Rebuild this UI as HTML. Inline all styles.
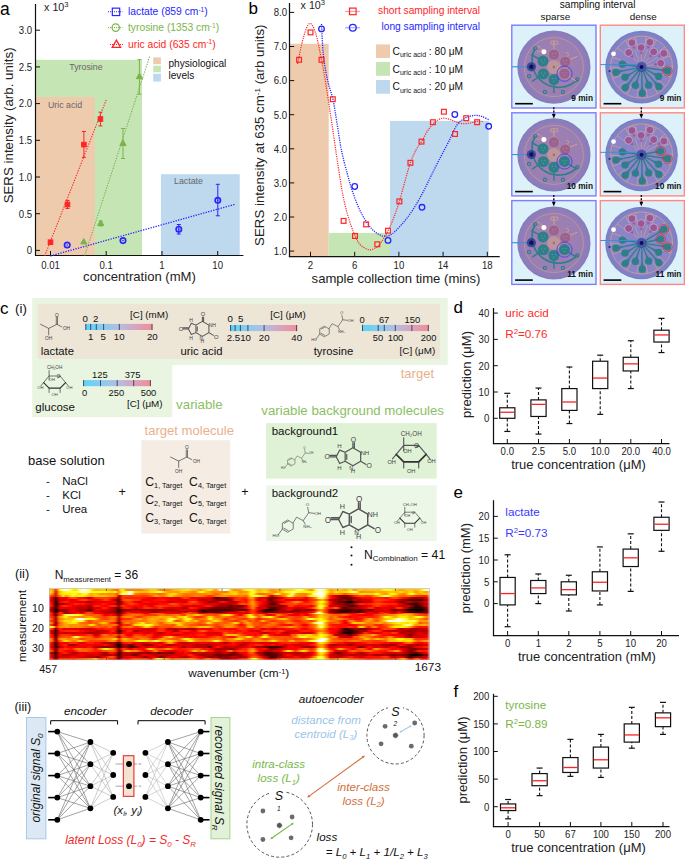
<!DOCTYPE html>
<html><head><meta charset="utf-8"><title>figure</title>
<style>html,body{margin:0;padding:0;background:#fff;} svg{display:block;} text{font-family:"Liberation Sans",sans-serif;}</style>
</head><body>
<svg width="685" height="859" viewBox="0 0 685 859" font-family="Liberation Sans, sans-serif">
<rect width="685" height="859" fill="#fff"/>
<defs>
<radialGradient id="gs" cx="50%" cy="50%" r="50%"><stop offset="0" stop-color="#a27eae"/><stop offset="0.75" stop-color="#9a7fb4"/><stop offset="1" stop-color="#867cbc"/></radialGradient>
<radialGradient id="gd" cx="50%" cy="50%" r="50%"><stop offset="0" stop-color="#8e84c6"/><stop offset="0.8" stop-color="#8a84c8"/><stop offset="1" stop-color="#7a7ec4"/></radialGradient>
<linearGradient id="cb1"><stop offset="0" stop-color="#5ed3f6"/><stop offset="0.25" stop-color="#86cdf0"/><stop offset="0.5" stop-color="#b2bfe0"/><stop offset="0.72" stop-color="#d4a6c4"/><stop offset="1" stop-color="#f28d99"/></linearGradient>
<linearGradient id="cb2"><stop offset="0" stop-color="#5ed3f6"/><stop offset="0.25" stop-color="#86cdf0"/><stop offset="0.5" stop-color="#b2bfe0"/><stop offset="0.72" stop-color="#d4a6c4"/><stop offset="1" stop-color="#f28d99"/></linearGradient>
<linearGradient id="cb3"><stop offset="0" stop-color="#5ed3f6"/><stop offset="0.25" stop-color="#86cdf0"/><stop offset="0.5" stop-color="#b2bfe0"/><stop offset="0.72" stop-color="#d4a6c4"/><stop offset="1" stop-color="#f28d99"/></linearGradient>
<linearGradient id="cb4"><stop offset="0" stop-color="#5ed3f6"/><stop offset="0.25" stop-color="#86cdf0"/><stop offset="0.5" stop-color="#b2bfe0"/><stop offset="0.72" stop-color="#d4a6c4"/><stop offset="1" stop-color="#f28d99"/></linearGradient>
<filter id="hblur" x="0" y="0" width="1" height="1"><feGaussianBlur stdDeviation="1.1 0.35"/></filter>
</defs>
<text x="0" y="14.6" font-size="17.5" text-anchor="start" fill="#000" >a</text>
<rect x="35.5" y="59.8" width="106.5" height="195.7" fill="#c6e5b5" />
<rect x="35.5" y="97" width="59.2" height="158.5" fill="#efcbae" />
<rect x="160.9" y="174.2" width="78.8" height="81.3" fill="#bed8ee" />
<text x="69.3" y="69.9" font-size="8.8" text-anchor="start" fill="#666" >Tyrosine</text>
<text x="48" y="107.9" font-size="8.8" text-anchor="start" fill="#666" >Uric acid</text>
<text x="174" y="184.3" font-size="8.8" text-anchor="start" fill="#666" >Lactate</text>
<line x1="35.5" y1="4" x2="35.5" y2="256" stroke="#111" stroke-width="1.2" />
<line x1="35" y1="255.5" x2="243.4" y2="255.5" stroke="#111" stroke-width="1.2" />
<line x1="35.5" y1="250.4" x2="40" y2="250.4" stroke="#111" stroke-width="1" />
<text transform="translate(32.2,254.2) scale(0.89,1)" font-size="10.8" text-anchor="end" fill="#222">0</text>
<line x1="35.5" y1="213.7" x2="40" y2="213.7" stroke="#111" stroke-width="1" />
<text transform="translate(32.2,217.5) scale(0.89,1)" font-size="10.8" text-anchor="end" fill="#222">0.5</text>
<line x1="35.5" y1="177" x2="40" y2="177" stroke="#111" stroke-width="1" />
<text transform="translate(32.2,180.8) scale(0.89,1)" font-size="10.8" text-anchor="end" fill="#222">1.0</text>
<line x1="35.5" y1="140.3" x2="40" y2="140.3" stroke="#111" stroke-width="1" />
<text transform="translate(32.2,144.1) scale(0.89,1)" font-size="10.8" text-anchor="end" fill="#222">1.5</text>
<line x1="35.5" y1="103.6" x2="40" y2="103.6" stroke="#111" stroke-width="1" />
<text transform="translate(32.2,107.4) scale(0.89,1)" font-size="10.8" text-anchor="end" fill="#222">2.0</text>
<line x1="35.5" y1="66.9" x2="40" y2="66.9" stroke="#111" stroke-width="1" />
<text transform="translate(32.2,70.7) scale(0.89,1)" font-size="10.8" text-anchor="end" fill="#222">2.5</text>
<line x1="35.5" y1="30.2" x2="40" y2="30.2" stroke="#111" stroke-width="1" />
<text transform="translate(32.2,34) scale(0.89,1)" font-size="10.8" text-anchor="end" fill="#222">3.0</text>
<line x1="50.5" y1="255.5" x2="50.5" y2="251" stroke="#111" stroke-width="1" />
<text transform="translate(50.5,268.5) scale(0.89,1)" font-size="10.8" text-anchor="middle" fill="#222">0.01</text>
<line x1="106.2" y1="255.5" x2="106.2" y2="251" stroke="#111" stroke-width="1" />
<text transform="translate(106.2,268.5) scale(0.89,1)" font-size="10.8" text-anchor="middle" fill="#222">0.1</text>
<line x1="162" y1="255.5" x2="162" y2="251" stroke="#111" stroke-width="1" />
<text transform="translate(162,268.5) scale(0.89,1)" font-size="10.8" text-anchor="middle" fill="#222">1</text>
<line x1="217.7" y1="255.5" x2="217.7" y2="251" stroke="#111" stroke-width="1" />
<text transform="translate(217.7,268.5) scale(0.89,1)" font-size="10.8" text-anchor="middle" fill="#222">10</text>
<text x="44.1" y="11.1" font-size="10.7" text-anchor="start" fill="#222" >x 10<tspan dy="-4" font-size="7.6">3</tspan></text>
<text x="139.5" y="280.9" font-size="13.1" text-anchor="middle" fill="#222" >concentration (mM)</text>
<text transform="translate(12.9,125.4) rotate(-90)" font-size="13.3" text-anchor="middle" fill="#222">SERS intensity (arb. units)</text>
<line x1="108" y1="11.75" x2="122.4" y2="11.75" stroke="#2626ff" stroke-width="1" stroke-dasharray="1 1"/>
<rect x="112.3" y="8.15" width="7.4" height="7.4" fill="none" stroke="#2626ff" stroke-width="1.2" />
<line x1="108" y1="27.6" x2="122.4" y2="27.6" stroke="#78b54a" stroke-width="1" stroke-dasharray="1 1"/>
<circle cx="115.7" cy="27.6" r="3.7" fill="none" stroke="#78b54a" stroke-width="1.2"/>
<line x1="110" y1="44.5" x2="124" y2="44.5" stroke="#ff2525" stroke-width="1" stroke-dasharray="1 1"/>
<polygon points="116.4,40.07 112.2,47.38 120.6,47.38" fill="none" stroke="#ff2525" stroke-width="1.3" stroke-linejoin="miter"/>
<text x="128" y="14.9" font-size="10.3" text-anchor="start" fill="#2626ff" >lactate (859 cm<tspan dy="-3.3" font-size="6.5">-1</tspan><tspan dy="3.3">)</tspan></text>
<text x="128" y="30.8" font-size="10.3" text-anchor="start" fill="#78b54a" >tyrosine (1353 cm<tspan dy="-3.3" font-size="6.5">-1</tspan><tspan dy="3.3">)</tspan></text>
<text x="128" y="47.7" font-size="10.3" text-anchor="start" fill="#ff2525" >uric acid (635 cm<tspan dy="-3.3" font-size="6.5">-1</tspan><tspan dy="3.3">)</tspan></text>
<rect x="153.2" y="57.4" width="7.7" height="6.8" fill="#efcbae" />
<rect x="153.2" y="65.7" width="7.7" height="6.6" fill="#c6e5b5" />
<rect x="153.2" y="73.8" width="7.7" height="7.7" fill="#bed8ee" />
<text x="168.5" y="67" font-size="10.1" text-anchor="start" fill="#111" >physiological</text>
<text x="168.5" y="79" font-size="10.1" text-anchor="start" fill="#111" >levels</text>
<line x1="44.7" y1="255.9" x2="106.4" y2="99.5" stroke="#ff2525" stroke-width="1.1" stroke-dasharray="1.3 1.3"/>
<line x1="84.7" y1="255.5" x2="149.6" y2="56.6" stroke="#78b54a" stroke-width="1.1" stroke-dasharray="1.3 1.3"/>
<line x1="50.4" y1="256" x2="234.7" y2="204.4" stroke="#2626ff" stroke-width="1.3" stroke-dasharray="1.3 1.3"/>
<line x1="67.5" y1="200.5" x2="67.5" y2="208.5" stroke="#ff2525" stroke-width="1" />
<line x1="65.5" y1="200.5" x2="69.5" y2="200.5" stroke="#ff2525" stroke-width="1" />
<line x1="65.5" y1="208.5" x2="69.5" y2="208.5" stroke="#ff2525" stroke-width="1" />
<line x1="83.9" y1="131.5" x2="83.9" y2="157.4" stroke="#ff2525" stroke-width="1" />
<line x1="81.9" y1="131.5" x2="85.9" y2="131.5" stroke="#ff2525" stroke-width="1" />
<line x1="81.9" y1="157.4" x2="85.9" y2="157.4" stroke="#ff2525" stroke-width="1" />
<line x1="100.4" y1="112.2" x2="100.4" y2="125.9" stroke="#ff2525" stroke-width="1" />
<line x1="98.4" y1="112.2" x2="102.4" y2="112.2" stroke="#ff2525" stroke-width="1" />
<line x1="98.4" y1="125.9" x2="102.4" y2="125.9" stroke="#ff2525" stroke-width="1" />
<rect x="48.2" y="239.9" width="4.6" height="4.6" fill="#ff2525" stroke="#ff2525" stroke-width="1" />
<rect x="65.2" y="202.2" width="4.6" height="4.6" fill="#ff2525" stroke="#ff2525" stroke-width="1" />
<rect x="81.6" y="142.3" width="4.6" height="4.6" fill="#ff2525" stroke="#ff2525" stroke-width="1" />
<rect x="98.1" y="116.7" width="4.6" height="4.6" fill="#ff2525" stroke="#ff2525" stroke-width="1" />
<line x1="123" y1="128.5" x2="123" y2="158.5" stroke="#78b54a" stroke-width="1" />
<line x1="121" y1="128.5" x2="125" y2="128.5" stroke="#78b54a" stroke-width="1" />
<line x1="121" y1="158.5" x2="125" y2="158.5" stroke="#78b54a" stroke-width="1" />
<line x1="139.4" y1="59.6" x2="139.4" y2="94.2" stroke="#78b54a" stroke-width="1" />
<line x1="137.4" y1="59.6" x2="141.4" y2="59.6" stroke="#78b54a" stroke-width="1" />
<line x1="137.4" y1="94.2" x2="141.4" y2="94.2" stroke="#78b54a" stroke-width="1" />
<line x1="100.7" y1="221" x2="100.7" y2="226" stroke="#78b54a" stroke-width="1" />
<line x1="98.7" y1="221" x2="102.7" y2="221" stroke="#78b54a" stroke-width="1" />
<line x1="98.7" y1="226" x2="102.7" y2="226" stroke="#78b54a" stroke-width="1" />
<polygon points="83.8,238.56 80.7,243.95 86.9,243.95" fill="#78b54a" stroke="#78b54a" stroke-width="1" stroke-linejoin="miter"/>
<polygon points="100.7,220.06 97.6,225.45 103.8,225.45" fill="#78b54a" stroke="#78b54a" stroke-width="1" stroke-linejoin="miter"/>
<polygon points="123,140.06 119.9,145.45 126.1,145.45" fill="#78b54a" stroke="#78b54a" stroke-width="1" stroke-linejoin="miter"/>
<polygon points="139.4,73.26 136.3,78.65 142.5,78.65" fill="#78b54a" stroke="#78b54a" stroke-width="1" stroke-linejoin="miter"/>
<line x1="178.8" y1="224.5" x2="178.8" y2="234" stroke="#2626ff" stroke-width="1" />
<line x1="176.8" y1="224.5" x2="180.8" y2="224.5" stroke="#2626ff" stroke-width="1" />
<line x1="176.8" y1="234" x2="180.8" y2="234" stroke="#2626ff" stroke-width="1" />
<line x1="217.8" y1="184.3" x2="217.8" y2="215.8" stroke="#2626ff" stroke-width="1" />
<line x1="215.8" y1="184.3" x2="219.8" y2="184.3" stroke="#2626ff" stroke-width="1" />
<line x1="215.8" y1="215.8" x2="219.8" y2="215.8" stroke="#2626ff" stroke-width="1" />
<circle cx="67.2" cy="245" r="2.7" fill="none" stroke="#2626ff" stroke-width="1.7"/>
<circle cx="67.2" cy="245" r="0.8" fill="#2626ff"/>
<circle cx="123" cy="240.6" r="2.7" fill="none" stroke="#2626ff" stroke-width="1.7"/>
<circle cx="123" cy="240.6" r="0.8" fill="#2626ff"/>
<circle cx="178.8" cy="229.2" r="2.7" fill="none" stroke="#2626ff" stroke-width="1.7"/>
<circle cx="178.8" cy="229.2" r="0.8" fill="#2626ff"/>
<circle cx="217.8" cy="200.3" r="2.7" fill="none" stroke="#2626ff" stroke-width="1.7"/>
<circle cx="217.8" cy="200.3" r="0.8" fill="#2626ff"/>
<text x="248.5" y="14.3" font-size="17" text-anchor="start" fill="#000" >b</text>
<rect x="289.9" y="43.8" width="38.8" height="212.5" fill="#efcbae" />
<rect x="328.7" y="232.9" width="61.3" height="23.4" fill="#c6e5b5" />
<rect x="390" y="120.9" width="98.7" height="135.4" fill="#bed8ee" />
<line x1="289.5" y1="3" x2="289.5" y2="257.1" stroke="#111" stroke-width="1.25" />
<line x1="288.9" y1="256.5" x2="499.7" y2="256.5" stroke="#111" stroke-width="1.25" />
<line x1="289.5" y1="251.1" x2="294.2" y2="251.1" stroke="#111" stroke-width="1" />
<text transform="translate(287,254.9) scale(0.89,1)" font-size="10.8" text-anchor="end" fill="#222">1.0</text>
<line x1="289.5" y1="217" x2="294.2" y2="217" stroke="#111" stroke-width="1" />
<text transform="translate(287,220.8) scale(0.89,1)" font-size="10.8" text-anchor="end" fill="#222">2.0</text>
<line x1="289.5" y1="182.9" x2="294.2" y2="182.9" stroke="#111" stroke-width="1" />
<text transform="translate(287,186.7) scale(0.89,1)" font-size="10.8" text-anchor="end" fill="#222">3.0</text>
<line x1="289.5" y1="148.8" x2="294.2" y2="148.8" stroke="#111" stroke-width="1" />
<text transform="translate(287,152.6) scale(0.89,1)" font-size="10.8" text-anchor="end" fill="#222">4.0</text>
<line x1="289.5" y1="114.7" x2="294.2" y2="114.7" stroke="#111" stroke-width="1" />
<text transform="translate(287,118.5) scale(0.89,1)" font-size="10.8" text-anchor="end" fill="#222">5.0</text>
<line x1="289.5" y1="80.6" x2="294.2" y2="80.6" stroke="#111" stroke-width="1" />
<text transform="translate(287,84.4) scale(0.89,1)" font-size="10.8" text-anchor="end" fill="#222">6.0</text>
<line x1="289.5" y1="46.5" x2="294.2" y2="46.5" stroke="#111" stroke-width="1" />
<text transform="translate(287,50.3) scale(0.89,1)" font-size="10.8" text-anchor="end" fill="#222">7.0</text>
<line x1="289.5" y1="12.4" x2="294.2" y2="12.4" stroke="#111" stroke-width="1" />
<text transform="translate(287,16.2) scale(0.89,1)" font-size="10.8" text-anchor="end" fill="#222">8.0</text>
<line x1="310.5" y1="256.5" x2="310.5" y2="251.8" stroke="#111" stroke-width="1" />
<text transform="translate(310.5,268.9) scale(0.89,1)" font-size="10.8" text-anchor="middle" fill="#222">2</text>
<line x1="354.7" y1="256.5" x2="354.7" y2="251.8" stroke="#111" stroke-width="1" />
<text transform="translate(354.7,268.9) scale(0.89,1)" font-size="10.8" text-anchor="middle" fill="#222">6</text>
<line x1="398.9" y1="256.5" x2="398.9" y2="251.8" stroke="#111" stroke-width="1" />
<text transform="translate(398.9,268.9) scale(0.89,1)" font-size="10.8" text-anchor="middle" fill="#222">10</text>
<line x1="443.1" y1="256.5" x2="443.1" y2="251.8" stroke="#111" stroke-width="1" />
<text transform="translate(443.1,268.9) scale(0.89,1)" font-size="10.8" text-anchor="middle" fill="#222">14</text>
<line x1="487.3" y1="256.5" x2="487.3" y2="251.8" stroke="#111" stroke-width="1" />
<text transform="translate(487.3,268.9) scale(0.89,1)" font-size="10.8" text-anchor="middle" fill="#222">18</text>
<text x="300.6" y="9.2" font-size="10.7" text-anchor="start" fill="#222" >x 10<tspan dy="-4" font-size="7.6">3</tspan></text>
<text x="480.4" y="283.3" font-size="13.1" text-anchor="end" fill="#222" >sample collection time (mins)</text>
<text transform="translate(264.3,135.2) rotate(-90)" font-size="13.3" text-anchor="middle" fill="#222">SERS intensity at 635 cm<tspan dy="-4.5" font-size="8">-1</tspan><tspan dy="4.5"> (arb units)</tspan></text>
<text x="480" y="13.6" font-size="10.2" text-anchor="end" fill="#ff2525" >short sampling interval</text>
<text x="480" y="29.8" font-size="10.2" text-anchor="end" fill="#2626ff" >long sampling interval</text>
<line x1="345.5" y1="11.4" x2="360" y2="11.4" stroke="#ff2525" stroke-width="1" stroke-dasharray="1 1"/>
<rect x="349.5" y="8.1" width="6.6" height="6.6" fill="none" stroke="#ff2525" stroke-width="1.2" />
<line x1="345.5" y1="27.8" x2="360" y2="27.8" stroke="#2626ff" stroke-width="1" stroke-dasharray="1 1"/>
<circle cx="352.8" cy="27.8" r="3.4" fill="none" stroke="#2626ff" stroke-width="1.3"/>
<rect x="376" y="44.4" width="14" height="13.6" fill="#efcbae" />
<text x="392.6" y="54.8" font-size="10.2" text-anchor="start" fill="#111" >C<tspan dy="2.6" font-size="7">uric acid</tspan><tspan dy="-2.6"> : 80 μM</tspan></text>
<rect x="376" y="62" width="14" height="13.8" fill="#c6e5b5" />
<text x="392.6" y="72.5" font-size="10.2" text-anchor="start" fill="#111" >C<tspan dy="2.6" font-size="7">uric acid</tspan><tspan dy="-2.6"> : 10 μM</tspan></text>
<rect x="376" y="80" width="14" height="13.7" fill="#bed8ee" />
<text x="392.6" y="90.45" font-size="10.2" text-anchor="start" fill="#111" >C<tspan dy="2.6" font-size="7">uric acid</tspan><tspan dy="-2.6"> : 20 μM</tspan></text>
<path d="M297.5,64 C298.5,59.53 301.5,43.95 303.5,37.2 C305.5,30.45 307.5,24.23 309.5,23.5 C311.5,22.77 313.5,26.75 315.5,32.8 C317.5,38.85 319.83,51.6 321.5,59.8 C323.17,68 324.17,73.97 325.5,82 C326.83,90.03 328.25,99.83 329.5,108 C330.75,116.17 331.67,122 333,131 C334.33,140 335.83,151.22 337.5,162 C339.17,172.78 341.25,186.7 343,195.7 C344.75,204.7 346.18,209.78 348,216 C349.82,222.22 351.9,228.25 353.9,233 C355.9,237.75 357.45,241.7 360,244.5 C362.55,247.3 366.53,249.3 369.2,249.8 C371.87,250.3 374.18,248.48 376,247.5 C377.82,246.52 378.1,246.7 380.1,243.9 C382.1,241.1 385.68,235.18 388,230.7 C390.32,226.22 392.1,221.88 394,217 C395.9,212.12 397.57,207.4 399.4,201.4 C401.23,195.4 403.17,187.43 405,181 C406.83,174.57 408.57,167.97 410.4,162.8 C412.23,157.63 414.15,153.53 416,150 C417.85,146.47 419.58,144.77 421.5,141.6 C423.42,138.43 425.58,133.93 427.5,131 C429.42,128.07 431.25,125.83 433,124 C434.75,122.17 436.33,120.97 438,120 C439.67,119.03 441,118.28 443,118.2 C445,118.12 447.83,118.87 450,119.5 C452.17,120.13 453.83,121.3 456,122 C458.17,122.7 460.67,123.53 463,123.7 C465.33,123.87 467.67,123.37 470,123 C472.33,122.63 474.83,121.75 477,121.5 C479.17,121.25 482,121.5 483,121.5" fill="none" stroke="#ff2525" stroke-width="1.2" stroke-dasharray="1.2 1.1"/>
<path d="M321.5,24 C321.68,27.5 322.15,38.67 322.6,45 C323.05,51.33 323.3,55.83 324.2,62 C325.1,68.17 326.53,75.73 328,82 C329.47,88.27 331.53,92.93 333,99.6 C334.47,106.27 335.4,113.6 336.8,122 C338.2,130.4 339.65,141.37 341.4,150 C343.15,158.63 345.53,167.13 347.3,173.8 C349.07,180.47 350.18,184.53 352,190 C353.82,195.47 356.2,201.93 358.2,206.6 C360.2,211.27 361.8,214.35 364,218 C366.2,221.65 369.07,225.83 371.4,228.5 C373.73,231.17 375.82,232.72 378,234 C380.18,235.28 382.17,236.2 384.5,236.2 C386.83,236.2 388.78,236.37 392,234 C395.22,231.63 400.13,226.33 403.8,222 C407.47,217.67 410.72,213.12 414,208 C417.28,202.88 420.5,196.97 423.5,191.3 C426.5,185.63 429.08,179.83 432,174 C434.92,168.17 438.25,161.63 441,156.3 C443.75,150.97 445.95,147.05 448.5,142 C451.05,136.95 454.05,129.67 456.3,126 C458.55,122.33 459.88,121.58 462,120 C464.12,118.42 466.67,117.27 469,116.5 C471.33,115.73 473.83,115.4 476,115.4 C478.17,115.4 479.8,115.73 482,116.5 C484.2,117.27 488,119.42 489.2,120" fill="none" stroke="#2626ff" stroke-width="1.3" stroke-dasharray="1.2 1.1"/>
<rect x="296.7" y="57.4" width="4.8" height="4.8" fill="none" stroke="#ff2525" stroke-width="1.2" />
<rect x="308.1" y="30" width="4.8" height="4.8" fill="none" stroke="#ff2525" stroke-width="1.2" />
<rect x="319.1" y="57.4" width="4.8" height="4.8" fill="none" stroke="#ff2525" stroke-width="1.2" />
<rect x="330.4" y="96.8" width="4.8" height="4.8" fill="none" stroke="#ff2525" stroke-width="1.2" />
<rect x="341.2" y="218.5" width="4.8" height="4.8" fill="none" stroke="#ff2525" stroke-width="1.2" />
<rect x="352.6" y="233.6" width="4.8" height="4.8" fill="none" stroke="#ff2525" stroke-width="1.2" />
<rect x="363.7" y="222" width="4.8" height="4.8" fill="none" stroke="#ff2525" stroke-width="1.2" />
<rect x="374.9" y="241.9" width="4.8" height="4.8" fill="none" stroke="#ff2525" stroke-width="1.2" />
<rect x="385.6" y="228.3" width="4.8" height="4.8" fill="none" stroke="#ff2525" stroke-width="1.2" />
<rect x="397" y="199" width="4.8" height="4.8" fill="none" stroke="#ff2525" stroke-width="1.2" />
<rect x="408" y="160.4" width="4.8" height="4.8" fill="none" stroke="#ff2525" stroke-width="1.2" />
<rect x="419.1" y="139.2" width="4.8" height="4.8" fill="none" stroke="#ff2525" stroke-width="1.2" />
<rect x="430.5" y="119.8" width="4.8" height="4.8" fill="none" stroke="#ff2525" stroke-width="1.2" />
<rect x="441.5" y="109.3" width="4.8" height="4.8" fill="none" stroke="#ff2525" stroke-width="1.2" />
<rect x="452.6" y="131.6" width="4.8" height="4.8" fill="none" stroke="#ff2525" stroke-width="1.2" />
<rect x="463.8" y="115.8" width="4.8" height="4.8" fill="none" stroke="#ff2525" stroke-width="1.2" />
<rect x="474.7" y="119.8" width="4.8" height="4.8" fill="none" stroke="#ff2525" stroke-width="1.2" />
<circle cx="321.5" cy="28.9" r="2.8" fill="none" stroke="#2626ff" stroke-width="1.3"/>
<circle cx="354.7" cy="186.5" r="2.8" fill="none" stroke="#2626ff" stroke-width="1.3"/>
<circle cx="388" cy="240.4" r="2.8" fill="none" stroke="#2626ff" stroke-width="1.3"/>
<circle cx="422" cy="207.3" r="2.8" fill="none" stroke="#2626ff" stroke-width="1.3"/>
<circle cx="454.8" cy="114.5" r="2.8" fill="none" stroke="#2626ff" stroke-width="1.3"/>
<circle cx="488.7" cy="126.3" r="2.8" fill="none" stroke="#2626ff" stroke-width="1.3"/>
<text x="597.6" y="7.6" font-size="10.1" text-anchor="middle" fill="#111" >sampling interval</text>
<text x="555.4" y="19.9" font-size="9.9" text-anchor="middle" fill="#111" >sparse</text>
<text x="643.2" y="19.9" font-size="9.9" text-anchor="middle" fill="#111" >dense</text>
<rect x="511.8" y="25.2" width="84.2" height="82.8" fill="#dcf1f9" stroke="#7d7dff" stroke-width="1.4" />
<circle cx="553.9" cy="67.1" r="36.6" fill="url(#gs)"/>
<circle cx="553.9" cy="67.1" r="29.5" fill="none" stroke="#d6a08a" stroke-width="0.8" opacity="0.75"/>
<path d="M534.9,49.1 l4,-3 l3,3 l-3,3 z M550.9,41.1 h7 v3 h-7 z M565.9,52.1 l3,2 l-2,3" fill="none" stroke="#d6a08a" stroke-width="1" opacity="0.8"/>
<path d="M535.16,48.36 A26.5,26.5 0 0 0 577.3,79.54" fill="none" stroke="#2f7f8a" stroke-width="1.7"/>
<circle cx="535.16" cy="48.36" r="1.6" fill="none" stroke="#2f7f8a" stroke-width="1.2"/>
<circle cx="529" cy="76.16" r="1.6" fill="none" stroke="#2f7f8a" stroke-width="1.2"/>
<circle cx="544.84" cy="92" r="1.6" fill="none" stroke="#2f7f8a" stroke-width="1.2"/>
<circle cx="562.96" cy="92" r="1.6" fill="none" stroke="#2f7f8a" stroke-width="1.2"/>
<circle cx="577.3" cy="79.54" r="1.6" fill="none" stroke="#2f7f8a" stroke-width="1.2"/>
<line x1="511.8" y1="66.8" x2="532.9" y2="66.8" stroke="#3c8fd8" stroke-width="1.1" />
<circle cx="531.4" cy="66.8" r="4.6" fill="#2a3c9a" opacity="0.85"/>
<circle cx="531.4" cy="66.8" r="2.2" fill="#0c1450"/>
<circle cx="543.9" cy="51.7" r="2.5" fill="#ffffff"/>
<circle cx="553.9" cy="67.1" r="6.8" fill="#c9a090" opacity="0.7"/>
<circle cx="553.9" cy="67.1" r="1.3" fill="#9a6a8a"/>
<line x1="542.97" y1="61.04" x2="531.16" y2="54.49" stroke="#2f7f8a" stroke-width="1.5" />
<circle cx="542.97" cy="61.04" r="5.5" fill="#2f7f8a"/>
<circle cx="541.37" cy="60.04" r="0.5" fill="#9fc6cc" opacity="0.6"/>
<circle cx="544.57" cy="60.04" r="0.5" fill="#9fc6cc" opacity="0.6"/>
<circle cx="542.97" cy="62.64" r="0.5" fill="#9fc6cc" opacity="0.6"/>
<line x1="543.42" y1="73.91" x2="532.09" y2="81.26" stroke="#2f7f8a" stroke-width="1.5" />
<circle cx="543.42" cy="73.91" r="5.5" fill="#2f7f8a"/>
<circle cx="541.82" cy="72.91" r="0.5" fill="#9fc6cc" opacity="0.6"/>
<circle cx="545.02" cy="72.91" r="0.5" fill="#9fc6cc" opacity="0.6"/>
<circle cx="543.42" cy="75.51" r="0.5" fill="#9fc6cc" opacity="0.6"/>
<line x1="553.9" y1="79.6" x2="553.9" y2="93.1" stroke="#2f7f8a" stroke-width="1.5" />
<circle cx="553.9" cy="79.6" r="5.5" fill="#2f7f8a"/>
<circle cx="552.3" cy="78.6" r="0.5" fill="#9fc6cc" opacity="0.6"/>
<circle cx="555.5" cy="78.6" r="0.5" fill="#9fc6cc" opacity="0.6"/>
<circle cx="553.9" cy="81.2" r="0.5" fill="#9fc6cc" opacity="0.6"/>
<line x1="553.9" y1="54.6" x2="553.9" y2="41.1" stroke="#d6a08a" stroke-width="1" />
<circle cx="553.9" cy="54.6" r="5.5" fill="#9a6290"/>
<circle cx="553.9" cy="54.6" r="5.5" fill="none" stroke="#d6a08a" stroke-width="0.6" opacity="0.7"/>
<circle cx="552.3" cy="53.6" r="0.5" fill="#9fc6cc" opacity="0.6"/>
<circle cx="555.5" cy="53.6" r="0.5" fill="#9fc6cc" opacity="0.6"/>
<circle cx="553.9" cy="56.2" r="0.5" fill="#9fc6cc" opacity="0.6"/>
<line x1="565.23" y1="61.82" x2="577.46" y2="56.11" stroke="#d6a08a" stroke-width="1" />
<circle cx="565.23" cy="61.82" r="5.5" fill="#9a6290"/>
<circle cx="565.23" cy="61.82" r="5.5" fill="none" stroke="#d6a08a" stroke-width="0.6" opacity="0.7"/>
<circle cx="563.63" cy="60.82" r="0.5" fill="#9fc6cc" opacity="0.6"/>
<circle cx="566.83" cy="60.82" r="0.5" fill="#9fc6cc" opacity="0.6"/>
<circle cx="565.23" cy="63.42" r="0.5" fill="#9fc6cc" opacity="0.6"/>
<line x1="564.5" y1="73.72" x2="575.95" y2="80.88" stroke="#d6a08a" stroke-width="1" />
<circle cx="564.5" cy="73.72" r="5.5" fill="#9a6290"/>
<circle cx="564.5" cy="73.72" r="5.5" fill="none" stroke="#d6a08a" stroke-width="0.6" opacity="0.7"/>
<circle cx="562.9" cy="72.72" r="0.5" fill="#9fc6cc" opacity="0.6"/>
<circle cx="566.1" cy="72.72" r="0.5" fill="#9fc6cc" opacity="0.6"/>
<circle cx="564.5" cy="75.32" r="0.5" fill="#9fc6cc" opacity="0.6"/>
<circle cx="564.5" cy="73.72" r="7.6" fill="none" stroke="#3a3aff" stroke-width="0.8"/>
<line x1="515.1" y1="103.7" x2="532.8" y2="103.7" stroke="#000" stroke-width="1.6" />
<text x="593" y="101" font-size="8.3" text-anchor="end" fill="#111" font-weight="bold">9 min</text>
<rect x="600.3" y="25.2" width="84.1" height="82.8" fill="#dcf1f9" stroke="#ff8884" stroke-width="1.4" />
<circle cx="641.55" cy="67.1" r="36.3" fill="url(#gd)"/>
<circle cx="641.55" cy="67.1" r="31" fill="none" stroke="#d6a08a" stroke-width="0.9" opacity="0.9"/>
<line x1="670.39" y1="55.74" x2="661.55" y2="59.22" stroke="#d6a08a" stroke-width="0.8" opacity="0.9"/>
<line x1="664.77" y1="46.56" x2="657.65" y2="52.85" stroke="#d6a08a" stroke-width="0.8" opacity="0.9"/>
<line x1="656.34" y1="39.86" x2="651.81" y2="48.21" stroke="#d6a08a" stroke-width="0.8" opacity="0.9"/>
<line x1="646.13" y1="36.44" x2="644.73" y2="45.84" stroke="#d6a08a" stroke-width="0.8" opacity="0.9"/>
<line x1="635.37" y1="36.72" x2="637.26" y2="46.03" stroke="#d6a08a" stroke-width="0.8" opacity="0.9"/>
<line x1="625.35" y1="40.67" x2="630.32" y2="48.77" stroke="#d6a08a" stroke-width="0.8" opacity="0.9"/>
<line x1="617.29" y1="47.8" x2="624.72" y2="53.72" stroke="#d6a08a" stroke-width="0.8" opacity="0.9"/>
<line x1="612.15" y1="57.26" x2="621.16" y2="60.28" stroke="#d6a08a" stroke-width="0.8" opacity="0.9"/>
<line x1="610.56" y1="67.91" x2="620.06" y2="67.66" stroke="#d6a08a" stroke-width="0.8" opacity="0.9"/>
<line x1="612.71" y1="78.46" x2="621.55" y2="74.98" stroke="#d6a08a" stroke-width="0.8" opacity="0.9"/>
<line x1="618.33" y1="87.64" x2="625.45" y2="81.35" stroke="#d6a08a" stroke-width="0.8" opacity="0.9"/>
<line x1="626.76" y1="94.34" x2="631.29" y2="85.99" stroke="#d6a08a" stroke-width="0.8" opacity="0.9"/>
<line x1="636.97" y1="97.76" x2="638.37" y2="88.36" stroke="#d6a08a" stroke-width="0.8" opacity="0.9"/>
<line x1="647.73" y1="97.48" x2="645.84" y2="88.17" stroke="#d6a08a" stroke-width="0.8" opacity="0.9"/>
<line x1="657.75" y1="93.53" x2="652.78" y2="85.43" stroke="#d6a08a" stroke-width="0.8" opacity="0.9"/>
<line x1="665.81" y1="86.4" x2="658.38" y2="80.48" stroke="#d6a08a" stroke-width="0.8" opacity="0.9"/>
<line x1="670.95" y1="76.94" x2="661.94" y2="73.92" stroke="#d6a08a" stroke-width="0.8" opacity="0.9"/>
<line x1="672.54" y1="66.29" x2="663.04" y2="66.54" stroke="#d6a08a" stroke-width="0.8" opacity="0.9"/>
<line x1="647.43" y1="65.9" x2="658.7" y2="63.61" stroke="#d6a08a" stroke-width="0.7" />
<circle cx="660.66" cy="63.21" r="3.6" fill="#9a5696"/>
<path d="M661.27,66.21 L660.05,60.21 L653.31,64.71 Z" fill="#9a5696"/>
<circle cx="660.66" cy="63.21" r="3.9" fill="none" stroke="#e8c8c0" stroke-width="0.6" opacity="0.8"/>
<line x1="646.67" y1="63.97" x2="662.18" y2="54.46" stroke="#d6a08a" stroke-width="0.7" />
<circle cx="663.89" cy="53.41" r="3.6" fill="#9a5696"/>
<path d="M665.49,56.02 L662.29,50.8 L657.49,57.33 Z" fill="#9a5696"/>
<circle cx="663.89" cy="53.41" r="3.9" fill="none" stroke="#e8c8c0" stroke-width="0.6" opacity="0.8"/>
<line x1="645.29" y1="62.4" x2="652.44" y2="53.4" stroke="#d6a08a" stroke-width="0.7" />
<circle cx="653.69" cy="51.84" r="3.6" fill="#9a5696"/>
<path d="M656.08,53.74 L651.29,49.93 L649.02,57.71 Z" fill="#9a5696"/>
<circle cx="653.69" cy="51.84" r="3.9" fill="none" stroke="#e8c8c0" stroke-width="0.6" opacity="0.8"/>
<line x1="643.45" y1="61.41" x2="649.23" y2="44.15" stroke="#d6a08a" stroke-width="0.7" />
<circle cx="649.86" cy="42.25" r="3.6" fill="#9a5696"/>
<path d="M652.77,43.22 L646.96,41.28 L647.48,49.37 Z" fill="#9a5696"/>
<circle cx="649.86" cy="42.25" r="3.9" fill="none" stroke="#e8c8c0" stroke-width="0.6" opacity="0.8"/>
<line x1="641.39" y1="61.1" x2="641.09" y2="49.61" stroke="#d6a08a" stroke-width="0.7" />
<circle cx="641.04" cy="47.61" r="3.6" fill="#9a5696"/>
<path d="M644.1,47.53 L637.98,47.69 L641.24,55.1 Z" fill="#9a5696"/>
<circle cx="641.04" cy="47.61" r="3.9" fill="none" stroke="#e8c8c0" stroke-width="0.6" opacity="0.8"/>
<line x1="639.35" y1="61.52" x2="632.68" y2="44.58" stroke="#d6a08a" stroke-width="0.7" />
<circle cx="631.95" cy="42.72" r="3.6" fill="#9a5696"/>
<path d="M634.79,41.6 L629.1,43.84 L634.7,49.7 Z" fill="#9a5696"/>
<circle cx="631.95" cy="42.72" r="3.9" fill="none" stroke="#e8c8c0" stroke-width="0.6" opacity="0.8"/>
<line x1="637.57" y1="62.61" x2="629.95" y2="53.99" stroke="#d6a08a" stroke-width="0.7" />
<circle cx="628.63" cy="52.5" r="3.6" fill="#9a5696"/>
<path d="M630.92,50.47 L626.34,54.52 L633.6,58.11 Z" fill="#9a5696"/>
<circle cx="628.63" cy="52.5" r="3.9" fill="none" stroke="#e8c8c0" stroke-width="0.6" opacity="0.8"/>
<line x1="637.59" y1="66.51" x2="624.24" y2="64.51" stroke="#2f7f8a" stroke-width="1.4" />
<circle cx="622.26" cy="64.22" r="3.6" fill="#2f7f8a"/>
<path d="M622.72,61.19 L621.81,67.24 L629.68,65.33 Z" fill="#2f7f8a"/>
<line x1="637.63" y1="67.9" x2="617.84" y2="71.92" stroke="#2f7f8a" stroke-width="1.4" />
<circle cx="615.88" cy="72.32" r="3.6" fill="#2f7f8a"/>
<path d="M615.27,69.32 L616.49,75.32 L623.23,70.83 Z" fill="#2f7f8a"/>
<line x1="638.14" y1="69.19" x2="626.63" y2="76.24" stroke="#2f7f8a" stroke-width="1.4" />
<circle cx="624.92" cy="77.29" r="3.6" fill="#2f7f8a"/>
<path d="M623.32,74.68 L626.52,79.9 L631.32,73.37 Z" fill="#2f7f8a"/>
<line x1="639.06" y1="70.23" x2="626.49" y2="86.04" stroke="#2f7f8a" stroke-width="1.4" />
<circle cx="625.24" cy="87.6" r="3.6" fill="#2f7f8a"/>
<path d="M622.85,85.7 L627.63,89.51 L629.91,81.73 Z" fill="#2f7f8a"/>
<line x1="640.28" y1="70.89" x2="636" y2="83.7" stroke="#2f7f8a" stroke-width="1.4" />
<circle cx="635.36" cy="85.59" r="3.6" fill="#2f7f8a"/>
<path d="M632.46,84.62 L638.26,86.56 L637.74,78.48 Z" fill="#2f7f8a"/>
<line x1="641.65" y1="71.1" x2="642.18" y2="91.29" stroke="#2f7f8a" stroke-width="1.4" />
<circle cx="642.24" cy="93.29" r="3.6" fill="#2f7f8a"/>
<path d="M639.18,93.37 L645.29,93.21 L642.04,85.79 Z" fill="#2f7f8a"/>
<line x1="643.02" y1="70.82" x2="647.96" y2="83.38" stroke="#2f7f8a" stroke-width="1.4" />
<circle cx="648.7" cy="85.24" r="3.6" fill="#2f7f8a"/>
<path d="M645.85,86.36 L651.54,84.12 L645.95,78.27 Z" fill="#2f7f8a"/>
<line x1="644.2" y1="70.1" x2="657.59" y2="85.22" stroke="#2f7f8a" stroke-width="1.4" />
<circle cx="658.91" cy="86.72" r="3.6" fill="#2f7f8a"/>
<path d="M656.62,88.75 L661.2,84.7 L653.94,81.11 Z" fill="#2f7f8a"/>
<line x1="645.07" y1="69.01" x2="656.93" y2="75.45" stroke="#2f7f8a" stroke-width="1.4" />
<circle cx="658.69" cy="76.4" r="3.6" fill="#2f7f8a"/>
<path d="M657.23,79.09 L660.15,73.72 L652.1,72.83 Z" fill="#2f7f8a"/>
<line x1="645.51" y1="67.69" x2="665.48" y2="70.68" stroke="#2f7f8a" stroke-width="1.4" />
<circle cx="667.46" cy="70.97" r="3.6" fill="#2f7f8a"/>
<path d="M667.01,74 L667.91,67.95 L660.04,69.86 Z" fill="#2f7f8a"/>
<circle cx="667.46" cy="70.97" r="4.8" fill="none" stroke="#e0303a" stroke-width="0.8"/>
<circle cx="641.55" cy="67.1" r="5" fill="#3a4aa8" opacity="0.8"/>
<circle cx="641.55" cy="67.1" r="2" fill="#0a1050"/>
<line x1="600.3" y1="64.6" x2="636.55" y2="64.6" stroke="#3c8fd8" stroke-width="1" />
<circle cx="613.55" cy="53.8" r="2.4" fill="#fff"/>
<circle cx="609.55" cy="71.1" r="1.2" fill="#2a3c9a"/>
<line x1="603.6" y1="103.7" x2="621.3" y2="103.7" stroke="#000" stroke-width="1.6" />
<text x="681.4" y="101" font-size="8.3" text-anchor="end" fill="#111" font-weight="bold">9 min</text>
<rect x="511.8" y="112.8" width="84.2" height="83.1" fill="#dcf1f9" stroke="#7d7dff" stroke-width="1.4" />
<circle cx="553.9" cy="154.85" r="36.6" fill="url(#gs)"/>
<circle cx="553.9" cy="154.85" r="29.5" fill="none" stroke="#d6a08a" stroke-width="0.8" opacity="0.75"/>
<path d="M534.9,136.85 l4,-3 l3,3 l-3,3 z M550.9,128.85 h7 v3 h-7 z M565.9,139.85 l3,2 l-2,3" fill="none" stroke="#d6a08a" stroke-width="1" opacity="0.8"/>
<path d="M535.16,136.11 A26.5,26.5 0 0 0 577.3,167.29" fill="none" stroke="#2f7f8a" stroke-width="1.7"/>
<circle cx="535.16" cy="136.11" r="1.6" fill="none" stroke="#2f7f8a" stroke-width="1.2"/>
<circle cx="529" cy="163.91" r="1.6" fill="none" stroke="#2f7f8a" stroke-width="1.2"/>
<circle cx="544.84" cy="179.75" r="1.6" fill="none" stroke="#2f7f8a" stroke-width="1.2"/>
<circle cx="562.96" cy="179.75" r="1.6" fill="none" stroke="#2f7f8a" stroke-width="1.2"/>
<circle cx="577.3" cy="167.29" r="1.6" fill="none" stroke="#2f7f8a" stroke-width="1.2"/>
<line x1="511.8" y1="154.55" x2="532.9" y2="154.55" stroke="#3c8fd8" stroke-width="1.1" />
<circle cx="531.4" cy="154.55" r="4.6" fill="#2a3c9a" opacity="0.85"/>
<circle cx="531.4" cy="154.55" r="2.2" fill="#0c1450"/>
<circle cx="543.9" cy="139.45" r="2.5" fill="#ffffff"/>
<circle cx="553.9" cy="154.85" r="6.8" fill="#c9a090" opacity="0.7"/>
<circle cx="553.9" cy="154.85" r="1.3" fill="#9a6a8a"/>
<line x1="542.97" y1="148.79" x2="531.16" y2="142.24" stroke="#2f7f8a" stroke-width="1.5" />
<circle cx="542.97" cy="148.79" r="5.5" fill="#2f7f8a"/>
<circle cx="541.37" cy="147.79" r="0.5" fill="#9fc6cc" opacity="0.6"/>
<circle cx="544.57" cy="147.79" r="0.5" fill="#9fc6cc" opacity="0.6"/>
<circle cx="542.97" cy="150.39" r="0.5" fill="#9fc6cc" opacity="0.6"/>
<line x1="543.42" y1="161.66" x2="532.09" y2="169.01" stroke="#2f7f8a" stroke-width="1.5" />
<circle cx="543.42" cy="161.66" r="5.5" fill="#2f7f8a"/>
<circle cx="541.82" cy="160.66" r="0.5" fill="#9fc6cc" opacity="0.6"/>
<circle cx="545.02" cy="160.66" r="0.5" fill="#9fc6cc" opacity="0.6"/>
<circle cx="543.42" cy="163.26" r="0.5" fill="#9fc6cc" opacity="0.6"/>
<line x1="553.9" y1="167.35" x2="553.9" y2="180.85" stroke="#2f7f8a" stroke-width="1.5" />
<circle cx="553.9" cy="167.35" r="5.5" fill="#2f7f8a"/>
<circle cx="552.3" cy="166.35" r="0.5" fill="#9fc6cc" opacity="0.6"/>
<circle cx="555.5" cy="166.35" r="0.5" fill="#9fc6cc" opacity="0.6"/>
<circle cx="553.9" cy="168.95" r="0.5" fill="#9fc6cc" opacity="0.6"/>
<line x1="553.9" y1="142.35" x2="553.9" y2="128.85" stroke="#d6a08a" stroke-width="1" />
<circle cx="553.9" cy="142.35" r="5.5" fill="#9a6290"/>
<circle cx="553.9" cy="142.35" r="5.5" fill="none" stroke="#d6a08a" stroke-width="0.6" opacity="0.7"/>
<circle cx="552.3" cy="141.35" r="0.5" fill="#9fc6cc" opacity="0.6"/>
<circle cx="555.5" cy="141.35" r="0.5" fill="#9fc6cc" opacity="0.6"/>
<circle cx="553.9" cy="143.95" r="0.5" fill="#9fc6cc" opacity="0.6"/>
<line x1="565.23" y1="149.57" x2="577.46" y2="143.86" stroke="#d6a08a" stroke-width="1" />
<circle cx="565.23" cy="149.57" r="5.5" fill="#9a6290"/>
<circle cx="565.23" cy="149.57" r="5.5" fill="none" stroke="#d6a08a" stroke-width="0.6" opacity="0.7"/>
<circle cx="563.63" cy="148.57" r="0.5" fill="#9fc6cc" opacity="0.6"/>
<circle cx="566.83" cy="148.57" r="0.5" fill="#9fc6cc" opacity="0.6"/>
<circle cx="565.23" cy="151.17" r="0.5" fill="#9fc6cc" opacity="0.6"/>
<line x1="564.5" y1="161.47" x2="575.95" y2="168.63" stroke="#2f7f8a" stroke-width="1.5" />
<circle cx="564.5" cy="161.47" r="5.5" fill="#2f7f8a"/>
<circle cx="562.9" cy="160.47" r="0.5" fill="#9fc6cc" opacity="0.6"/>
<circle cx="566.1" cy="160.47" r="0.5" fill="#9fc6cc" opacity="0.6"/>
<circle cx="564.5" cy="163.07" r="0.5" fill="#9fc6cc" opacity="0.6"/>
<circle cx="564.5" cy="161.47" r="7.6" fill="none" stroke="#3a3aff" stroke-width="0.8"/>
<line x1="515.1" y1="191.6" x2="532.8" y2="191.6" stroke="#000" stroke-width="1.6" />
<text x="593" y="188.9" font-size="8.3" text-anchor="end" fill="#111" font-weight="bold">10 min</text>
<rect x="600.3" y="112.8" width="84.1" height="83.1" fill="#dcf1f9" stroke="#ff8884" stroke-width="1.4" />
<circle cx="641.55" cy="154.85" r="36.3" fill="url(#gd)"/>
<circle cx="641.55" cy="154.85" r="31" fill="none" stroke="#d6a08a" stroke-width="0.9" opacity="0.9"/>
<line x1="670.39" y1="143.49" x2="661.55" y2="146.97" stroke="#d6a08a" stroke-width="0.8" opacity="0.9"/>
<line x1="664.77" y1="134.31" x2="657.65" y2="140.6" stroke="#d6a08a" stroke-width="0.8" opacity="0.9"/>
<line x1="656.34" y1="127.61" x2="651.81" y2="135.96" stroke="#d6a08a" stroke-width="0.8" opacity="0.9"/>
<line x1="646.13" y1="124.19" x2="644.73" y2="133.59" stroke="#d6a08a" stroke-width="0.8" opacity="0.9"/>
<line x1="635.37" y1="124.47" x2="637.26" y2="133.78" stroke="#d6a08a" stroke-width="0.8" opacity="0.9"/>
<line x1="625.35" y1="128.42" x2="630.32" y2="136.52" stroke="#d6a08a" stroke-width="0.8" opacity="0.9"/>
<line x1="617.29" y1="135.55" x2="624.72" y2="141.47" stroke="#d6a08a" stroke-width="0.8" opacity="0.9"/>
<line x1="612.15" y1="145.01" x2="621.16" y2="148.03" stroke="#d6a08a" stroke-width="0.8" opacity="0.9"/>
<line x1="610.56" y1="155.66" x2="620.06" y2="155.41" stroke="#d6a08a" stroke-width="0.8" opacity="0.9"/>
<line x1="612.71" y1="166.21" x2="621.55" y2="162.73" stroke="#d6a08a" stroke-width="0.8" opacity="0.9"/>
<line x1="618.33" y1="175.39" x2="625.45" y2="169.1" stroke="#d6a08a" stroke-width="0.8" opacity="0.9"/>
<line x1="626.76" y1="182.09" x2="631.29" y2="173.74" stroke="#d6a08a" stroke-width="0.8" opacity="0.9"/>
<line x1="636.97" y1="185.51" x2="638.37" y2="176.11" stroke="#d6a08a" stroke-width="0.8" opacity="0.9"/>
<line x1="647.73" y1="185.23" x2="645.84" y2="175.92" stroke="#d6a08a" stroke-width="0.8" opacity="0.9"/>
<line x1="657.75" y1="181.28" x2="652.78" y2="173.18" stroke="#d6a08a" stroke-width="0.8" opacity="0.9"/>
<line x1="665.81" y1="174.15" x2="658.38" y2="168.23" stroke="#d6a08a" stroke-width="0.8" opacity="0.9"/>
<line x1="670.95" y1="164.69" x2="661.94" y2="161.67" stroke="#d6a08a" stroke-width="0.8" opacity="0.9"/>
<line x1="672.54" y1="154.04" x2="663.04" y2="154.29" stroke="#d6a08a" stroke-width="0.8" opacity="0.9"/>
<line x1="645.47" y1="154.05" x2="658.7" y2="151.36" stroke="#2f7f8a" stroke-width="1.4" />
<circle cx="660.66" cy="150.96" r="3.6" fill="#2f7f8a"/>
<path d="M661.27,153.96 L660.05,147.96 L653.31,152.46 Z" fill="#2f7f8a"/>
<circle cx="660.66" cy="150.96" r="4.8" fill="none" stroke="#e0303a" stroke-width="0.8"/>
<line x1="646.67" y1="151.72" x2="662.18" y2="142.21" stroke="#d6a08a" stroke-width="0.7" />
<circle cx="663.89" cy="141.16" r="3.6" fill="#9a5696"/>
<path d="M665.49,143.77 L662.29,138.55 L657.49,145.08 Z" fill="#9a5696"/>
<circle cx="663.89" cy="141.16" r="3.9" fill="none" stroke="#e8c8c0" stroke-width="0.6" opacity="0.8"/>
<line x1="645.29" y1="150.15" x2="652.44" y2="141.15" stroke="#d6a08a" stroke-width="0.7" />
<circle cx="653.69" cy="139.59" r="3.6" fill="#9a5696"/>
<path d="M656.08,141.49 L651.29,137.68 L649.02,145.46 Z" fill="#9a5696"/>
<circle cx="653.69" cy="139.59" r="3.9" fill="none" stroke="#e8c8c0" stroke-width="0.6" opacity="0.8"/>
<line x1="643.45" y1="149.16" x2="649.23" y2="131.9" stroke="#d6a08a" stroke-width="0.7" />
<circle cx="649.86" cy="130" r="3.6" fill="#9a5696"/>
<path d="M652.77,130.97 L646.96,129.03 L647.48,137.12 Z" fill="#9a5696"/>
<circle cx="649.86" cy="130" r="3.9" fill="none" stroke="#e8c8c0" stroke-width="0.6" opacity="0.8"/>
<line x1="641.39" y1="148.85" x2="641.09" y2="137.36" stroke="#d6a08a" stroke-width="0.7" />
<circle cx="641.04" cy="135.36" r="3.6" fill="#9a5696"/>
<path d="M644.1,135.28 L637.98,135.44 L641.24,142.85 Z" fill="#9a5696"/>
<circle cx="641.04" cy="135.36" r="3.9" fill="none" stroke="#e8c8c0" stroke-width="0.6" opacity="0.8"/>
<line x1="639.35" y1="149.27" x2="632.68" y2="132.33" stroke="#d6a08a" stroke-width="0.7" />
<circle cx="631.95" cy="130.47" r="3.6" fill="#9a5696"/>
<path d="M634.79,129.35 L629.1,131.59 L634.7,137.45 Z" fill="#9a5696"/>
<circle cx="631.95" cy="130.47" r="3.9" fill="none" stroke="#e8c8c0" stroke-width="0.6" opacity="0.8"/>
<line x1="637.57" y1="150.36" x2="629.95" y2="141.74" stroke="#d6a08a" stroke-width="0.7" />
<circle cx="628.63" cy="140.25" r="3.6" fill="#9a5696"/>
<path d="M630.92,138.22 L626.34,142.27 L633.6,145.86 Z" fill="#9a5696"/>
<circle cx="628.63" cy="140.25" r="3.9" fill="none" stroke="#e8c8c0" stroke-width="0.6" opacity="0.8"/>
<line x1="637.59" y1="154.26" x2="624.24" y2="152.26" stroke="#2f7f8a" stroke-width="1.4" />
<circle cx="622.26" cy="151.97" r="3.6" fill="#2f7f8a"/>
<path d="M622.72,148.94 L621.81,154.99 L629.68,153.08 Z" fill="#2f7f8a"/>
<line x1="637.63" y1="155.65" x2="617.84" y2="159.67" stroke="#2f7f8a" stroke-width="1.4" />
<circle cx="615.88" cy="160.07" r="3.6" fill="#2f7f8a"/>
<path d="M615.27,157.07 L616.49,163.07 L623.23,158.58 Z" fill="#2f7f8a"/>
<line x1="638.14" y1="156.94" x2="626.63" y2="163.99" stroke="#2f7f8a" stroke-width="1.4" />
<circle cx="624.92" cy="165.04" r="3.6" fill="#2f7f8a"/>
<path d="M623.32,162.43 L626.52,167.65 L631.32,161.12 Z" fill="#2f7f8a"/>
<line x1="639.06" y1="157.98" x2="626.49" y2="173.79" stroke="#2f7f8a" stroke-width="1.4" />
<circle cx="625.24" cy="175.35" r="3.6" fill="#2f7f8a"/>
<path d="M622.85,173.45 L627.63,177.26 L629.91,169.48 Z" fill="#2f7f8a"/>
<line x1="640.28" y1="158.64" x2="636" y2="171.45" stroke="#2f7f8a" stroke-width="1.4" />
<circle cx="635.36" cy="173.34" r="3.6" fill="#2f7f8a"/>
<path d="M632.46,172.37 L638.26,174.31 L637.74,166.23 Z" fill="#2f7f8a"/>
<line x1="641.65" y1="158.85" x2="642.18" y2="179.04" stroke="#2f7f8a" stroke-width="1.4" />
<circle cx="642.24" cy="181.04" r="3.6" fill="#2f7f8a"/>
<path d="M639.18,181.12 L645.29,180.96 L642.04,173.54 Z" fill="#2f7f8a"/>
<line x1="643.02" y1="158.57" x2="647.96" y2="171.13" stroke="#2f7f8a" stroke-width="1.4" />
<circle cx="648.7" cy="172.99" r="3.6" fill="#2f7f8a"/>
<path d="M645.85,174.11 L651.54,171.87 L645.95,166.02 Z" fill="#2f7f8a"/>
<line x1="644.2" y1="157.85" x2="657.59" y2="172.97" stroke="#2f7f8a" stroke-width="1.4" />
<circle cx="658.91" cy="174.47" r="3.6" fill="#2f7f8a"/>
<path d="M656.62,176.5 L661.2,172.45 L653.94,168.86 Z" fill="#2f7f8a"/>
<line x1="645.07" y1="156.76" x2="656.93" y2="163.2" stroke="#2f7f8a" stroke-width="1.4" />
<circle cx="658.69" cy="164.15" r="3.6" fill="#2f7f8a"/>
<path d="M657.23,166.84 L660.15,161.47 L652.1,160.58 Z" fill="#2f7f8a"/>
<line x1="645.51" y1="155.44" x2="665.48" y2="158.43" stroke="#2f7f8a" stroke-width="1.4" />
<circle cx="667.46" cy="158.72" r="3.6" fill="#2f7f8a"/>
<path d="M667.01,161.75 L667.91,155.7 L660.04,157.61 Z" fill="#2f7f8a"/>
<circle cx="667.46" cy="158.72" r="4.8" fill="none" stroke="#e0303a" stroke-width="0.8"/>
<circle cx="641.55" cy="154.85" r="5" fill="#3a4aa8" opacity="0.8"/>
<circle cx="641.55" cy="154.85" r="2" fill="#0a1050"/>
<line x1="600.3" y1="152.35" x2="636.55" y2="152.35" stroke="#3c8fd8" stroke-width="1" />
<circle cx="613.55" cy="141.55" r="2.4" fill="#fff"/>
<circle cx="609.55" cy="158.85" r="1.2" fill="#2a3c9a"/>
<line x1="603.6" y1="191.6" x2="621.3" y2="191.6" stroke="#000" stroke-width="1.6" />
<text x="681.4" y="188.9" font-size="8.3" text-anchor="end" fill="#111" font-weight="bold">10 min</text>
<rect x="511.8" y="200.6" width="84.2" height="83.8" fill="#dcf1f9" stroke="#7d7dff" stroke-width="1.4" />
<circle cx="553.9" cy="243" r="36.6" fill="url(#gs)"/>
<circle cx="553.9" cy="243" r="29.5" fill="none" stroke="#d6a08a" stroke-width="0.8" opacity="0.75"/>
<path d="M534.9,225 l4,-3 l3,3 l-3,3 z M550.9,217 h7 v3 h-7 z M565.9,228 l3,2 l-2,3" fill="none" stroke="#d6a08a" stroke-width="1" opacity="0.8"/>
<path d="M535.16,224.26 A26.5,26.5 0 0 0 577.3,255.44" fill="none" stroke="#2f7f8a" stroke-width="1.7"/>
<circle cx="535.16" cy="224.26" r="1.6" fill="none" stroke="#2f7f8a" stroke-width="1.2"/>
<circle cx="529" cy="252.06" r="1.6" fill="none" stroke="#2f7f8a" stroke-width="1.2"/>
<circle cx="544.84" cy="267.9" r="1.6" fill="none" stroke="#2f7f8a" stroke-width="1.2"/>
<circle cx="562.96" cy="267.9" r="1.6" fill="none" stroke="#2f7f8a" stroke-width="1.2"/>
<circle cx="577.3" cy="255.44" r="1.6" fill="none" stroke="#2f7f8a" stroke-width="1.2"/>
<line x1="511.8" y1="242.7" x2="532.9" y2="242.7" stroke="#3c8fd8" stroke-width="1.1" />
<circle cx="531.4" cy="242.7" r="4.6" fill="#2a3c9a" opacity="0.85"/>
<circle cx="531.4" cy="242.7" r="2.2" fill="#0c1450"/>
<circle cx="543.9" cy="227.6" r="2.5" fill="#ffffff"/>
<circle cx="553.9" cy="243" r="6.8" fill="#c9a090" opacity="0.7"/>
<circle cx="553.9" cy="243" r="1.3" fill="#9a6a8a"/>
<line x1="542.97" y1="236.94" x2="531.16" y2="230.39" stroke="#2f7f8a" stroke-width="1.5" />
<circle cx="542.97" cy="236.94" r="5.5" fill="#2f7f8a"/>
<circle cx="541.37" cy="235.94" r="0.5" fill="#9fc6cc" opacity="0.6"/>
<circle cx="544.57" cy="235.94" r="0.5" fill="#9fc6cc" opacity="0.6"/>
<circle cx="542.97" cy="238.54" r="0.5" fill="#9fc6cc" opacity="0.6"/>
<line x1="543.42" y1="249.81" x2="532.09" y2="257.16" stroke="#2f7f8a" stroke-width="1.5" />
<circle cx="543.42" cy="249.81" r="5.5" fill="#2f7f8a"/>
<circle cx="541.82" cy="248.81" r="0.5" fill="#9fc6cc" opacity="0.6"/>
<circle cx="545.02" cy="248.81" r="0.5" fill="#9fc6cc" opacity="0.6"/>
<circle cx="543.42" cy="251.41" r="0.5" fill="#9fc6cc" opacity="0.6"/>
<line x1="553.9" y1="255.5" x2="553.9" y2="269" stroke="#2f7f8a" stroke-width="1.5" />
<circle cx="553.9" cy="255.5" r="5.5" fill="#2f7f8a"/>
<circle cx="552.3" cy="254.5" r="0.5" fill="#9fc6cc" opacity="0.6"/>
<circle cx="555.5" cy="254.5" r="0.5" fill="#9fc6cc" opacity="0.6"/>
<circle cx="553.9" cy="257.1" r="0.5" fill="#9fc6cc" opacity="0.6"/>
<line x1="553.9" y1="230.5" x2="553.9" y2="217" stroke="#d6a08a" stroke-width="1" />
<circle cx="553.9" cy="230.5" r="5.5" fill="#9a6290"/>
<circle cx="553.9" cy="230.5" r="5.5" fill="none" stroke="#d6a08a" stroke-width="0.6" opacity="0.7"/>
<circle cx="552.3" cy="229.5" r="0.5" fill="#9fc6cc" opacity="0.6"/>
<circle cx="555.5" cy="229.5" r="0.5" fill="#9fc6cc" opacity="0.6"/>
<circle cx="553.9" cy="232.1" r="0.5" fill="#9fc6cc" opacity="0.6"/>
<line x1="565.23" y1="237.72" x2="577.46" y2="232.01" stroke="#d6a08a" stroke-width="1" />
<circle cx="565.23" cy="237.72" r="5.5" fill="#9a6290"/>
<circle cx="565.23" cy="237.72" r="5.5" fill="none" stroke="#d6a08a" stroke-width="0.6" opacity="0.7"/>
<circle cx="563.63" cy="236.72" r="0.5" fill="#9fc6cc" opacity="0.6"/>
<circle cx="566.83" cy="236.72" r="0.5" fill="#9fc6cc" opacity="0.6"/>
<circle cx="565.23" cy="239.32" r="0.5" fill="#9fc6cc" opacity="0.6"/>
<line x1="564.5" y1="249.62" x2="575.95" y2="256.78" stroke="#2f7f8a" stroke-width="1.5" />
<circle cx="564.5" cy="249.62" r="5.5" fill="#2f7f8a"/>
<circle cx="562.9" cy="248.62" r="0.5" fill="#9fc6cc" opacity="0.6"/>
<circle cx="566.1" cy="248.62" r="0.5" fill="#9fc6cc" opacity="0.6"/>
<circle cx="564.5" cy="251.22" r="0.5" fill="#9fc6cc" opacity="0.6"/>
<circle cx="564.5" cy="249.62" r="7.6" fill="none" stroke="#3a3aff" stroke-width="0.8"/>
<line x1="515.1" y1="280.1" x2="532.8" y2="280.1" stroke="#000" stroke-width="1.6" />
<text x="593" y="277.4" font-size="8.3" text-anchor="end" fill="#111" font-weight="bold">11 min</text>
<rect x="600.3" y="200.6" width="84.1" height="83.8" fill="#dcf1f9" stroke="#ff8884" stroke-width="1.4" />
<circle cx="641.55" cy="243" r="36.3" fill="url(#gd)"/>
<circle cx="641.55" cy="243" r="31" fill="none" stroke="#d6a08a" stroke-width="0.9" opacity="0.9"/>
<line x1="670.39" y1="231.64" x2="661.55" y2="235.12" stroke="#d6a08a" stroke-width="0.8" opacity="0.9"/>
<line x1="664.77" y1="222.46" x2="657.65" y2="228.75" stroke="#d6a08a" stroke-width="0.8" opacity="0.9"/>
<line x1="656.34" y1="215.76" x2="651.81" y2="224.11" stroke="#d6a08a" stroke-width="0.8" opacity="0.9"/>
<line x1="646.13" y1="212.34" x2="644.73" y2="221.74" stroke="#d6a08a" stroke-width="0.8" opacity="0.9"/>
<line x1="635.37" y1="212.62" x2="637.26" y2="221.93" stroke="#d6a08a" stroke-width="0.8" opacity="0.9"/>
<line x1="625.35" y1="216.57" x2="630.32" y2="224.67" stroke="#d6a08a" stroke-width="0.8" opacity="0.9"/>
<line x1="617.29" y1="223.7" x2="624.72" y2="229.62" stroke="#d6a08a" stroke-width="0.8" opacity="0.9"/>
<line x1="612.15" y1="233.16" x2="621.16" y2="236.18" stroke="#d6a08a" stroke-width="0.8" opacity="0.9"/>
<line x1="610.56" y1="243.81" x2="620.06" y2="243.56" stroke="#d6a08a" stroke-width="0.8" opacity="0.9"/>
<line x1="612.71" y1="254.36" x2="621.55" y2="250.88" stroke="#d6a08a" stroke-width="0.8" opacity="0.9"/>
<line x1="618.33" y1="263.54" x2="625.45" y2="257.25" stroke="#d6a08a" stroke-width="0.8" opacity="0.9"/>
<line x1="626.76" y1="270.24" x2="631.29" y2="261.89" stroke="#d6a08a" stroke-width="0.8" opacity="0.9"/>
<line x1="636.97" y1="273.66" x2="638.37" y2="264.26" stroke="#d6a08a" stroke-width="0.8" opacity="0.9"/>
<line x1="647.73" y1="273.38" x2="645.84" y2="264.07" stroke="#d6a08a" stroke-width="0.8" opacity="0.9"/>
<line x1="657.75" y1="269.43" x2="652.78" y2="261.33" stroke="#d6a08a" stroke-width="0.8" opacity="0.9"/>
<line x1="665.81" y1="262.3" x2="658.38" y2="256.38" stroke="#d6a08a" stroke-width="0.8" opacity="0.9"/>
<line x1="670.95" y1="252.84" x2="661.94" y2="249.82" stroke="#d6a08a" stroke-width="0.8" opacity="0.9"/>
<line x1="672.54" y1="242.19" x2="663.04" y2="242.44" stroke="#d6a08a" stroke-width="0.8" opacity="0.9"/>
<line x1="645.47" y1="242.2" x2="658.7" y2="239.51" stroke="#2f7f8a" stroke-width="1.4" />
<circle cx="660.66" cy="239.11" r="3.6" fill="#2f7f8a"/>
<path d="M661.27,242.11 L660.05,236.11 L653.31,240.61 Z" fill="#2f7f8a"/>
<circle cx="660.66" cy="239.11" r="4.8" fill="none" stroke="#e0303a" stroke-width="0.8"/>
<line x1="644.96" y1="240.91" x2="662.18" y2="230.36" stroke="#2f7f8a" stroke-width="1.4" />
<circle cx="663.89" cy="229.31" r="3.6" fill="#2f7f8a"/>
<path d="M665.49,231.92 L662.29,226.7 L657.49,233.23 Z" fill="#2f7f8a"/>
<circle cx="663.89" cy="229.31" r="4.8" fill="none" stroke="#e0303a" stroke-width="0.8"/>
<line x1="645.29" y1="238.3" x2="652.44" y2="229.3" stroke="#d6a08a" stroke-width="0.7" />
<circle cx="653.69" cy="227.74" r="3.6" fill="#9a5696"/>
<path d="M656.08,229.64 L651.29,225.83 L649.02,233.61 Z" fill="#9a5696"/>
<circle cx="653.69" cy="227.74" r="3.9" fill="none" stroke="#e8c8c0" stroke-width="0.6" opacity="0.8"/>
<line x1="643.45" y1="237.31" x2="649.23" y2="220.05" stroke="#d6a08a" stroke-width="0.7" />
<circle cx="649.86" cy="218.15" r="3.6" fill="#9a5696"/>
<path d="M652.77,219.12 L646.96,217.18 L647.48,225.27 Z" fill="#9a5696"/>
<circle cx="649.86" cy="218.15" r="3.9" fill="none" stroke="#e8c8c0" stroke-width="0.6" opacity="0.8"/>
<line x1="641.39" y1="237" x2="641.09" y2="225.51" stroke="#d6a08a" stroke-width="0.7" />
<circle cx="641.04" cy="223.51" r="3.6" fill="#9a5696"/>
<path d="M644.1,223.43 L637.98,223.59 L641.24,231 Z" fill="#9a5696"/>
<circle cx="641.04" cy="223.51" r="3.9" fill="none" stroke="#e8c8c0" stroke-width="0.6" opacity="0.8"/>
<line x1="639.35" y1="237.42" x2="632.68" y2="220.48" stroke="#d6a08a" stroke-width="0.7" />
<circle cx="631.95" cy="218.62" r="3.6" fill="#9a5696"/>
<path d="M634.79,217.5 L629.1,219.74 L634.7,225.6 Z" fill="#9a5696"/>
<circle cx="631.95" cy="218.62" r="3.9" fill="none" stroke="#e8c8c0" stroke-width="0.6" opacity="0.8"/>
<line x1="637.57" y1="238.51" x2="629.95" y2="229.89" stroke="#d6a08a" stroke-width="0.7" />
<circle cx="628.63" cy="228.4" r="3.6" fill="#9a5696"/>
<path d="M630.92,226.37 L626.34,230.42 L633.6,234.01 Z" fill="#9a5696"/>
<circle cx="628.63" cy="228.4" r="3.9" fill="none" stroke="#e8c8c0" stroke-width="0.6" opacity="0.8"/>
<line x1="637.59" y1="242.41" x2="624.24" y2="240.41" stroke="#2f7f8a" stroke-width="1.4" />
<circle cx="622.26" cy="240.12" r="3.6" fill="#2f7f8a"/>
<path d="M622.72,237.09 L621.81,243.14 L629.68,241.23 Z" fill="#2f7f8a"/>
<line x1="637.63" y1="243.8" x2="617.84" y2="247.82" stroke="#2f7f8a" stroke-width="1.4" />
<circle cx="615.88" cy="248.22" r="3.6" fill="#2f7f8a"/>
<path d="M615.27,245.22 L616.49,251.22 L623.23,246.73 Z" fill="#2f7f8a"/>
<line x1="638.14" y1="245.09" x2="626.63" y2="252.14" stroke="#2f7f8a" stroke-width="1.4" />
<circle cx="624.92" cy="253.19" r="3.6" fill="#2f7f8a"/>
<path d="M623.32,250.58 L626.52,255.8 L631.32,249.27 Z" fill="#2f7f8a"/>
<line x1="639.06" y1="246.13" x2="626.49" y2="261.94" stroke="#2f7f8a" stroke-width="1.4" />
<circle cx="625.24" cy="263.5" r="3.6" fill="#2f7f8a"/>
<path d="M622.85,261.6 L627.63,265.41 L629.91,257.63 Z" fill="#2f7f8a"/>
<line x1="640.28" y1="246.79" x2="636" y2="259.6" stroke="#2f7f8a" stroke-width="1.4" />
<circle cx="635.36" cy="261.49" r="3.6" fill="#2f7f8a"/>
<path d="M632.46,260.52 L638.26,262.46 L637.74,254.38 Z" fill="#2f7f8a"/>
<line x1="641.65" y1="247" x2="642.18" y2="267.19" stroke="#2f7f8a" stroke-width="1.4" />
<circle cx="642.24" cy="269.19" r="3.6" fill="#2f7f8a"/>
<path d="M639.18,269.27 L645.29,269.11 L642.04,261.69 Z" fill="#2f7f8a"/>
<line x1="643.02" y1="246.72" x2="647.96" y2="259.28" stroke="#2f7f8a" stroke-width="1.4" />
<circle cx="648.7" cy="261.14" r="3.6" fill="#2f7f8a"/>
<path d="M645.85,262.26 L651.54,260.02 L645.95,254.17 Z" fill="#2f7f8a"/>
<line x1="644.2" y1="246" x2="657.59" y2="261.12" stroke="#2f7f8a" stroke-width="1.4" />
<circle cx="658.91" cy="262.62" r="3.6" fill="#2f7f8a"/>
<path d="M656.62,264.65 L661.2,260.6 L653.94,257.01 Z" fill="#2f7f8a"/>
<line x1="645.07" y1="244.91" x2="656.93" y2="251.35" stroke="#2f7f8a" stroke-width="1.4" />
<circle cx="658.69" cy="252.3" r="3.6" fill="#2f7f8a"/>
<path d="M657.23,254.99 L660.15,249.62 L652.1,248.73 Z" fill="#2f7f8a"/>
<line x1="645.51" y1="243.59" x2="665.48" y2="246.58" stroke="#2f7f8a" stroke-width="1.4" />
<circle cx="667.46" cy="246.87" r="3.6" fill="#2f7f8a"/>
<path d="M667.01,249.9 L667.91,243.85 L660.04,245.76 Z" fill="#2f7f8a"/>
<circle cx="667.46" cy="246.87" r="4.8" fill="none" stroke="#e0303a" stroke-width="0.8"/>
<circle cx="641.55" cy="243" r="5" fill="#3a4aa8" opacity="0.8"/>
<circle cx="641.55" cy="243" r="2" fill="#0a1050"/>
<line x1="600.3" y1="240.5" x2="636.55" y2="240.5" stroke="#3c8fd8" stroke-width="1" />
<circle cx="613.55" cy="229.7" r="2.4" fill="#fff"/>
<circle cx="609.55" cy="247" r="1.2" fill="#2a3c9a"/>
<line x1="603.6" y1="280.1" x2="621.3" y2="280.1" stroke="#000" stroke-width="1.6" />
<text x="681.4" y="277.4" font-size="8.3" text-anchor="end" fill="#111" font-weight="bold">11 min</text>
<line x1="553.8" y1="107.2" x2="553.8" y2="114.3" stroke="#000" stroke-width="1.3" stroke-dasharray="2 1.2"/>
<polygon points="551.9,114 555.7,114 553.8,118.4" fill="#000"/>
<line x1="553.8" y1="195.1" x2="553.8" y2="202.1" stroke="#000" stroke-width="1.3" stroke-dasharray="2 1.2"/>
<polygon points="551.9,201.8 555.7,201.8 553.8,206.2" fill="#000"/>
<line x1="641.3" y1="107.2" x2="641.3" y2="114.3" stroke="#000" stroke-width="1.3" stroke-dasharray="2 1.2"/>
<polygon points="639.4,114 643.2,114 641.3,118.4" fill="#000"/>
<line x1="641.3" y1="195.1" x2="641.3" y2="202.1" stroke="#000" stroke-width="1.3" stroke-dasharray="2 1.2"/>
<polygon points="639.4,201.8 643.2,201.8 641.3,206.2" fill="#000"/>
<text x="0" y="314.4" font-size="17" text-anchor="start" fill="#000" >c</text>
<text x="15" y="312.7" font-size="13.3" text-anchor="start" fill="#111" >(i)</text>
<path d="M32.2,297.9 H447.7 V364.9 H172.3 V417.3 H32.2 Z" fill="#e9f5e1"/>
<rect x="37.8" y="303.8" width="402.1" height="55.1" fill="#ede5d6" />
<g transform="translate(50,328.1) scale(1)">
<path d="M-9.5,-3.8 L-1.3,0.3 L6.9,-3.8 L11.8,-1.2 M-1.3,0.3 L-1.3,6.8 M6.3,-3.8 L6.3,-11 M7.5,-3.8 L7.5,-11" fill="none" stroke="#555" stroke-width="0.8" stroke-linecap="round" stroke-linejoin="round"/>
<text x="6.9" y="-11.6" font-size="4.8" text-anchor="middle" fill="#444">O</text>
<text x="16.5" y="2" font-size="4.8" text-anchor="middle" fill="#444">OH</text>
<text x="-1.3" y="12.2" font-size="4.8" text-anchor="middle" fill="#444">OH</text>
</g>
<text x="40.7" y="354.6" font-size="11.3" text-anchor="start" fill="#111" >lactate</text>
<rect x="85.6" y="323.9" width="66.8" height="6.1" fill="url(#cb1)" />
<line x1="85.8" y1="323.9" x2="85.8" y2="330" stroke="#3a3a5a" stroke-width="0.9" />
<line x1="90.7" y1="323.9" x2="90.7" y2="330" stroke="#3a3a5a" stroke-width="0.9" />
<line x1="96.3" y1="323.9" x2="96.3" y2="330" stroke="#3a3a5a" stroke-width="0.9" />
<line x1="103.6" y1="323.9" x2="103.6" y2="330" stroke="#3a3a5a" stroke-width="0.9" />
<line x1="119.3" y1="323.9" x2="119.3" y2="330" stroke="#3a3a5a" stroke-width="0.9" />
<line x1="152" y1="323.9" x2="152" y2="330" stroke="#3a3a5a" stroke-width="0.9" />
<text x="85.3" y="322" font-size="9.7" text-anchor="middle" fill="#111" >0</text>
<text x="95.8" y="322" font-size="9.7" text-anchor="middle" fill="#111" >2</text>
<text x="90.6" y="340" font-size="9.7" text-anchor="middle" fill="#111" >1</text>
<text x="103.2" y="340" font-size="9.7" text-anchor="middle" fill="#111" >5</text>
<text x="119.2" y="340" font-size="9.7" text-anchor="middle" fill="#111" >10</text>
<text x="152.3" y="340" font-size="9.7" text-anchor="middle" fill="#111" >20</text>
<text x="168.2" y="317.7" font-size="9.8" text-anchor="end" fill="#111" >[C] (mM)</text>
<g transform="translate(202.4,328.9) scale(1.34)">
<path d="M-4.85,-2.8 L0,-5.6 L4.85,-2.8 L4.85,2.8 L0,5.6 L-4.85,2.8 Z M-4.85,-2.8 L-8.25,-4.2 L-10.45,0 L-8.25,4.2 L-4.85,2.8 M-10.45,0 L-14.45,0 M-10.45,-0.9 L-14.45,-0.9 M0,-5.6 L0,-8.8 M0.9,-5.6 L0.9,-8.8 M4.85,2.8 L8.25,4.8 M-3.85,-1.6 L-3.85,1.6" fill="none" stroke="#555" stroke-width="0.75" stroke-linecap="round" stroke-linejoin="round"/>
<text x="0.4" y="-9.3" font-size="4.3" text-anchor="middle" fill="#444">O</text>
<text x="-16.05" y="1.6" font-size="4.3" text-anchor="middle" fill="#444">O</text>
<text x="10.25" y="7.2" font-size="4.3" text-anchor="middle" fill="#444">O</text>
<text x="7.45" y="-1.2" font-size="3.8" text-anchor="middle" fill="#444">NH</text>
<text x="0" y="10.4" font-size="3.8" text-anchor="middle" fill="#444">H</text>
<text x="-1" y="8.2" font-size="3.4" text-anchor="middle" fill="#444">N</text>
<text x="-8.45" y="-5.4" font-size="3.8" text-anchor="middle" fill="#444">H</text>
<text x="-8.45" y="8.4" font-size="3.8" text-anchor="middle" fill="#444">H</text>
</g>
<text x="180.5" y="354.6" font-size="11.3" text-anchor="start" fill="#111" >uric acid</text>
<rect x="230.2" y="325" width="67" height="6.1" fill="url(#cb2)" />
<line x1="230.6" y1="325" x2="230.6" y2="331.1" stroke="#3a3a5a" stroke-width="0.9" />
<line x1="235.1" y1="325" x2="235.1" y2="331.1" stroke="#3a3a5a" stroke-width="0.9" />
<line x1="240.4" y1="325" x2="240.4" y2="331.1" stroke="#3a3a5a" stroke-width="0.9" />
<line x1="247.9" y1="325" x2="247.9" y2="331.1" stroke="#3a3a5a" stroke-width="0.9" />
<line x1="264.1" y1="325" x2="264.1" y2="331.1" stroke="#3a3a5a" stroke-width="0.9" />
<line x1="296.6" y1="325" x2="296.6" y2="331.1" stroke="#3a3a5a" stroke-width="0.9" />
<text x="230.2" y="321.9" font-size="9.7" text-anchor="middle" fill="#111" >0</text>
<text x="240.6" y="321.9" font-size="9.7" text-anchor="middle" fill="#111" >5</text>
<text x="238.8" y="341" font-size="9.7" text-anchor="middle" fill="#111" >2.510</text>
<text x="264.2" y="341" font-size="9.7" text-anchor="middle" fill="#111" >20</text>
<text x="296.7" y="341" font-size="9.7" text-anchor="middle" fill="#111" >40</text>
<text x="305.8" y="317.7" font-size="9.8" text-anchor="end" fill="#111" >[C] (μM)</text>
<g transform="translate(332.5,327) scale(0.95)">
<path d="M-3.75,1.9 L-8.6,-0.9 L-13.45,1.9 L-13.45,7.5 L-8.6,10.3 L-3.75,7.5 Z M-3.75,1.9 L-0.4,-3.5 L5.7,-0.4 L10.8,-7.6 L16,-7 M10.8,-7.6 L9.8,-12.5 M5.7,-0.4 L7.5,3 M-13.45,7.5 L-17.5,13 M-11.8,2.1 L-8,0.2 M-12.2,6.5 L-8,8.9" fill="none" stroke="#555" stroke-width="0.7" stroke-linecap="round" stroke-linejoin="round"/>
<text x="9.6" y="-13.4" font-size="4" text-anchor="middle" fill="#444">O</text>
<text x="19" y="-5.8" font-size="4" text-anchor="middle" fill="#444">OH</text>
<text x="9.5" y="6" font-size="4" text-anchor="middle" fill="#444">NH₂</text>
<text x="-19.5" y="15" font-size="4" text-anchor="middle" fill="#444">HO</text>
</g>
<text x="313.7" y="354.6" font-size="11.3" text-anchor="start" fill="#111" >tyrosine</text>
<rect x="362.2" y="324.9" width="66.4" height="6.2" fill="url(#cb3)" />
<line x1="362.5" y1="324.9" x2="362.5" y2="331.1" stroke="#3a3a5a" stroke-width="0.9" />
<line x1="378.2" y1="324.9" x2="378.2" y2="331.1" stroke="#3a3a5a" stroke-width="0.9" />
<line x1="384.3" y1="324.9" x2="384.3" y2="331.1" stroke="#3a3a5a" stroke-width="0.9" />
<line x1="395.3" y1="324.9" x2="395.3" y2="331.1" stroke="#3a3a5a" stroke-width="0.9" />
<line x1="411.9" y1="324.9" x2="411.9" y2="331.1" stroke="#3a3a5a" stroke-width="0.9" />
<line x1="428.3" y1="324.9" x2="428.3" y2="331.1" stroke="#3a3a5a" stroke-width="0.9" />
<text x="362.2" y="323.1" font-size="9.4" text-anchor="middle" fill="#111" >0</text>
<text x="384.1" y="323.1" font-size="9.4" text-anchor="middle" fill="#111" >67</text>
<text x="412.3" y="323.1" font-size="9.4" text-anchor="middle" fill="#111" >150</text>
<text x="378" y="341" font-size="9.4" text-anchor="middle" fill="#111" >50</text>
<text x="395.5" y="341" font-size="9.4" text-anchor="middle" fill="#111" >100</text>
<text x="428.6" y="341" font-size="9.4" text-anchor="middle" fill="#111" >200</text>
<text x="435.2" y="353.8" font-size="9.8" text-anchor="end" fill="#111" >[C] (μM)</text>
<g transform="translate(54.6,382.6) scale(1.1)">
<path d="M-10,0 L-5,-6 L5,-6 L10,0 M-5,-6 L-5,-11 M-10,0 L-12.5,3 M10,0 L12.5,3 M-5,5 L-5,9 M5,5 L5,9 M-5,-6 L-5,-2.5 M5,-6 L3,-4.5" fill="none" stroke="#555" stroke-width="0.75" stroke-linecap="round" stroke-linejoin="round"/>
<path d="M-10,0 L-5,5 L5,5 L10,0" fill="none" stroke="#333" stroke-width="1.1" stroke-linecap="round" stroke-linejoin="round"/>
<text x="0" y="-12.2" font-size="4.2" text-anchor="middle" fill="#444">CH₂OH</text>
<text x="3.5" y="-4.4" font-size="4.2" text-anchor="middle" fill="#444">O</text>
<text x="-2.5" y="-1.2" font-size="3.8" text-anchor="middle" fill="#444">OH</text>
<text x="-13" y="6.2" font-size="3.8" text-anchor="middle" fill="#444">OH</text>
<text x="13.5" y="5.8" font-size="3.8" text-anchor="middle" fill="#444">OH</text>
<text x="0" y="12.6" font-size="3.8" text-anchor="middle" fill="#444">OH</text>
</g>
<text x="35.3" y="410.8" font-size="11.5" text-anchor="start" fill="#111" >glucose</text>
<rect x="83.3" y="380.1" width="67.4" height="6.1" fill="url(#cb4)" />
<line x1="83.6" y1="380.1" x2="83.6" y2="386.2" stroke="#3a3a5a" stroke-width="0.9" />
<line x1="100.5" y1="380.1" x2="100.5" y2="386.2" stroke="#3a3a5a" stroke-width="0.9" />
<line x1="117.2" y1="380.1" x2="117.2" y2="386.2" stroke="#3a3a5a" stroke-width="0.9" />
<line x1="133.7" y1="380.1" x2="133.7" y2="386.2" stroke="#3a3a5a" stroke-width="0.9" />
<line x1="150.4" y1="380.1" x2="150.4" y2="386.2" stroke="#3a3a5a" stroke-width="0.9" />
<text x="99.9" y="378" font-size="9.4" text-anchor="middle" fill="#111" >125</text>
<text x="132.7" y="378" font-size="9.4" text-anchor="middle" fill="#111" >375</text>
<text x="84.6" y="396" font-size="9.4" text-anchor="middle" fill="#111" >0</text>
<text x="116.4" y="396" font-size="9.4" text-anchor="middle" fill="#111" >250</text>
<text x="148.5" y="396" font-size="9.4" text-anchor="middle" fill="#111" >500</text>
<text x="162.5" y="407.2" font-size="9.8" text-anchor="end" fill="#111" >[C] (μM)</text>
<text x="434" y="377.5" font-size="13" text-anchor="end" fill="#eab08c" >target</text>
<text x="176.1" y="408.9" font-size="13.3" text-anchor="start" fill="#8cc063" >variable</text>
<text x="444" y="415.1" font-size="13.25" text-anchor="end" fill="#8cc063" >variable background molecules</text>
<text x="28.1" y="464.7" font-size="13" text-anchor="start" fill="#111" >base solution</text>
<text x="46" y="484.9" font-size="11.5" text-anchor="start" fill="#111" >-</text>
<text x="62.3" y="484.9" font-size="11.5" text-anchor="start" fill="#111" >NaCl</text>
<text x="46" y="498.95" font-size="11.5" text-anchor="start" fill="#111" >-</text>
<text x="62.3" y="498.95" font-size="11.5" text-anchor="start" fill="#111" >KCl</text>
<text x="46" y="513" font-size="11.5" text-anchor="start" fill="#111" >-</text>
<text x="62.3" y="513" font-size="11.5" text-anchor="start" fill="#111" >Urea</text>
<text x="122.2" y="496.2" font-size="12.5" text-anchor="middle" fill="#111" >+</text>
<text x="244.9" y="496.2" font-size="12.5" text-anchor="middle" fill="#111" >+</text>
<text x="144.5" y="435" font-size="13.1" text-anchor="start" fill="#eab08c" >target molecule</text>
<rect x="141.3" y="440.2" width="88.9" height="93.3" fill="#f5ece3" />
<g transform="translate(180,460.8) scale(1)">
<path d="M-9.5,-3.8 L-1.3,0.3 L6.9,-3.8 L11.8,-1.2 M-1.3,0.3 L-1.3,6.8 M6.3,-3.8 L6.3,-11 M7.5,-3.8 L7.5,-11" fill="none" stroke="#555" stroke-width="0.8" stroke-linecap="round" stroke-linejoin="round"/>
<text x="6.9" y="-11.6" font-size="4.8" text-anchor="middle" fill="#444">O</text>
<text x="16.5" y="2" font-size="4.8" text-anchor="middle" fill="#444">OH</text>
<text x="-1.3" y="12.2" font-size="4.8" text-anchor="middle" fill="#444">OH</text>
</g>
<text x="145.3" y="486.2" font-size="12.2" text-anchor="start" fill="#111" >C<tspan font-size="7.3" dy="1.8">1, Target</tspan></text>
<text x="189.1" y="486.2" font-size="12.2" text-anchor="start" fill="#111" >C<tspan font-size="7.3" dy="1.8">4, Target</tspan></text>
<text x="145.3" y="504" font-size="12.2" text-anchor="start" fill="#111" >C<tspan font-size="7.3" dy="1.8">2, Target</tspan></text>
<text x="189.1" y="504" font-size="12.2" text-anchor="start" fill="#111" >C<tspan font-size="7.3" dy="1.8">5, Target</tspan></text>
<text x="145.3" y="521.8" font-size="12.2" text-anchor="start" fill="#111" >C<tspan font-size="7.3" dy="1.8">3, Target</tspan></text>
<text x="189.1" y="521.8" font-size="12.2" text-anchor="start" fill="#111" >C<tspan font-size="7.3" dy="1.8">6, Target</tspan></text>
<rect x="266.1" y="423.1" width="170.6" height="55.5" fill="#dff2d6" />
<rect x="266.1" y="485.4" width="170.6" height="55.5" fill="#edf7e8" />
<text x="271.7" y="435" font-size="11.5" text-anchor="start" fill="#111" >background1</text>
<text x="271.7" y="496.6" font-size="11.5" text-anchor="start" fill="#111" >background2</text>
<g transform="translate(297.4,458.5) scale(0.73)">
<path d="M-3.75,1.9 L-8.6,-0.9 L-13.45,1.9 L-13.45,7.5 L-8.6,10.3 L-3.75,7.5 Z M-3.75,1.9 L-0.4,-3.5 L5.7,-0.4 L10.8,-7.6 L16,-7 M10.8,-7.6 L9.8,-12.5 M5.7,-0.4 L7.5,3 M-13.45,7.5 L-17.5,13 M-11.8,2.1 L-8,0.2 M-12.2,6.5 L-8,8.9" fill="none" stroke="#555" stroke-width="0.7" stroke-linecap="round" stroke-linejoin="round"/>
<text x="9.6" y="-13.4" font-size="4" text-anchor="middle" fill="#444">O</text>
<text x="19" y="-5.8" font-size="4" text-anchor="middle" fill="#444">OH</text>
<text x="9.5" y="6" font-size="4" text-anchor="middle" fill="#444">NH₂</text>
<text x="-19.5" y="15" font-size="4" text-anchor="middle" fill="#444">HO</text>
</g>
<g transform="translate(352.9,456.8) scale(1.6)">
<path d="M-4.85,-2.8 L0,-5.6 L4.85,-2.8 L4.85,2.8 L0,5.6 L-4.85,2.8 Z M-4.85,-2.8 L-8.25,-4.2 L-10.45,0 L-8.25,4.2 L-4.85,2.8 M-10.45,0 L-14.45,0 M-10.45,-0.9 L-14.45,-0.9 M0,-5.6 L0,-8.8 M0.9,-5.6 L0.9,-8.8 M4.85,2.8 L8.25,4.8 M-3.85,-1.6 L-3.85,1.6" fill="none" stroke="#555" stroke-width="0.75" stroke-linecap="round" stroke-linejoin="round"/>
<text x="0.4" y="-9.3" font-size="4.3" text-anchor="middle" fill="#444">O</text>
<text x="-16.05" y="1.6" font-size="4.3" text-anchor="middle" fill="#444">O</text>
<text x="10.25" y="7.2" font-size="4.3" text-anchor="middle" fill="#444">O</text>
<text x="7.45" y="-1.2" font-size="3.8" text-anchor="middle" fill="#444">NH</text>
<text x="0" y="10.4" font-size="3.8" text-anchor="middle" fill="#444">H</text>
<text x="-1" y="8.2" font-size="3.4" text-anchor="middle" fill="#444">N</text>
<text x="-8.45" y="-5.4" font-size="3.8" text-anchor="middle" fill="#444">H</text>
<text x="-8.45" y="8.4" font-size="3.8" text-anchor="middle" fill="#444">H</text>
</g>
<g transform="translate(411.2,454.4) scale(1.5)">
<path d="M-10,0 L-5,-6 L5,-6 L10,0 M-5,-6 L-5,-11 M-10,0 L-12.5,3 M10,0 L12.5,3 M-5,5 L-5,9 M5,5 L5,9 M-5,-6 L-5,-2.5 M5,-6 L3,-4.5" fill="none" stroke="#555" stroke-width="0.75" stroke-linecap="round" stroke-linejoin="round"/>
<path d="M-10,0 L-5,5 L5,5 L10,0" fill="none" stroke="#333" stroke-width="1.1" stroke-linecap="round" stroke-linejoin="round"/>
<text x="0" y="-12.2" font-size="4.2" text-anchor="middle" fill="#444">CH₂OH</text>
<text x="3.5" y="-4.4" font-size="4.2" text-anchor="middle" fill="#444">O</text>
<text x="-2.5" y="-1.2" font-size="3.8" text-anchor="middle" fill="#444">OH</text>
<text x="-13" y="6.2" font-size="3.8" text-anchor="middle" fill="#444">OH</text>
<text x="13.5" y="5.8" font-size="3.8" text-anchor="middle" fill="#444">OH</text>
<text x="0" y="12.6" font-size="3.8" text-anchor="middle" fill="#444">OH</text>
</g>
<g transform="translate(297,521) scale(1.09)">
<path d="M-3.75,1.9 L-8.6,-0.9 L-13.45,1.9 L-13.45,7.5 L-8.6,10.3 L-3.75,7.5 Z M-3.75,1.9 L-0.4,-3.5 L5.7,-0.4 L10.8,-7.6 L16,-7 M10.8,-7.6 L9.8,-12.5 M5.7,-0.4 L7.5,3 M-13.45,7.5 L-17.5,13 M-11.8,2.1 L-8,0.2 M-12.2,6.5 L-8,8.9" fill="none" stroke="#555" stroke-width="0.7" stroke-linecap="round" stroke-linejoin="round"/>
<text x="9.6" y="-13.4" font-size="4" text-anchor="middle" fill="#444">O</text>
<text x="19" y="-5.8" font-size="4" text-anchor="middle" fill="#444">OH</text>
<text x="9.5" y="6" font-size="4" text-anchor="middle" fill="#444">NH₂</text>
<text x="-19.5" y="15" font-size="4" text-anchor="middle" fill="#444">HO</text>
</g>
<g transform="translate(358.5,519.5) scale(1.9)">
<path d="M-4.85,-2.8 L0,-5.6 L4.85,-2.8 L4.85,2.8 L0,5.6 L-4.85,2.8 Z M-4.85,-2.8 L-8.25,-4.2 L-10.45,0 L-8.25,4.2 L-4.85,2.8 M-10.45,0 L-14.45,0 M-10.45,-0.9 L-14.45,-0.9 M0,-5.6 L0,-8.8 M0.9,-5.6 L0.9,-8.8 M4.85,2.8 L8.25,4.8 M-3.85,-1.6 L-3.85,1.6" fill="none" stroke="#555" stroke-width="0.75" stroke-linecap="round" stroke-linejoin="round"/>
<text x="0.4" y="-9.3" font-size="4.3" text-anchor="middle" fill="#444">O</text>
<text x="-16.05" y="1.6" font-size="4.3" text-anchor="middle" fill="#444">O</text>
<text x="10.25" y="7.2" font-size="4.3" text-anchor="middle" fill="#444">O</text>
<text x="7.45" y="-1.2" font-size="3.8" text-anchor="middle" fill="#444">NH</text>
<text x="0" y="10.4" font-size="3.8" text-anchor="middle" fill="#444">H</text>
<text x="-1" y="8.2" font-size="3.4" text-anchor="middle" fill="#444">N</text>
<text x="-8.45" y="-5.4" font-size="3.8" text-anchor="middle" fill="#444">H</text>
<text x="-8.45" y="8.4" font-size="3.8" text-anchor="middle" fill="#444">H</text>
</g>
<g transform="translate(409.8,518.2) scale(1)">
<path d="M-10,0 L-5,-6 L5,-6 L10,0 M-5,-6 L-5,-11 M-10,0 L-12.5,3 M10,0 L12.5,3 M-5,5 L-5,9 M5,5 L5,9 M-5,-6 L-5,-2.5 M5,-6 L3,-4.5" fill="none" stroke="#555" stroke-width="0.75" stroke-linecap="round" stroke-linejoin="round"/>
<path d="M-10,0 L-5,5 L5,5 L10,0" fill="none" stroke="#333" stroke-width="1.1" stroke-linecap="round" stroke-linejoin="round"/>
<text x="0" y="-12.2" font-size="4.2" text-anchor="middle" fill="#444">CH₂OH</text>
<text x="3.5" y="-4.4" font-size="4.2" text-anchor="middle" fill="#444">O</text>
<text x="-2.5" y="-1.2" font-size="3.8" text-anchor="middle" fill="#444">OH</text>
<text x="-13" y="6.2" font-size="3.8" text-anchor="middle" fill="#444">OH</text>
<text x="13.5" y="5.8" font-size="3.8" text-anchor="middle" fill="#444">OH</text>
<text x="0" y="12.6" font-size="3.8" text-anchor="middle" fill="#444">OH</text>
</g>
<text x="364" y="559.2" font-size="12.2" text-anchor="start" fill="#111" >N<tspan font-size="8" dy="2.2">Combination</tspan><tspan dy="-2.2"> = 41</tspan></text>
<circle cx="351.5" cy="547.3" r="1" fill="#111"/>
<circle cx="351.5" cy="555.6" r="1" fill="#111"/>
<circle cx="351.5" cy="564.8" r="1" fill="#111"/>
<text x="15" y="577.6" font-size="12.8" text-anchor="start" fill="#111" >(ii)</text>
<text x="54.7" y="579.2" font-size="12" text-anchor="start" fill="#111" >N<tspan font-size="7.8" dy="2.6">measurement</tspan><tspan dy="-2.6"> = 36</tspan></text>
<g filter="url(#hblur)" shape-rendering="crispEdges">
<path fill="#ffbb00" d="M49.3 588.8h2.55v2.02h-2.55zM94.29 588.8h7.55v2.02h-7.55zM104.29 588.8h5.05v2.02h-5.05zM174.27 588.8h5.05v2.02h-5.05zM191.76 588.8h5.05v2.02h-5.05zM201.76 588.8h2.55v2.02h-2.55zM211.76 588.8h2.55v2.02h-2.55zM216.76 588.8h2.55v2.02h-2.55zM256.75 588.8h5.05v2.02h-5.05zM266.74 588.8h2.55v2.02h-2.55zM279.24 588.8h5.05v2.02h-5.05zM306.73 588.8h2.55v2.02h-2.55zM334.22 588.8h2.55v2.02h-2.55zM361.72 588.8h7.55v2.02h-7.55zM371.72 588.8h2.55v2.02h-2.55zM376.71 588.8h2.55v2.02h-2.55zM396.71 588.8h2.55v2.02h-2.55zM404.21 588.8h2.55v2.02h-2.55zM411.7 588.8h7.55v2.02h-7.55zM119.28 590.77h2.55v2.02h-2.55zM139.28 590.77h7.55v2.02h-7.55zM164.27 590.77h2.55v2.02h-2.55zM179.27 590.77h2.55v2.02h-2.55zM184.26 590.77h2.55v2.02h-2.55zM204.26 590.77h2.55v2.02h-2.55zM256.75 590.77h2.55v2.02h-2.55zM266.74 590.77h2.55v2.02h-2.55zM279.24 590.77h2.55v2.02h-2.55zM339.22 590.77h2.55v2.02h-2.55zM376.71 590.77h2.55v2.02h-2.55zM386.71 590.77h2.55v2.02h-2.55zM394.21 590.77h5.05v2.02h-5.05zM406.71 590.77h2.55v2.02h-2.55zM421.7 590.77h2.55v2.02h-2.55zM91.79 592.74h5.05v2.02h-5.05zM166.77 592.74h2.55v2.02h-2.55zM224.25 592.74h5.05v2.02h-5.05zM236.75 592.74h2.55v2.02h-2.55zM246.75 592.74h2.55v2.02h-2.55zM254.25 592.74h2.55v2.02h-2.55zM279.24 592.74h2.55v2.02h-2.55zM309.23 592.74h2.55v2.02h-2.55zM356.72 592.74h2.55v2.02h-2.55zM379.21 592.74h2.55v2.02h-2.55zM421.7 592.74h2.55v2.02h-2.55zM99.29 594.72h2.55v2.02h-2.55zM104.29 594.72h2.55v2.02h-2.55zM171.77 594.72h2.55v2.02h-2.55zM264.24 594.72h2.55v2.02h-2.55zM324.23 596.69h2.55v2.02h-2.55zM321.73 598.66h2.55v2.02h-2.55zM324.23 600.63h2.55v2.02h-2.55zM319.23 610.49h2.55v2.02h-2.55zM186.76 614.44h2.55v2.02h-2.55zM246.75 614.44h2.55v2.02h-2.55zM321.73 614.44h2.55v2.02h-2.55zM396.71 614.44h2.55v2.02h-2.55zM401.71 614.44h2.55v2.02h-2.55zM406.71 614.44h2.55v2.02h-2.55zM61.8 616.41h2.55v2.02h-2.55zM66.8 616.41h2.55v2.02h-2.55zM159.27 616.41h2.55v2.02h-2.55zM166.77 616.41h5.05v2.02h-5.05zM176.77 616.41h2.55v2.02h-2.55zM206.76 616.41h2.55v2.02h-2.55zM246.75 616.41h2.55v2.02h-2.55zM254.25 616.41h2.55v2.02h-2.55zM271.74 616.41h2.55v2.02h-2.55zM411.7 616.41h2.55v2.02h-2.55zM64.3 618.38h7.55v2.02h-7.55zM151.77 618.38h2.55v2.02h-2.55zM181.77 618.38h2.55v2.02h-2.55zM206.76 618.38h2.55v2.02h-2.55zM279.24 618.38h2.55v2.02h-2.55zM284.24 618.38h2.55v2.02h-2.55zM324.23 618.38h2.55v2.02h-2.55zM384.21 618.38h2.55v2.02h-2.55zM409.21 618.38h2.55v2.02h-2.55zM414.2 618.38h2.55v2.02h-2.55zM61.8 620.36h2.55v2.02h-2.55zM171.77 620.36h2.55v2.02h-2.55zM104.29 622.33h2.55v2.02h-2.55zM151.77 622.33h2.55v2.02h-2.55zM169.27 622.33h2.55v2.02h-2.55zM179.27 622.33h2.55v2.02h-2.55zM236.75 622.33h2.55v2.02h-2.55zM246.75 622.33h2.55v2.02h-2.55zM356.72 622.33h2.55v2.02h-2.55zM389.21 622.33h2.55v2.02h-2.55zM324.23 624.3h2.55v2.02h-2.55zM394.21 624.3h5.05v2.02h-5.05zM424.2 624.3h2.55v2.02h-2.55zM201.76 626.27h2.55v2.02h-2.55zM249.25 626.27h2.55v2.02h-2.55zM319.23 628.24h2.55v2.02h-2.55zM229.25 634.16h2.55v2.02h-2.55zM264.24 634.16h2.55v2.02h-2.55zM296.73 634.16h2.55v2.02h-2.55zM316.73 634.16h2.55v2.02h-2.55zM326.73 634.16h2.55v2.02h-2.55zM266.74 636.13h2.55v2.02h-2.55zM296.73 636.13h2.55v2.02h-2.55zM121.78 638.11h2.55v2.02h-2.55zM181.77 638.11h2.55v2.02h-2.55zM234.25 638.11h2.55v2.02h-2.55zM364.22 638.11h2.55v2.02h-2.55zM389.21 638.11h2.55v2.02h-2.55zM406.71 638.11h2.55v2.02h-2.55zM76.79 640.08h2.55v2.02h-2.55zM134.28 640.08h2.55v2.02h-2.55zM149.27 640.08h2.55v2.02h-2.55zM159.27 640.08h2.55v2.02h-2.55zM171.77 640.08h2.55v2.02h-2.55zM211.76 640.08h2.55v2.02h-2.55zM269.24 640.08h2.55v2.02h-2.55zM326.73 640.08h2.55v2.02h-2.55zM389.21 640.08h7.55v2.02h-7.55zM411.7 640.08h2.55v2.02h-2.55zM339.22 647.97h2.55v2.02h-2.55zM194.26 649.94h2.55v2.02h-2.55zM251.75 649.94h2.55v2.02h-2.55zM321.73 653.88h2.55v2.02h-2.55zM309.23 657.83h2.55v2.02h-2.55z"/>
<path fill="#ffaa00" d="M51.8 588.8h2.55v2.02h-2.55zM109.28 588.8h2.55v2.02h-2.55zM144.27 588.8h5.05v2.02h-5.05zM156.77 588.8h2.55v2.02h-2.55zM171.77 588.8h2.55v2.02h-2.55zM196.76 588.8h2.55v2.02h-2.55zM274.24 588.8h5.05v2.02h-5.05zM329.23 588.8h5.05v2.02h-5.05zM341.72 588.8h5.05v2.02h-5.05zM351.72 588.8h2.55v2.02h-2.55zM399.21 588.8h5.05v2.02h-5.05zM51.8 590.77h2.55v2.02h-2.55zM171.77 590.77h2.55v2.02h-2.55zM186.76 590.77h2.55v2.02h-2.55zM206.76 590.77h2.55v2.02h-2.55zM236.75 590.77h2.55v2.02h-2.55zM246.75 590.77h2.55v2.02h-2.55zM269.24 590.77h2.55v2.02h-2.55zM276.74 590.77h2.55v2.02h-2.55zM329.23 590.77h5.05v2.02h-5.05zM374.21 590.77h2.55v2.02h-2.55zM379.21 590.77h7.55v2.02h-7.55zM404.21 590.77h2.55v2.02h-2.55zM424.2 590.77h2.55v2.02h-2.55zM49.3 592.74h2.55v2.02h-2.55zM89.29 592.74h2.55v2.02h-2.55zM96.79 592.74h2.55v2.02h-2.55zM221.75 592.74h2.55v2.02h-2.55zM241.75 592.74h5.05v2.02h-5.05zM284.24 592.74h2.55v2.02h-2.55zM294.24 592.74h2.55v2.02h-2.55zM326.73 592.74h2.55v2.02h-2.55zM354.22 592.74h2.55v2.02h-2.55zM381.71 592.74h2.55v2.02h-2.55zM386.71 592.74h2.55v2.02h-2.55zM396.71 592.74h2.55v2.02h-2.55zM416.7 592.74h5.05v2.02h-5.05zM426.7 592.74h2.55v2.02h-2.55zM66.8 594.72h2.55v2.02h-2.55zM86.79 594.72h7.55v2.02h-7.55zM106.78 594.72h2.55v2.02h-2.55zM111.78 594.72h2.55v2.02h-2.55zM154.27 594.72h2.55v2.02h-2.55zM306.73 594.72h2.55v2.02h-2.55zM376.71 594.72h2.55v2.02h-2.55zM391.71 594.72h2.55v2.02h-2.55zM319.23 598.66h2.55v2.02h-2.55zM251.75 600.63h2.55v2.02h-2.55zM251.75 602.61h2.55v2.02h-2.55zM316.73 602.61h2.55v2.02h-2.55zM324.23 604.58h2.55v2.02h-2.55zM311.73 612.47h2.55v2.02h-2.55zM81.79 614.44h2.55v2.02h-2.55zM276.74 614.44h2.55v2.02h-2.55zM409.21 614.44h2.55v2.02h-2.55zM59.3 616.41h2.55v2.02h-2.55zM69.29 616.41h2.55v2.02h-2.55zM86.79 616.41h5.05v2.02h-5.05zM156.77 616.41h2.55v2.02h-2.55zM161.77 616.41h5.05v2.02h-5.05zM186.76 616.41h2.55v2.02h-2.55zM211.76 616.41h2.55v2.02h-2.55zM316.73 616.41h2.55v2.02h-2.55zM324.23 616.41h2.55v2.02h-2.55zM381.71 616.41h2.55v2.02h-2.55zM391.71 616.41h5.05v2.02h-5.05zM409.21 616.41h2.55v2.02h-2.55zM139.28 618.38h2.55v2.02h-2.55zM149.27 618.38h2.55v2.02h-2.55zM154.27 618.38h5.05v2.02h-5.05zM164.27 618.38h2.55v2.02h-2.55zM176.77 618.38h2.55v2.02h-2.55zM211.76 618.38h2.55v2.02h-2.55zM216.76 618.38h2.55v2.02h-2.55zM369.22 618.38h2.55v2.02h-2.55zM416.7 618.38h2.55v2.02h-2.55zM149.27 620.36h7.55v2.02h-7.55zM164.27 620.36h2.55v2.02h-2.55zM189.26 620.36h2.55v2.02h-2.55zM326.73 620.36h2.55v2.02h-2.55zM366.72 620.36h2.55v2.02h-2.55zM421.7 620.36h2.55v2.02h-2.55zM64.3 622.33h2.55v2.02h-2.55zM76.79 622.33h2.55v2.02h-2.55zM136.78 622.33h2.55v2.02h-2.55zM166.77 622.33h2.55v2.02h-2.55zM181.77 622.33h2.55v2.02h-2.55zM231.75 622.33h2.55v2.02h-2.55zM324.23 622.33h2.55v2.02h-2.55zM376.71 622.33h5.05v2.02h-5.05zM386.71 622.33h2.55v2.02h-2.55zM64.3 624.3h2.55v2.02h-2.55zM419.2 624.3h5.05v2.02h-5.05zM66.8 626.27h2.55v2.02h-2.55zM196.76 626.27h2.55v2.02h-2.55zM226.75 626.27h2.55v2.02h-2.55zM246.75 626.27h2.55v2.02h-2.55zM289.24 626.27h2.55v2.02h-2.55zM324.23 626.27h2.55v2.02h-2.55zM321.73 628.24h2.55v2.02h-2.55zM321.73 632.19h2.55v2.02h-2.55zM311.73 634.16h2.55v2.02h-2.55zM71.79 636.13h2.55v2.02h-2.55zM79.29 636.13h2.55v2.02h-2.55zM239.25 636.13h2.55v2.02h-2.55zM361.72 636.13h2.55v2.02h-2.55zM61.8 638.11h2.55v2.02h-2.55zM124.28 638.11h2.55v2.02h-2.55zM161.77 638.11h2.55v2.02h-2.55zM374.21 638.11h2.55v2.02h-2.55zM381.71 638.11h2.55v2.02h-2.55zM386.71 638.11h2.55v2.02h-2.55zM391.71 638.11h2.55v2.02h-2.55zM164.27 640.08h2.55v2.02h-2.55zM219.26 640.08h2.55v2.02h-2.55zM256.75 640.08h2.55v2.02h-2.55zM289.24 640.08h2.55v2.02h-2.55zM306.73 640.08h2.55v2.02h-2.55zM169.27 642.05h2.55v2.02h-2.55zM324.23 642.05h2.55v2.02h-2.55zM109.28 647.97h2.55v2.02h-2.55zM151.77 647.97h2.55v2.02h-2.55zM166.77 647.97h2.55v2.02h-2.55zM299.23 649.94h2.55v2.02h-2.55zM326.73 649.94h2.55v2.02h-2.55zM396.71 649.94h2.55v2.02h-2.55zM154.27 657.83h2.55v2.02h-2.55zM161.77 657.83h7.55v2.02h-7.55zM249.25 657.83h2.55v2.02h-2.55zM339.22 657.83h5.05v2.02h-5.05z"/>
<path fill="#ff0000" d="M54.3 588.8h2.55v2.02h-2.55zM116.78 592.74h2.55v2.02h-2.55zM331.73 594.72h2.55v2.02h-2.55zM49.3 596.69h2.55v2.02h-2.55zM59.3 596.69h5.05v2.02h-5.05zM66.8 596.69h2.55v2.02h-2.55zM84.29 596.69h2.55v2.02h-2.55zM146.77 596.69h5.05v2.02h-5.05zM161.77 596.69h5.05v2.02h-5.05zM169.27 596.69h2.55v2.02h-2.55zM179.27 596.69h2.55v2.02h-2.55zM189.26 596.69h2.55v2.02h-2.55zM194.26 596.69h2.55v2.02h-2.55zM199.26 596.69h2.55v2.02h-2.55zM231.75 596.69h2.55v2.02h-2.55zM331.73 596.69h2.55v2.02h-2.55zM364.22 596.69h2.55v2.02h-2.55zM369.22 596.69h2.55v2.02h-2.55zM404.21 596.69h2.55v2.02h-2.55zM426.7 596.69h2.55v2.02h-2.55zM74.29 598.66h2.55v2.02h-2.55zM91.79 598.66h2.55v2.02h-2.55zM96.79 598.66h2.55v2.02h-2.55zM109.28 598.66h2.55v2.02h-2.55zM141.78 598.66h2.55v2.02h-2.55zM149.27 598.66h5.05v2.02h-5.05zM166.77 598.66h2.55v2.02h-2.55zM186.76 598.66h2.55v2.02h-2.55zM244.25 598.66h2.55v2.02h-2.55zM261.74 598.66h5.05v2.02h-5.05zM279.24 598.66h2.55v2.02h-2.55zM296.73 598.66h2.55v2.02h-2.55zM326.73 598.66h2.55v2.02h-2.55zM394.21 598.66h2.55v2.02h-2.55zM49.3 600.63h2.55v2.02h-2.55zM59.3 600.63h2.55v2.02h-2.55zM69.29 600.63h2.55v2.02h-2.55zM106.78 600.63h2.55v2.02h-2.55zM111.78 600.63h2.55v2.02h-2.55zM134.28 600.63h2.55v2.02h-2.55zM149.27 600.63h2.55v2.02h-2.55zM154.27 600.63h10.05v2.02h-10.05zM186.76 600.63h2.55v2.02h-2.55zM199.26 600.63h2.55v2.02h-2.55zM219.26 600.63h2.55v2.02h-2.55zM224.25 600.63h2.55v2.02h-2.55zM261.74 600.63h2.55v2.02h-2.55zM329.23 600.63h2.55v2.02h-2.55zM371.72 600.63h2.55v2.02h-2.55zM384.21 600.63h5.05v2.02h-5.05zM391.71 600.63h2.55v2.02h-2.55zM69.29 602.61h5.05v2.02h-5.05zM84.29 602.61h2.55v2.02h-2.55zM96.79 602.61h5.05v2.02h-5.05zM106.78 602.61h2.55v2.02h-2.55zM121.78 602.61h2.55v2.02h-2.55zM139.28 602.61h2.55v2.02h-2.55zM156.77 602.61h2.55v2.02h-2.55zM161.77 602.61h2.55v2.02h-2.55zM201.76 602.61h2.55v2.02h-2.55zM236.75 602.61h2.55v2.02h-2.55zM279.24 602.61h2.55v2.02h-2.55zM396.71 602.61h2.55v2.02h-2.55zM59.3 604.58h2.55v2.02h-2.55zM101.79 604.58h7.55v2.02h-7.55zM134.28 604.58h2.55v2.02h-2.55zM139.28 604.58h5.05v2.02h-5.05zM146.77 604.58h2.55v2.02h-2.55zM201.76 604.58h2.55v2.02h-2.55zM286.74 604.58h2.55v2.02h-2.55zM296.73 604.58h2.55v2.02h-2.55zM311.73 604.58h2.55v2.02h-2.55zM366.72 604.58h2.55v2.02h-2.55zM386.71 604.58h2.55v2.02h-2.55zM391.71 604.58h5.05v2.02h-5.05zM106.78 606.55h2.55v2.02h-2.55zM131.78 606.55h2.55v2.02h-2.55zM139.28 606.55h2.55v2.02h-2.55zM164.27 606.55h2.55v2.02h-2.55zM196.76 606.55h2.55v2.02h-2.55zM289.24 606.55h2.55v2.02h-2.55zM306.73 606.55h2.55v2.02h-2.55zM381.71 606.55h2.55v2.02h-2.55zM386.71 606.55h2.55v2.02h-2.55zM394.21 606.55h2.55v2.02h-2.55zM101.79 608.52h2.55v2.02h-2.55zM249.25 608.52h2.55v2.02h-2.55zM256.75 608.52h2.55v2.02h-2.55zM384.21 608.52h2.55v2.02h-2.55zM244.25 610.49h2.55v2.02h-2.55zM254.25 610.49h2.55v2.02h-2.55zM311.73 610.49h2.55v2.02h-2.55zM56.8 612.47h2.55v2.02h-2.55zM74.29 612.47h2.55v2.02h-2.55zM79.29 612.47h5.05v2.02h-5.05zM196.76 612.47h2.55v2.02h-2.55zM216.76 612.47h10.05v2.02h-10.05zM234.25 612.47h2.55v2.02h-2.55zM261.74 612.47h2.55v2.02h-2.55zM276.74 612.47h2.55v2.02h-2.55zM301.73 612.47h5.05v2.02h-5.05zM331.73 612.47h2.55v2.02h-2.55zM341.72 612.47h5.05v2.02h-5.05zM349.22 612.47h2.55v2.02h-2.55zM374.21 612.47h2.55v2.02h-2.55zM389.21 612.47h2.55v2.02h-2.55zM424.2 612.47h2.55v2.02h-2.55zM101.79 614.44h2.55v2.02h-2.55zM106.78 614.44h2.55v2.02h-2.55zM111.78 614.44h2.55v2.02h-2.55zM236.75 614.44h5.05v2.02h-5.05zM264.24 614.44h2.55v2.02h-2.55zM289.24 614.44h2.55v2.02h-2.55zM356.72 614.44h7.55v2.02h-7.55zM366.72 614.44h5.05v2.02h-5.05zM119.28 616.41h2.55v2.02h-2.55zM349.22 616.41h2.55v2.02h-2.55zM341.72 622.33h2.55v2.02h-2.55zM346.72 622.33h2.55v2.02h-2.55zM56.8 624.3h2.55v2.02h-2.55zM241.75 624.3h2.55v2.02h-2.55zM289.24 624.3h2.55v2.02h-2.55zM304.23 624.3h5.05v2.02h-5.05zM346.72 624.3h2.55v2.02h-2.55zM351.72 624.3h2.55v2.02h-2.55zM336.72 626.27h2.55v2.02h-2.55zM94.29 628.24h2.55v2.02h-2.55zM101.79 628.24h2.55v2.02h-2.55zM124.28 628.24h2.55v2.02h-2.55zM131.78 628.24h5.05v2.02h-5.05zM196.76 628.24h5.05v2.02h-5.05zM224.25 628.24h12.55v2.02h-12.55zM259.24 628.24h2.55v2.02h-2.55zM279.24 628.24h2.55v2.02h-2.55zM284.24 628.24h2.55v2.02h-2.55zM301.73 628.24h5.05v2.02h-5.05zM331.73 628.24h5.05v2.02h-5.05zM379.21 628.24h2.55v2.02h-2.55zM79.29 630.22h2.55v2.02h-2.55zM124.28 630.22h2.55v2.02h-2.55zM166.77 630.22h5.05v2.02h-5.05zM189.26 630.22h2.55v2.02h-2.55zM246.75 630.22h2.55v2.02h-2.55zM284.24 630.22h2.55v2.02h-2.55zM331.73 630.22h5.05v2.02h-5.05zM369.22 630.22h2.55v2.02h-2.55zM111.78 632.19h2.55v2.02h-2.55zM121.78 632.19h5.05v2.02h-5.05zM129.28 632.19h2.55v2.02h-2.55zM136.78 632.19h5.05v2.02h-5.05zM149.27 632.19h5.05v2.02h-5.05zM169.27 632.19h5.05v2.02h-5.05zM181.77 632.19h2.55v2.02h-2.55zM191.76 632.19h5.05v2.02h-5.05zM204.26 632.19h2.55v2.02h-2.55zM271.74 632.19h5.05v2.02h-5.05zM294.24 632.19h5.05v2.02h-5.05zM311.73 632.19h2.55v2.02h-2.55zM329.23 632.19h5.05v2.02h-5.05zM369.22 632.19h2.55v2.02h-2.55zM379.21 632.19h2.55v2.02h-2.55zM396.71 632.19h2.55v2.02h-2.55zM71.79 634.16h2.55v2.02h-2.55zM81.79 634.16h2.55v2.02h-2.55zM91.79 634.16h2.55v2.02h-2.55zM164.27 634.16h7.55v2.02h-7.55zM181.77 634.16h7.55v2.02h-7.55zM191.76 634.16h2.55v2.02h-2.55zM211.76 634.16h5.05v2.02h-5.05zM221.75 634.16h2.55v2.02h-2.55zM254.25 634.16h2.55v2.02h-2.55zM289.24 634.16h2.55v2.02h-2.55zM389.21 634.16h2.55v2.02h-2.55zM394.21 634.16h2.55v2.02h-2.55zM399.21 634.16h2.55v2.02h-2.55zM426.7 634.16h2.55v2.02h-2.55zM96.79 636.13h2.55v2.02h-2.55zM151.77 636.13h7.55v2.02h-7.55zM189.26 636.13h2.55v2.02h-2.55zM194.26 636.13h2.55v2.02h-2.55zM231.75 636.13h2.55v2.02h-2.55zM426.7 636.13h2.55v2.02h-2.55zM116.78 638.11h2.55v2.02h-2.55zM59.3 642.05h5.05v2.02h-5.05zM66.8 642.05h2.55v2.02h-2.55zM76.79 642.05h2.55v2.02h-2.55zM84.29 642.05h2.55v2.02h-2.55zM94.29 642.05h2.55v2.02h-2.55zM99.29 642.05h2.55v2.02h-2.55zM154.27 642.05h2.55v2.02h-2.55zM199.26 642.05h7.55v2.02h-7.55zM214.26 642.05h5.05v2.02h-5.05zM234.25 642.05h2.55v2.02h-2.55zM254.25 642.05h2.55v2.02h-2.55zM276.74 642.05h2.55v2.02h-2.55zM299.23 642.05h7.55v2.02h-7.55zM356.72 642.05h2.55v2.02h-2.55zM384.21 642.05h2.55v2.02h-2.55zM396.71 642.05h2.55v2.02h-2.55zM401.71 642.05h2.55v2.02h-2.55zM416.7 642.05h2.55v2.02h-2.55zM421.7 642.05h2.55v2.02h-2.55zM49.3 644.02h2.55v2.02h-2.55zM79.29 644.02h7.55v2.02h-7.55zM89.29 644.02h2.55v2.02h-2.55zM101.79 644.02h2.55v2.02h-2.55zM106.78 644.02h2.55v2.02h-2.55zM156.77 644.02h2.55v2.02h-2.55zM221.75 644.02h2.55v2.02h-2.55zM226.75 644.02h5.05v2.02h-5.05zM234.25 644.02h2.55v2.02h-2.55zM251.75 644.02h2.55v2.02h-2.55zM269.24 644.02h2.55v2.02h-2.55zM279.24 644.02h2.55v2.02h-2.55zM289.24 644.02h2.55v2.02h-2.55zM401.71 644.02h2.55v2.02h-2.55zM66.8 645.99h2.55v2.02h-2.55zM76.79 645.99h2.55v2.02h-2.55zM141.78 645.99h2.55v2.02h-2.55zM166.77 645.99h5.05v2.02h-5.05zM176.77 645.99h2.55v2.02h-2.55zM186.76 645.99h2.55v2.02h-2.55zM214.26 645.99h2.55v2.02h-2.55zM219.26 645.99h2.55v2.02h-2.55zM246.75 645.99h2.55v2.02h-2.55zM286.74 645.99h5.05v2.02h-5.05zM296.73 645.99h2.55v2.02h-2.55zM326.73 645.99h2.55v2.02h-2.55zM336.72 645.99h17.55v2.02h-17.55zM389.21 645.99h7.55v2.02h-7.55zM416.7 645.99h5.05v2.02h-5.05zM51.8 647.97h2.55v2.02h-2.55zM141.78 647.97h2.55v2.02h-2.55zM209.26 647.97h2.55v2.02h-2.55zM259.24 647.97h2.55v2.02h-2.55zM286.74 647.97h12.55v2.02h-12.55zM331.73 647.97h2.55v2.02h-2.55zM366.72 647.97h2.55v2.02h-2.55zM391.71 647.97h5.05v2.02h-5.05zM399.21 647.97h2.55v2.02h-2.55zM64.3 649.94h10.05v2.02h-10.05zM144.27 649.94h5.05v2.02h-5.05zM164.27 649.94h2.55v2.02h-2.55zM176.77 649.94h2.55v2.02h-2.55zM181.77 649.94h2.55v2.02h-2.55zM259.24 649.94h2.55v2.02h-2.55zM279.24 649.94h2.55v2.02h-2.55zM59.3 651.91h2.55v2.02h-2.55zM66.8 651.91h2.55v2.02h-2.55zM89.29 651.91h2.55v2.02h-2.55zM176.77 651.91h2.55v2.02h-2.55zM186.76 651.91h2.55v2.02h-2.55zM244.25 651.91h2.55v2.02h-2.55zM329.23 651.91h2.55v2.02h-2.55zM349.22 651.91h2.55v2.02h-2.55zM366.72 651.91h2.55v2.02h-2.55zM289.24 653.88h2.55v2.02h-2.55zM311.73 653.88h2.55v2.02h-2.55zM71.79 655.86h5.05v2.02h-5.05zM104.29 655.86h2.55v2.02h-2.55zM129.28 655.86h5.05v2.02h-5.05zM151.77 655.86h2.55v2.02h-2.55zM189.26 655.86h2.55v2.02h-2.55zM196.76 655.86h2.55v2.02h-2.55zM306.73 655.86h2.55v2.02h-2.55zM344.22 655.86h2.55v2.02h-2.55zM354.22 655.86h2.55v2.02h-2.55zM364.22 655.86h2.55v2.02h-2.55zM236.75 657.83h2.55v2.02h-2.55zM421.7 657.83h5.05v2.02h-5.05z"/>
<path fill="#ff8700" d="M56.8 588.8h2.55v2.02h-2.55zM111.78 588.8h5.05v2.02h-5.05zM126.78 588.8h15.05v2.02h-15.05zM159.27 588.8h10.05v2.02h-10.05zM271.74 588.8h2.55v2.02h-2.55zM191.76 590.77h5.05v2.02h-5.05zM214.26 590.77h10.05v2.02h-10.05zM226.75 590.77h2.55v2.02h-2.55zM239.25 590.77h2.55v2.02h-2.55zM271.74 590.77h5.05v2.02h-5.05zM359.22 590.77h5.05v2.02h-5.05zM101.79 592.74h2.55v2.02h-2.55zM106.78 592.74h5.05v2.02h-5.05zM149.27 592.74h2.55v2.02h-2.55zM154.27 592.74h2.55v2.02h-2.55zM164.27 592.74h2.55v2.02h-2.55zM181.77 592.74h2.55v2.02h-2.55zM196.76 592.74h10.05v2.02h-10.05zM219.26 592.74h2.55v2.02h-2.55zM269.24 592.74h5.05v2.02h-5.05zM281.74 592.74h2.55v2.02h-2.55zM299.23 592.74h5.05v2.02h-5.05zM329.23 592.74h5.05v2.02h-5.05zM339.22 592.74h2.55v2.02h-2.55zM349.22 592.74h2.55v2.02h-2.55zM114.28 594.72h2.55v2.02h-2.55zM159.27 594.72h2.55v2.02h-2.55zM179.27 594.72h2.55v2.02h-2.55zM194.26 594.72h5.05v2.02h-5.05zM219.26 594.72h2.55v2.02h-2.55zM226.75 594.72h2.55v2.02h-2.55zM231.75 594.72h5.05v2.02h-5.05zM239.25 594.72h5.05v2.02h-5.05zM296.73 594.72h5.05v2.02h-5.05zM396.71 594.72h2.55v2.02h-2.55zM314.23 596.69h2.55v2.02h-2.55zM251.75 598.66h2.55v2.02h-2.55zM294.24 600.63h2.55v2.02h-2.55zM324.23 602.61h2.55v2.02h-2.55zM314.23 606.55h2.55v2.02h-2.55zM321.73 608.52h2.55v2.02h-2.55zM316.73 610.49h2.55v2.02h-2.55zM176.77 614.44h2.55v2.02h-2.55zM189.26 614.44h2.55v2.02h-2.55zM259.24 614.44h2.55v2.02h-2.55zM389.21 614.44h5.05v2.02h-5.05zM411.7 614.44h2.55v2.02h-2.55zM76.79 616.41h5.05v2.02h-5.05zM84.29 616.41h2.55v2.02h-2.55zM91.79 616.41h2.55v2.02h-2.55zM124.28 616.41h7.55v2.02h-7.55zM146.77 616.41h5.05v2.02h-5.05zM171.77 616.41h2.55v2.02h-2.55zM189.26 616.41h2.55v2.02h-2.55zM221.75 616.41h2.55v2.02h-2.55zM334.22 616.41h2.55v2.02h-2.55zM59.3 618.38h5.05v2.02h-5.05zM134.28 618.38h2.55v2.02h-2.55zM159.27 618.38h5.05v2.02h-5.05zM179.27 618.38h2.55v2.02h-2.55zM191.76 618.38h2.55v2.02h-2.55zM219.26 618.38h2.55v2.02h-2.55zM251.75 618.38h2.55v2.02h-2.55zM304.23 618.38h2.55v2.02h-2.55zM339.22 618.38h2.55v2.02h-2.55zM366.72 618.38h2.55v2.02h-2.55zM379.21 618.38h2.55v2.02h-2.55zM419.2 618.38h2.55v2.02h-2.55zM84.29 620.36h2.55v2.02h-2.55zM109.28 620.36h5.05v2.02h-5.05zM136.78 620.36h2.55v2.02h-2.55zM156.77 620.36h2.55v2.02h-2.55zM191.76 620.36h2.55v2.02h-2.55zM206.76 620.36h2.55v2.02h-2.55zM241.75 620.36h2.55v2.02h-2.55zM329.23 620.36h2.55v2.02h-2.55zM349.22 620.36h5.05v2.02h-5.05zM364.22 620.36h2.55v2.02h-2.55zM379.21 620.36h2.55v2.02h-2.55zM49.3 622.33h2.55v2.02h-2.55zM134.28 622.33h2.55v2.02h-2.55zM146.77 622.33h2.55v2.02h-2.55zM184.26 622.33h2.55v2.02h-2.55zM189.26 622.33h5.05v2.02h-5.05zM244.25 622.33h2.55v2.02h-2.55zM249.25 622.33h2.55v2.02h-2.55zM271.74 622.33h2.55v2.02h-2.55zM289.24 622.33h2.55v2.02h-2.55zM371.72 622.33h2.55v2.02h-2.55zM381.71 622.33h5.05v2.02h-5.05zM416.7 622.33h2.55v2.02h-2.55zM61.8 624.3h2.55v2.02h-2.55zM71.79 624.3h2.55v2.02h-2.55zM79.29 624.3h5.05v2.02h-5.05zM94.29 624.3h2.55v2.02h-2.55zM156.77 624.3h2.55v2.02h-2.55zM224.25 624.3h2.55v2.02h-2.55zM229.25 624.3h2.55v2.02h-2.55zM391.71 624.3h2.55v2.02h-2.55zM59.3 626.27h2.55v2.02h-2.55zM69.29 626.27h2.55v2.02h-2.55zM74.29 626.27h2.55v2.02h-2.55zM79.29 626.27h2.55v2.02h-2.55zM129.28 626.27h2.55v2.02h-2.55zM141.78 626.27h2.55v2.02h-2.55zM179.27 626.27h5.05v2.02h-5.05zM194.26 626.27h2.55v2.02h-2.55zM224.25 626.27h2.55v2.02h-2.55zM231.75 626.27h2.55v2.02h-2.55zM286.74 626.27h2.55v2.02h-2.55zM314.23 626.27h2.55v2.02h-2.55zM371.72 626.27h5.05v2.02h-5.05zM321.73 630.22h2.55v2.02h-2.55zM316.73 632.19h2.55v2.02h-2.55zM224.25 634.16h2.55v2.02h-2.55zM369.22 634.16h2.55v2.02h-2.55zM374.21 634.16h2.55v2.02h-2.55zM81.79 636.13h2.55v2.02h-2.55zM171.77 636.13h2.55v2.02h-2.55zM241.75 636.13h2.55v2.02h-2.55zM259.24 636.13h2.55v2.02h-2.55zM294.24 636.13h2.55v2.02h-2.55zM334.22 636.13h2.55v2.02h-2.55zM359.22 636.13h2.55v2.02h-2.55zM364.22 636.13h2.55v2.02h-2.55zM49.3 638.11h2.55v2.02h-2.55zM69.29 638.11h2.55v2.02h-2.55zM104.29 638.11h5.05v2.02h-5.05zM141.78 638.11h2.55v2.02h-2.55zM159.27 638.11h2.55v2.02h-2.55zM164.27 638.11h2.55v2.02h-2.55zM226.75 638.11h7.55v2.02h-7.55zM254.25 638.11h5.05v2.02h-5.05zM271.74 638.11h2.55v2.02h-2.55zM329.23 638.11h2.55v2.02h-2.55zM369.22 638.11h2.55v2.02h-2.55zM49.3 640.08h2.55v2.02h-2.55zM109.28 640.08h2.55v2.02h-2.55zM126.78 640.08h7.55v2.02h-7.55zM184.26 640.08h2.55v2.02h-2.55zM194.26 640.08h2.55v2.02h-2.55zM206.76 640.08h5.05v2.02h-5.05zM231.75 640.08h2.55v2.02h-2.55zM254.25 640.08h2.55v2.02h-2.55zM261.74 640.08h2.55v2.02h-2.55zM304.23 640.08h2.55v2.02h-2.55zM329.23 640.08h2.55v2.02h-2.55zM421.7 640.08h2.55v2.02h-2.55zM426.7 640.08h2.55v2.02h-2.55zM166.77 642.05h2.55v2.02h-2.55zM76.79 647.97h2.55v2.02h-2.55zM99.29 647.97h2.55v2.02h-2.55zM111.78 647.97h2.55v2.02h-2.55zM341.72 647.97h2.55v2.02h-2.55zM154.27 649.94h2.55v2.02h-2.55zM284.24 649.94h2.55v2.02h-2.55zM316.73 651.91h2.55v2.02h-2.55zM316.73 653.88h2.55v2.02h-2.55zM89.29 657.83h5.05v2.02h-5.05zM189.26 657.83h2.55v2.02h-2.55zM206.76 657.83h2.55v2.02h-2.55zM399.21 657.83h2.55v2.02h-2.55z"/>
<path fill="#ffff19" d="M59.3 588.8h2.55v2.02h-2.55zM76.79 588.8h2.55v2.02h-2.55zM249.25 588.8h2.55v2.02h-2.55zM324.23 588.8h2.55v2.02h-2.55zM66.8 590.77h5.05v2.02h-5.05zM74.29 590.77h2.55v2.02h-2.55zM89.29 590.77h2.55v2.02h-2.55zM96.79 590.77h5.05v2.02h-5.05zM114.28 590.77h2.55v2.02h-2.55zM121.78 590.77h2.55v2.02h-2.55zM201.76 590.77h2.55v2.02h-2.55zM289.24 590.77h2.55v2.02h-2.55zM349.22 590.77h2.55v2.02h-2.55zM71.79 592.74h2.55v2.02h-2.55zM81.79 592.74h5.05v2.02h-5.05zM251.75 592.74h2.55v2.02h-2.55zM324.23 592.74h2.55v2.02h-2.55zM256.75 594.72h2.55v2.02h-2.55zM321.73 600.63h2.55v2.02h-2.55zM321.73 604.58h2.55v2.02h-2.55zM269.24 616.41h2.55v2.02h-2.55zM386.71 616.41h2.55v2.02h-2.55zM209.26 618.38h2.55v2.02h-2.55zM74.29 620.36h2.55v2.02h-2.55zM81.79 620.36h2.55v2.02h-2.55zM206.76 622.33h2.55v2.02h-2.55zM409.21 622.33h2.55v2.02h-2.55zM144.27 624.3h2.55v2.02h-2.55zM321.73 624.3h2.55v2.02h-2.55zM49.3 626.27h5.05v2.02h-5.05zM319.23 634.16h2.55v2.02h-2.55zM76.79 636.13h2.55v2.02h-2.55zM261.74 636.13h2.55v2.02h-2.55zM139.28 640.08h2.55v2.02h-2.55zM216.76 640.08h2.55v2.02h-2.55zM316.73 649.94h2.55v2.02h-2.55zM321.73 655.86h2.55v2.02h-2.55zM254.25 657.83h2.55v2.02h-2.55z"/>
<path fill="#ffff99" d="M61.8 588.8h2.55v2.02h-2.55zM219.26 588.8h2.55v2.02h-2.55zM424.2 588.8h2.55v2.02h-2.55zM84.29 590.77h2.55v2.02h-2.55zM291.74 590.77h2.55v2.02h-2.55zM316.73 590.77h2.55v2.02h-2.55zM126.78 592.74h2.55v2.02h-2.55zM291.74 592.74h2.55v2.02h-2.55zM401.71 620.36h2.55v2.02h-2.55z"/>
<path fill="#ffffff" d="M64.3 588.8h2.55v2.02h-2.55zM221.75 588.8h5.05v2.02h-5.05zM81.79 590.77h2.55v2.02h-2.55zM86.79 590.77h2.55v2.02h-2.55zM319.23 590.77h2.55v2.02h-2.55zM129.28 592.74h2.55v2.02h-2.55zM314.23 592.74h5.05v2.02h-5.05zM319.23 594.72h5.05v2.02h-5.05zM76.79 618.38h5.05v2.02h-5.05zM389.21 620.36h2.55v2.02h-2.55zM394.21 620.36h5.05v2.02h-5.05zM321.73 638.11h2.55v2.02h-2.55zM316.73 640.08h7.55v2.02h-7.55z"/>
<path fill="#ffffcb" d="M66.8 588.8h2.55v2.02h-2.55zM84.29 588.8h2.55v2.02h-2.55zM319.23 588.8h2.55v2.02h-2.55zM321.73 590.77h2.55v2.02h-2.55zM351.72 590.77h2.55v2.02h-2.55zM121.78 592.74h2.55v2.02h-2.55zM396.71 618.38h5.05v2.02h-5.05zM324.23 638.11h2.55v2.02h-2.55zM319.23 649.94h5.05v2.02h-5.05z"/>
<path fill="#ffff33" d="M69.29 588.8h2.55v2.02h-2.55zM251.75 588.8h2.55v2.02h-2.55zM71.79 590.77h2.55v2.02h-2.55zM76.79 590.77h2.55v2.02h-2.55zM131.78 590.77h2.55v2.02h-2.55zM286.74 590.77h2.55v2.02h-2.55zM294.24 590.77h2.55v2.02h-2.55zM376.71 592.74h2.55v2.02h-2.55zM61.8 594.72h2.55v2.02h-2.55zM311.73 594.72h2.55v2.02h-2.55zM319.23 604.58h2.55v2.02h-2.55zM319.23 606.55h2.55v2.02h-2.55zM314.23 612.47h2.55v2.02h-2.55zM64.3 614.44h2.55v2.02h-2.55zM74.29 614.44h5.05v2.02h-5.05zM251.75 616.41h2.55v2.02h-2.55zM416.7 616.41h5.05v2.02h-5.05zM84.29 618.38h2.55v2.02h-2.55zM169.27 618.38h2.55v2.02h-2.55zM186.76 618.38h2.55v2.02h-2.55zM394.21 618.38h2.55v2.02h-2.55zM404.21 618.38h2.55v2.02h-2.55zM71.79 620.36h2.55v2.02h-2.55zM319.23 620.36h5.05v2.02h-5.05zM409.21 620.36h2.55v2.02h-2.55zM414.2 620.36h2.55v2.02h-2.55zM141.78 622.33h2.55v2.02h-2.55zM149.27 624.3h2.55v2.02h-2.55zM301.73 636.13h2.55v2.02h-2.55zM316.73 638.11h2.55v2.02h-2.55zM214.26 640.08h2.55v2.02h-2.55zM321.73 647.97h2.55v2.02h-2.55zM319.23 655.86h2.55v2.02h-2.55zM251.75 657.83h2.55v2.02h-2.55z"/>
<path fill="#ffed00" d="M71.79 588.8h2.55v2.02h-2.55zM186.76 588.8h2.55v2.02h-2.55zM206.76 588.8h5.05v2.02h-5.05zM244.25 588.8h2.55v2.02h-2.55zM349.22 588.8h2.55v2.02h-2.55zM381.71 588.8h2.55v2.02h-2.55zM386.71 588.8h2.55v2.02h-2.55zM61.8 590.77h2.55v2.02h-2.55zM106.78 590.77h2.55v2.02h-2.55zM151.77 590.77h5.05v2.02h-5.05zM249.25 590.77h2.55v2.02h-2.55zM254.25 590.77h2.55v2.02h-2.55zM264.24 590.77h2.55v2.02h-2.55zM301.73 590.77h2.55v2.02h-2.55zM309.23 590.77h2.55v2.02h-2.55zM326.73 590.77h2.55v2.02h-2.55zM346.72 590.77h2.55v2.02h-2.55zM61.8 592.74h10.05v2.02h-10.05zM274.24 592.74h2.55v2.02h-2.55zM289.24 592.74h2.55v2.02h-2.55zM361.72 592.74h2.55v2.02h-2.55zM389.21 592.74h2.55v2.02h-2.55zM394.21 592.74h2.55v2.02h-2.55zM76.79 594.72h2.55v2.02h-2.55zM259.24 594.72h2.55v2.02h-2.55zM316.73 596.69h2.55v2.02h-2.55zM319.23 602.61h2.55v2.02h-2.55zM79.29 614.44h2.55v2.02h-2.55zM196.76 614.44h2.55v2.02h-2.55zM249.25 614.44h2.55v2.02h-2.55zM266.74 616.41h2.55v2.02h-2.55zM399.21 616.41h7.55v2.02h-7.55zM414.2 616.41h2.55v2.02h-2.55zM89.29 618.38h2.55v2.02h-2.55zM184.26 618.38h2.55v2.02h-2.55zM189.26 618.38h2.55v2.02h-2.55zM391.71 618.38h2.55v2.02h-2.55zM406.71 618.38h2.55v2.02h-2.55zM76.79 620.36h2.55v2.02h-2.55zM214.26 620.36h2.55v2.02h-2.55zM324.23 620.36h2.55v2.02h-2.55zM71.79 622.33h5.05v2.02h-5.05zM176.77 622.33h2.55v2.02h-2.55zM234.25 622.33h2.55v2.02h-2.55zM399.21 622.33h7.55v2.02h-7.55zM411.7 622.33h2.55v2.02h-2.55zM89.29 624.3h5.05v2.02h-5.05zM134.28 624.3h2.55v2.02h-2.55zM401.71 624.3h2.55v2.02h-2.55zM394.21 626.27h7.55v2.02h-7.55zM226.75 634.16h2.55v2.02h-2.55zM321.73 634.16h2.55v2.02h-2.55zM186.76 638.11h2.55v2.02h-2.55zM236.75 638.11h2.55v2.02h-2.55zM144.27 640.08h2.55v2.02h-2.55zM399.21 640.08h2.55v2.02h-2.55zM406.71 640.08h2.55v2.02h-2.55zM319.23 642.05h2.55v2.02h-2.55zM106.78 647.97h2.55v2.02h-2.55zM301.73 649.94h2.55v2.02h-2.55zM319.23 651.91h5.05v2.02h-5.05zM311.73 657.83h2.55v2.02h-2.55z"/>
<path fill="#ffdc00" d="M74.29 588.8h2.55v2.02h-2.55zM119.28 588.8h2.55v2.02h-2.55zM181.77 588.8h5.05v2.02h-5.05zM254.25 588.8h2.55v2.02h-2.55zM261.74 588.8h2.55v2.02h-2.55zM289.24 588.8h5.05v2.02h-5.05zM304.23 588.8h2.55v2.02h-2.55zM391.71 588.8h5.05v2.02h-5.05zM419.2 588.8h2.55v2.02h-2.55zM49.3 590.77h2.55v2.02h-2.55zM109.28 590.77h2.55v2.02h-2.55zM149.27 590.77h2.55v2.02h-2.55zM161.77 590.77h2.55v2.02h-2.55zM334.22 590.77h5.05v2.02h-5.05zM341.72 590.77h5.05v2.02h-5.05zM399.21 590.77h2.55v2.02h-2.55zM409.21 590.77h2.55v2.02h-2.55zM76.79 592.74h5.05v2.02h-5.05zM86.79 592.74h2.55v2.02h-2.55zM119.28 592.74h2.55v2.02h-2.55zM171.77 592.74h5.05v2.02h-5.05zM234.25 592.74h2.55v2.02h-2.55zM359.22 592.74h2.55v2.02h-2.55zM364.22 592.74h7.55v2.02h-7.55zM69.29 594.72h2.55v2.02h-2.55zM74.29 594.72h2.55v2.02h-2.55zM84.29 594.72h2.55v2.02h-2.55zM169.27 594.72h2.55v2.02h-2.55zM249.25 594.72h2.55v2.02h-2.55zM291.74 594.72h2.55v2.02h-2.55zM324.23 594.72h2.55v2.02h-2.55zM379.21 594.72h2.55v2.02h-2.55zM389.21 594.72h2.55v2.02h-2.55zM321.73 606.55h2.55v2.02h-2.55zM221.75 614.44h5.05v2.02h-5.05zM179.27 616.41h2.55v2.02h-2.55zM209.26 616.41h2.55v2.02h-2.55zM264.24 616.41h2.55v2.02h-2.55zM319.23 616.41h2.55v2.02h-2.55zM389.21 616.41h2.55v2.02h-2.55zM421.7 616.41h2.55v2.02h-2.55zM166.77 618.38h2.55v2.02h-2.55zM174.27 618.38h2.55v2.02h-2.55zM314.23 618.38h5.05v2.02h-5.05zM321.73 618.38h2.55v2.02h-2.55zM389.21 618.38h2.55v2.02h-2.55zM64.3 620.36h5.05v2.02h-5.05zM261.74 620.36h2.55v2.02h-2.55zM316.73 620.36h2.55v2.02h-2.55zM384.21 620.36h2.55v2.02h-2.55zM69.29 622.33h2.55v2.02h-2.55zM354.22 622.33h2.55v2.02h-2.55zM391.71 622.33h5.05v2.02h-5.05zM136.78 624.3h2.55v2.02h-2.55zM141.78 624.3h2.55v2.02h-2.55zM179.27 624.3h2.55v2.02h-2.55zM316.73 624.3h2.55v2.02h-2.55zM411.7 624.3h2.55v2.02h-2.55zM144.27 626.27h5.05v2.02h-5.05zM359.22 626.27h5.05v2.02h-5.05zM404.21 626.27h2.55v2.02h-2.55zM306.73 634.16h5.05v2.02h-5.05zM324.23 634.16h2.55v2.02h-2.55zM169.27 636.13h2.55v2.02h-2.55zM311.73 636.13h7.55v2.02h-7.55zM114.28 638.11h2.55v2.02h-2.55zM326.73 638.11h2.55v2.02h-2.55zM64.3 640.08h2.55v2.02h-2.55zM79.29 640.08h2.55v2.02h-2.55zM151.77 640.08h2.55v2.02h-2.55zM166.77 640.08h5.05v2.02h-5.05zM191.76 640.08h2.55v2.02h-2.55zM396.71 640.08h2.55v2.02h-2.55zM409.21 640.08h2.55v2.02h-2.55zM321.73 642.05h2.55v2.02h-2.55zM316.73 647.97h2.55v2.02h-2.55zM126.78 649.94h2.55v2.02h-2.55zM201.76 649.94h2.55v2.02h-2.55zM159.27 657.83h2.55v2.02h-2.55zM314.23 657.83h2.55v2.02h-2.55z"/>
<path fill="#ffff7f" d="M79.29 588.8h2.55v2.02h-2.55zM124.28 592.74h2.55v2.02h-2.55zM316.73 594.72h2.55v2.02h-2.55zM319.23 612.47h2.55v2.02h-2.55zM391.71 620.36h2.55v2.02h-2.55zM404.21 620.36h2.55v2.02h-2.55zM319.23 626.27h2.55v2.02h-2.55zM314.23 640.08h2.55v2.02h-2.55zM319.23 647.97h2.55v2.02h-2.55zM319.23 657.83h2.55v2.02h-2.55z"/>
<path fill="#ffffe5" d="M81.79 588.8h2.55v2.02h-2.55zM129.28 590.77h2.55v2.02h-2.55zM319.23 592.74h5.05v2.02h-5.05zM81.79 618.38h2.55v2.02h-2.55zM399.21 620.36h2.55v2.02h-2.55zM316.73 622.33h5.05v2.02h-5.05z"/>
<path fill="#ffff65" d="M86.79 588.8h2.55v2.02h-2.55zM296.73 588.8h5.05v2.02h-5.05zM126.78 590.77h2.55v2.02h-2.55zM159.27 590.77h2.55v2.02h-2.55zM354.22 590.77h2.55v2.02h-2.55zM71.79 594.72h2.55v2.02h-2.55zM384.21 594.72h2.55v2.02h-2.55zM319.23 596.69h5.05v2.02h-5.05zM66.8 614.44h5.05v2.02h-5.05zM401.71 618.38h2.55v2.02h-2.55zM404.21 624.3h2.55v2.02h-2.55zM409.21 624.3h2.55v2.02h-2.55zM324.23 649.94h2.55v2.02h-2.55z"/>
<path fill="#ffff00" d="M89.29 588.8h2.55v2.02h-2.55zM121.78 588.8h2.55v2.02h-2.55zM246.75 588.8h2.55v2.02h-2.55zM294.24 588.8h2.55v2.02h-2.55zM301.73 588.8h2.55v2.02h-2.55zM314.23 588.8h2.55v2.02h-2.55zM384.21 588.8h2.55v2.02h-2.55zM389.21 588.8h2.55v2.02h-2.55zM64.3 590.77h2.55v2.02h-2.55zM91.79 590.77h5.05v2.02h-5.05zM101.79 590.77h5.05v2.02h-5.05zM124.28 590.77h2.55v2.02h-2.55zM199.26 590.77h2.55v2.02h-2.55zM284.24 590.77h2.55v2.02h-2.55zM296.73 590.77h5.05v2.02h-5.05zM304.23 590.77h5.05v2.02h-5.05zM311.73 590.77h2.55v2.02h-2.55zM74.29 592.74h2.55v2.02h-2.55zM249.25 592.74h2.55v2.02h-2.55zM311.73 592.74h2.55v2.02h-2.55zM374.21 592.74h2.55v2.02h-2.55zM391.71 592.74h2.55v2.02h-2.55zM409.21 592.74h2.55v2.02h-2.55zM79.29 594.72h5.05v2.02h-5.05zM286.74 594.72h2.55v2.02h-2.55zM309.23 594.72h2.55v2.02h-2.55zM381.71 594.72h2.55v2.02h-2.55zM319.23 600.63h2.55v2.02h-2.55zM321.73 612.47h2.55v2.02h-2.55zM226.75 614.44h2.55v2.02h-2.55zM64.3 616.41h2.55v2.02h-2.55zM184.26 616.41h2.55v2.02h-2.55zM249.25 616.41h2.55v2.02h-2.55zM384.21 616.41h2.55v2.02h-2.55zM74.29 618.38h2.55v2.02h-2.55zM86.79 618.38h2.55v2.02h-2.55zM91.79 618.38h2.55v2.02h-2.55zM306.73 618.38h2.55v2.02h-2.55zM311.73 618.38h2.55v2.02h-2.55zM319.23 618.38h2.55v2.02h-2.55zM166.77 620.36h2.55v2.02h-2.55zM186.76 620.36h2.55v2.02h-2.55zM396.71 622.33h2.55v2.02h-2.55zM139.28 624.3h2.55v2.02h-2.55zM321.73 626.27h2.55v2.02h-2.55zM401.71 626.27h2.55v2.02h-2.55zM246.75 636.13h2.55v2.02h-2.55zM264.24 636.13h2.55v2.02h-2.55zM299.23 636.13h2.55v2.02h-2.55zM304.23 636.13h2.55v2.02h-2.55zM319.23 636.13h5.05v2.02h-5.05zM184.26 638.11h2.55v2.02h-2.55zM396.71 638.11h7.55v2.02h-7.55zM136.78 640.08h2.55v2.02h-2.55zM141.78 640.08h2.55v2.02h-2.55zM156.77 640.08h2.55v2.02h-2.55zM189.26 640.08h2.55v2.02h-2.55zM271.74 640.08h2.55v2.02h-2.55zM309.23 640.08h2.55v2.02h-2.55zM104.29 647.97h2.55v2.02h-2.55zM286.74 649.94h2.55v2.02h-2.55zM316.73 655.86h2.55v2.02h-2.55zM316.73 657.83h2.55v2.02h-2.55z"/>
<path fill="#ffcc00" d="M91.79 588.8h2.55v2.02h-2.55zM101.79 588.8h2.55v2.02h-2.55zM149.27 588.8h7.55v2.02h-7.55zM179.27 588.8h2.55v2.02h-2.55zM189.26 588.8h2.55v2.02h-2.55zM204.26 588.8h2.55v2.02h-2.55zM229.25 588.8h2.55v2.02h-2.55zM241.75 588.8h2.55v2.02h-2.55zM264.24 588.8h2.55v2.02h-2.55zM284.24 588.8h5.05v2.02h-5.05zM326.73 588.8h2.55v2.02h-2.55zM336.72 588.8h5.05v2.02h-5.05zM346.72 588.8h2.55v2.02h-2.55zM356.72 588.8h5.05v2.02h-5.05zM369.22 588.8h2.55v2.02h-2.55zM374.21 588.8h2.55v2.02h-2.55zM379.21 588.8h2.55v2.02h-2.55zM406.71 588.8h5.05v2.02h-5.05zM59.3 590.77h2.55v2.02h-2.55zM111.78 590.77h2.55v2.02h-2.55zM134.28 590.77h5.05v2.02h-5.05zM146.77 590.77h2.55v2.02h-2.55zM181.77 590.77h2.55v2.02h-2.55zM196.76 590.77h2.55v2.02h-2.55zM229.25 590.77h7.55v2.02h-7.55zM259.24 590.77h5.05v2.02h-5.05zM281.74 590.77h2.55v2.02h-2.55zM356.72 590.77h2.55v2.02h-2.55zM389.21 590.77h5.05v2.02h-5.05zM401.71 590.77h2.55v2.02h-2.55zM411.7 590.77h2.55v2.02h-2.55zM419.2 590.77h2.55v2.02h-2.55zM59.3 592.74h2.55v2.02h-2.55zM131.78 592.74h2.55v2.02h-2.55zM169.27 592.74h2.55v2.02h-2.55zM229.25 592.74h5.05v2.02h-5.05zM286.74 592.74h2.55v2.02h-2.55zM371.72 592.74h2.55v2.02h-2.55zM406.71 592.74h2.55v2.02h-2.55zM414.2 592.74h2.55v2.02h-2.55zM424.2 592.74h2.55v2.02h-2.55zM94.29 594.72h5.05v2.02h-5.05zM101.79 594.72h2.55v2.02h-2.55zM166.77 594.72h2.55v2.02h-2.55zM261.74 594.72h2.55v2.02h-2.55zM316.73 600.63h2.55v2.02h-2.55zM321.73 602.61h2.55v2.02h-2.55zM316.73 604.58h2.55v2.02h-2.55zM316.73 606.55h2.55v2.02h-2.55zM194.26 614.44h2.55v2.02h-2.55zM229.25 614.44h2.55v2.02h-2.55zM319.23 614.44h2.55v2.02h-2.55zM399.21 614.44h2.55v2.02h-2.55zM404.21 614.44h2.55v2.02h-2.55zM181.77 616.41h2.55v2.02h-2.55zM261.74 616.41h2.55v2.02h-2.55zM321.73 616.41h2.55v2.02h-2.55zM396.71 616.41h2.55v2.02h-2.55zM406.71 616.41h2.55v2.02h-2.55zM71.79 618.38h2.55v2.02h-2.55zM94.29 618.38h2.55v2.02h-2.55zM281.74 618.38h2.55v2.02h-2.55zM386.71 618.38h2.55v2.02h-2.55zM411.7 618.38h2.55v2.02h-2.55zM69.29 620.36h2.55v2.02h-2.55zM184.26 620.36h2.55v2.02h-2.55zM194.26 620.36h2.55v2.02h-2.55zM211.76 620.36h2.55v2.02h-2.55zM216.76 620.36h2.55v2.02h-2.55zM381.71 620.36h2.55v2.02h-2.55zM416.7 620.36h2.55v2.02h-2.55zM66.8 622.33h2.55v2.02h-2.55zM101.79 622.33h2.55v2.02h-2.55zM139.28 622.33h2.55v2.02h-2.55zM171.77 622.33h5.05v2.02h-5.05zM209.26 622.33h2.55v2.02h-2.55zM311.73 622.33h2.55v2.02h-2.55zM351.72 622.33h2.55v2.02h-2.55zM359.22 622.33h5.05v2.02h-5.05zM406.71 622.33h2.55v2.02h-2.55zM414.2 622.33h2.55v2.02h-2.55zM151.77 624.3h2.55v2.02h-2.55zM176.77 624.3h2.55v2.02h-2.55zM399.21 624.3h2.55v2.02h-2.55zM199.26 626.27h2.55v2.02h-2.55zM204.26 626.27h5.05v2.02h-5.05zM316.73 626.27h2.55v2.02h-2.55zM391.71 626.27h2.55v2.02h-2.55zM406.71 626.27h2.55v2.02h-2.55zM319.23 632.19h2.55v2.02h-2.55zM231.75 634.16h5.05v2.02h-5.05zM299.23 634.16h2.55v2.02h-2.55zM304.23 634.16h2.55v2.02h-2.55zM371.72 634.16h2.55v2.02h-2.55zM249.25 636.13h2.55v2.02h-2.55zM306.73 636.13h5.05v2.02h-5.05zM324.23 636.13h2.55v2.02h-2.55zM111.78 638.11h2.55v2.02h-2.55zM189.26 638.11h2.55v2.02h-2.55zM239.25 638.11h2.55v2.02h-2.55zM314.23 638.11h2.55v2.02h-2.55zM366.72 638.11h2.55v2.02h-2.55zM376.71 638.11h2.55v2.02h-2.55zM394.21 638.11h2.55v2.02h-2.55zM404.21 638.11h2.55v2.02h-2.55zM409.21 638.11h2.55v2.02h-2.55zM66.8 640.08h2.55v2.02h-2.55zM146.77 640.08h2.55v2.02h-2.55zM186.76 640.08h2.55v2.02h-2.55zM274.24 640.08h2.55v2.02h-2.55zM291.74 640.08h2.55v2.02h-2.55zM401.71 640.08h5.05v2.02h-5.05zM101.79 647.97h2.55v2.02h-2.55zM149.27 647.97h2.55v2.02h-2.55zM289.24 649.94h2.55v2.02h-2.55zM304.23 649.94h2.55v2.02h-2.55zM319.23 653.88h2.55v2.02h-2.55zM94.29 657.83h2.55v2.02h-2.55zM324.23 657.83h2.55v2.02h-2.55zM401.71 657.83h2.55v2.02h-2.55z"/>
<path fill="#ff1100" d="M116.78 588.8h2.55v2.02h-2.55zM329.23 594.72h2.55v2.02h-2.55zM351.72 594.72h2.55v2.02h-2.55zM79.29 596.69h5.05v2.02h-5.05zM91.79 596.69h2.55v2.02h-2.55zM111.78 596.69h5.05v2.02h-5.05zM141.78 596.69h5.05v2.02h-5.05zM156.77 596.69h5.05v2.02h-5.05zM241.75 596.69h2.55v2.02h-2.55zM306.73 596.69h2.55v2.02h-2.55zM329.23 596.69h2.55v2.02h-2.55zM361.72 596.69h2.55v2.02h-2.55zM366.72 596.69h2.55v2.02h-2.55zM384.21 596.69h5.05v2.02h-5.05zM401.71 596.69h2.55v2.02h-2.55zM66.8 598.66h2.55v2.02h-2.55zM76.79 598.66h2.55v2.02h-2.55zM86.79 598.66h5.05v2.02h-5.05zM99.29 598.66h2.55v2.02h-2.55zM139.28 598.66h2.55v2.02h-2.55zM154.27 598.66h7.55v2.02h-7.55zM164.27 598.66h2.55v2.02h-2.55zM189.26 598.66h7.55v2.02h-7.55zM371.72 598.66h2.55v2.02h-2.55zM389.21 598.66h5.05v2.02h-5.05zM61.8 600.63h2.55v2.02h-2.55zM66.8 600.63h2.55v2.02h-2.55zM131.78 600.63h2.55v2.02h-2.55zM141.78 600.63h7.55v2.02h-7.55zM196.76 600.63h2.55v2.02h-2.55zM239.25 600.63h2.55v2.02h-2.55zM244.25 600.63h5.05v2.02h-5.05zM259.24 600.63h2.55v2.02h-2.55zM284.24 600.63h2.55v2.02h-2.55zM304.23 600.63h5.05v2.02h-5.05zM381.71 600.63h2.55v2.02h-2.55zM49.3 602.61h2.55v2.02h-2.55zM79.29 602.61h2.55v2.02h-2.55zM104.29 602.61h2.55v2.02h-2.55zM124.28 602.61h2.55v2.02h-2.55zM136.78 602.61h2.55v2.02h-2.55zM159.27 602.61h2.55v2.02h-2.55zM164.27 602.61h5.05v2.02h-5.05zM179.27 602.61h5.05v2.02h-5.05zM199.26 602.61h2.55v2.02h-2.55zM259.24 602.61h2.55v2.02h-2.55zM356.72 602.61h2.55v2.02h-2.55zM364.22 602.61h2.55v2.02h-2.55zM66.8 604.58h5.05v2.02h-5.05zM99.29 604.58h2.55v2.02h-2.55zM126.78 604.58h7.55v2.02h-7.55zM136.78 604.58h2.55v2.02h-2.55zM179.27 604.58h2.55v2.02h-2.55zM204.26 604.58h2.55v2.02h-2.55zM209.26 604.58h2.55v2.02h-2.55zM246.75 604.58h2.55v2.02h-2.55zM294.24 604.58h2.55v2.02h-2.55zM299.23 604.58h10.05v2.02h-10.05zM326.73 604.58h2.55v2.02h-2.55zM381.71 604.58h5.05v2.02h-5.05zM121.78 606.55h2.55v2.02h-2.55zM129.28 606.55h2.55v2.02h-2.55zM141.78 606.55h2.55v2.02h-2.55zM151.77 606.55h5.05v2.02h-5.05zM161.77 606.55h2.55v2.02h-2.55zM194.26 606.55h2.55v2.02h-2.55zM246.75 606.55h2.55v2.02h-2.55zM366.72 606.55h2.55v2.02h-2.55zM96.79 608.52h2.55v2.02h-2.55zM239.25 610.49h2.55v2.02h-2.55zM51.8 612.47h2.55v2.02h-2.55zM141.78 612.47h2.55v2.02h-2.55zM164.27 612.47h2.55v2.02h-2.55zM179.27 612.47h2.55v2.02h-2.55zM204.26 612.47h2.55v2.02h-2.55zM211.76 612.47h5.05v2.02h-5.05zM249.25 612.47h2.55v2.02h-2.55zM256.75 612.47h2.55v2.02h-2.55zM281.74 612.47h5.05v2.02h-5.05zM291.74 612.47h2.55v2.02h-2.55zM306.73 612.47h2.55v2.02h-2.55zM329.23 612.47h2.55v2.02h-2.55zM346.72 612.47h2.55v2.02h-2.55zM354.22 612.47h2.55v2.02h-2.55zM364.22 612.47h2.55v2.02h-2.55zM376.71 612.47h2.55v2.02h-2.55zM394.21 612.47h2.55v2.02h-2.55zM419.2 612.47h5.05v2.02h-5.05zM109.28 614.44h2.55v2.02h-2.55zM241.75 614.44h2.55v2.02h-2.55zM271.74 614.44h5.05v2.02h-5.05zM286.74 614.44h2.55v2.02h-2.55zM299.23 614.44h2.55v2.02h-2.55zM351.72 614.44h5.05v2.02h-5.05zM371.72 614.44h2.55v2.02h-2.55zM344.22 616.41h5.05v2.02h-5.05zM351.72 616.41h7.55v2.02h-7.55zM361.72 616.41h2.55v2.02h-2.55zM256.75 618.38h2.55v2.02h-2.55zM354.22 618.38h7.55v2.02h-7.55zM341.72 620.36h2.55v2.02h-2.55zM114.28 622.33h2.55v2.02h-2.55zM51.8 624.3h2.55v2.02h-2.55zM126.78 624.3h2.55v2.02h-2.55zM239.25 624.3h2.55v2.02h-2.55zM281.74 624.3h7.55v2.02h-7.55zM331.73 624.3h15.05v2.02h-15.05zM354.22 624.3h2.55v2.02h-2.55zM54.3 626.27h2.55v2.02h-2.55zM339.22 626.27h7.55v2.02h-7.55zM354.22 626.27h2.55v2.02h-2.55zM366.72 626.27h2.55v2.02h-2.55zM376.71 626.27h2.55v2.02h-2.55zM416.7 626.27h10.05v2.02h-10.05zM96.79 628.24h5.05v2.02h-5.05zM114.28 628.24h2.55v2.02h-2.55zM126.78 628.24h5.05v2.02h-5.05zM156.77 628.24h2.55v2.02h-2.55zM164.27 628.24h2.55v2.02h-2.55zM211.76 628.24h2.55v2.02h-2.55zM219.26 628.24h5.05v2.02h-5.05zM246.75 628.24h7.55v2.02h-7.55zM266.74 628.24h2.55v2.02h-2.55zM286.74 628.24h7.55v2.02h-7.55zM299.23 628.24h2.55v2.02h-2.55zM306.73 628.24h2.55v2.02h-2.55zM326.73 628.24h2.55v2.02h-2.55zM59.3 630.22h5.05v2.02h-5.05zM81.79 630.22h2.55v2.02h-2.55zM109.28 630.22h2.55v2.02h-2.55zM164.27 630.22h2.55v2.02h-2.55zM179.27 630.22h2.55v2.02h-2.55zM206.76 630.22h7.55v2.02h-7.55zM229.25 630.22h2.55v2.02h-2.55zM234.25 630.22h7.55v2.02h-7.55zM271.74 630.22h2.55v2.02h-2.55zM276.74 630.22h2.55v2.02h-2.55zM299.23 630.22h2.55v2.02h-2.55zM309.23 630.22h5.05v2.02h-5.05zM329.23 630.22h2.55v2.02h-2.55zM109.28 632.19h2.55v2.02h-2.55zM126.78 632.19h2.55v2.02h-2.55zM166.77 632.19h2.55v2.02h-2.55zM174.27 632.19h7.55v2.02h-7.55zM196.76 632.19h7.55v2.02h-7.55zM234.25 632.19h2.55v2.02h-2.55zM241.75 632.19h17.55v2.02h-17.55zM366.72 632.19h2.55v2.02h-2.55zM381.71 632.19h2.55v2.02h-2.55zM386.71 632.19h5.05v2.02h-5.05zM74.29 634.16h7.55v2.02h-7.55zM99.29 634.16h2.55v2.02h-2.55zM124.28 634.16h2.55v2.02h-2.55zM131.78 634.16h2.55v2.02h-2.55zM141.78 634.16h5.05v2.02h-5.05zM151.77 634.16h2.55v2.02h-2.55zM189.26 634.16h2.55v2.02h-2.55zM194.26 634.16h2.55v2.02h-2.55zM204.26 634.16h2.55v2.02h-2.55zM246.75 634.16h7.55v2.02h-7.55zM259.24 634.16h2.55v2.02h-2.55zM269.24 634.16h5.05v2.02h-5.05zM331.73 634.16h2.55v2.02h-2.55zM381.71 634.16h7.55v2.02h-7.55zM51.8 636.13h2.55v2.02h-2.55zM94.29 636.13h2.55v2.02h-2.55zM126.78 636.13h2.55v2.02h-2.55zM159.27 636.13h2.55v2.02h-2.55zM184.26 636.13h2.55v2.02h-2.55zM191.76 636.13h2.55v2.02h-2.55zM196.76 636.13h12.55v2.02h-12.55zM226.75 636.13h5.05v2.02h-5.05zM336.72 636.13h2.55v2.02h-2.55zM351.72 636.13h2.55v2.02h-2.55zM399.21 636.13h5.05v2.02h-5.05zM49.3 642.05h2.55v2.02h-2.55zM96.79 642.05h2.55v2.02h-2.55zM121.78 642.05h5.05v2.02h-5.05zM149.27 642.05h5.05v2.02h-5.05zM279.24 642.05h2.55v2.02h-2.55zM284.24 642.05h2.55v2.02h-2.55zM291.74 642.05h2.55v2.02h-2.55zM296.73 642.05h2.55v2.02h-2.55zM336.72 642.05h7.55v2.02h-7.55zM361.72 642.05h5.05v2.02h-5.05zM379.21 642.05h5.05v2.02h-5.05zM386.71 642.05h2.55v2.02h-2.55zM414.2 642.05h2.55v2.02h-2.55zM424.2 642.05h5.05v2.02h-5.05zM61.8 644.02h2.55v2.02h-2.55zM104.29 644.02h2.55v2.02h-2.55zM159.27 644.02h2.55v2.02h-2.55zM231.75 644.02h2.55v2.02h-2.55zM249.25 644.02h2.55v2.02h-2.55zM261.74 644.02h2.55v2.02h-2.55zM309.23 644.02h2.55v2.02h-2.55zM399.21 644.02h2.55v2.02h-2.55zM64.3 645.99h2.55v2.02h-2.55zM86.79 645.99h5.05v2.02h-5.05zM171.77 645.99h5.05v2.02h-5.05zM249.25 645.99h2.55v2.02h-2.55zM291.74 645.99h2.55v2.02h-2.55zM366.72 645.99h5.05v2.02h-5.05zM421.7 645.99h2.55v2.02h-2.55zM426.7 645.99h2.55v2.02h-2.55zM69.29 647.97h5.05v2.02h-5.05zM94.29 647.97h2.55v2.02h-2.55zM131.78 647.97h2.55v2.02h-2.55zM136.78 647.97h5.05v2.02h-5.05zM144.27 647.97h2.55v2.02h-2.55zM176.77 647.97h5.05v2.02h-5.05zM201.76 647.97h5.05v2.02h-5.05zM239.25 647.97h2.55v2.02h-2.55zM261.74 647.97h5.05v2.02h-5.05zM329.23 647.97h2.55v2.02h-2.55zM334.22 647.97h2.55v2.02h-2.55zM349.22 647.97h2.55v2.02h-2.55zM354.22 647.97h2.55v2.02h-2.55zM389.21 647.97h2.55v2.02h-2.55zM396.71 647.97h2.55v2.02h-2.55zM74.29 649.94h2.55v2.02h-2.55zM141.78 649.94h2.55v2.02h-2.55zM161.77 649.94h2.55v2.02h-2.55zM179.27 649.94h2.55v2.02h-2.55zM184.26 649.94h2.55v2.02h-2.55zM206.76 649.94h2.55v2.02h-2.55zM211.76 649.94h2.55v2.02h-2.55zM231.75 649.94h5.05v2.02h-5.05zM256.75 649.94h2.55v2.02h-2.55zM346.72 649.94h2.55v2.02h-2.55zM379.21 649.94h2.55v2.02h-2.55zM384.21 649.94h2.55v2.02h-2.55zM421.7 649.94h2.55v2.02h-2.55zM61.8 651.91h2.55v2.02h-2.55zM109.28 651.91h5.05v2.02h-5.05zM184.26 651.91h2.55v2.02h-2.55zM246.75 651.91h2.55v2.02h-2.55zM351.72 651.91h2.55v2.02h-2.55zM369.22 651.91h12.55v2.02h-12.55zM186.76 653.88h2.55v2.02h-2.55zM191.76 653.88h2.55v2.02h-2.55zM246.75 653.88h2.55v2.02h-2.55zM286.74 653.88h2.55v2.02h-2.55zM114.28 655.86h2.55v2.02h-2.55zM194.26 655.86h2.55v2.02h-2.55zM259.24 655.86h2.55v2.02h-2.55zM294.24 655.86h5.05v2.02h-5.05zM309.23 655.86h2.55v2.02h-2.55zM346.72 655.86h2.55v2.02h-2.55zM351.72 655.86h2.55v2.02h-2.55zM366.72 655.86h15.05v2.02h-15.05zM51.8 657.83h2.55v2.02h-2.55zM114.28 657.83h2.55v2.02h-2.55zM124.28 657.83h5.05v2.02h-5.05zM149.27 657.83h5.05v2.02h-5.05zM264.24 657.83h2.55v2.02h-2.55zM419.2 657.83h2.55v2.02h-2.55z"/>
<path fill="#ff9900" d="M124.28 588.8h2.55v2.02h-2.55zM141.78 588.8h2.55v2.02h-2.55zM169.27 588.8h2.55v2.02h-2.55zM199.26 588.8h2.55v2.02h-2.55zM214.26 588.8h2.55v2.02h-2.55zM231.75 588.8h10.05v2.02h-10.05zM269.24 588.8h2.55v2.02h-2.55zM309.23 588.8h5.05v2.02h-5.05zM354.22 588.8h2.55v2.02h-2.55zM166.77 590.77h5.05v2.02h-5.05zM174.27 590.77h5.05v2.02h-5.05zM189.26 590.77h2.55v2.02h-2.55zM209.26 590.77h2.55v2.02h-2.55zM241.75 590.77h5.05v2.02h-5.05zM364.22 590.77h10.05v2.02h-10.05zM414.2 590.77h5.05v2.02h-5.05zM426.7 590.77h2.55v2.02h-2.55zM99.29 592.74h2.55v2.02h-2.55zM104.29 592.74h2.55v2.02h-2.55zM111.78 592.74h2.55v2.02h-2.55zM176.77 592.74h5.05v2.02h-5.05zM206.76 592.74h5.05v2.02h-5.05zM239.25 592.74h2.55v2.02h-2.55zM296.73 592.74h2.55v2.02h-2.55zM306.73 592.74h2.55v2.02h-2.55zM334.22 592.74h5.05v2.02h-5.05zM351.72 592.74h2.55v2.02h-2.55zM384.21 592.74h2.55v2.02h-2.55zM399.21 592.74h2.55v2.02h-2.55zM404.21 592.74h2.55v2.02h-2.55zM64.3 594.72h2.55v2.02h-2.55zM109.28 594.72h2.55v2.02h-2.55zM156.77 594.72h2.55v2.02h-2.55zM164.27 594.72h2.55v2.02h-2.55zM174.27 594.72h5.05v2.02h-5.05zM221.75 594.72h5.05v2.02h-5.05zM284.24 594.72h2.55v2.02h-2.55zM294.24 594.72h2.55v2.02h-2.55zM374.21 594.72h2.55v2.02h-2.55zM394.21 594.72h2.55v2.02h-2.55zM249.25 596.69h5.05v2.02h-5.05zM296.73 600.63h2.55v2.02h-2.55zM251.75 604.58h2.55v2.02h-2.55zM251.75 606.55h2.55v2.02h-2.55zM319.23 608.52h2.55v2.02h-2.55zM324.23 612.47h2.55v2.02h-2.55zM191.76 614.44h2.55v2.02h-2.55zM199.26 614.44h2.55v2.02h-2.55zM251.75 614.44h2.55v2.02h-2.55zM316.73 614.44h2.55v2.02h-2.55zM324.23 614.44h5.05v2.02h-5.05zM394.21 614.44h2.55v2.02h-2.55zM71.79 616.41h5.05v2.02h-5.05zM151.77 616.41h5.05v2.02h-5.05zM304.23 616.41h2.55v2.02h-2.55zM326.73 616.41h2.55v2.02h-2.55zM424.2 616.41h2.55v2.02h-2.55zM96.79 618.38h2.55v2.02h-2.55zM136.78 618.38h2.55v2.02h-2.55zM146.77 618.38h2.55v2.02h-2.55zM214.26 618.38h2.55v2.02h-2.55zM276.74 618.38h2.55v2.02h-2.55zM336.72 618.38h2.55v2.02h-2.55zM381.71 618.38h2.55v2.02h-2.55zM59.3 620.36h2.55v2.02h-2.55zM146.77 620.36h2.55v2.02h-2.55zM159.27 620.36h5.05v2.02h-5.05zM181.77 620.36h2.55v2.02h-2.55zM196.76 620.36h2.55v2.02h-2.55zM209.26 620.36h2.55v2.02h-2.55zM219.26 620.36h2.55v2.02h-2.55zM244.25 620.36h2.55v2.02h-2.55zM369.22 620.36h2.55v2.02h-2.55zM419.2 620.36h2.55v2.02h-2.55zM424.2 620.36h5.05v2.02h-5.05zM61.8 622.33h2.55v2.02h-2.55zM99.29 622.33h2.55v2.02h-2.55zM126.78 622.33h2.55v2.02h-2.55zM144.27 622.33h2.55v2.02h-2.55zM149.27 622.33h2.55v2.02h-2.55zM154.27 622.33h2.55v2.02h-2.55zM164.27 622.33h2.55v2.02h-2.55zM286.74 622.33h2.55v2.02h-2.55zM364.22 622.33h2.55v2.02h-2.55zM374.21 622.33h2.55v2.02h-2.55zM66.8 624.3h5.05v2.02h-5.05zM74.29 624.3h5.05v2.02h-5.05zM154.27 624.3h2.55v2.02h-2.55zM181.77 624.3h2.55v2.02h-2.55zM231.75 624.3h2.55v2.02h-2.55zM246.75 624.3h5.05v2.02h-5.05zM414.2 624.3h5.05v2.02h-5.05zM61.8 626.27h5.05v2.02h-5.05zM71.79 626.27h2.55v2.02h-2.55zM76.79 626.27h2.55v2.02h-2.55zM149.27 626.27h2.55v2.02h-2.55zM184.26 626.27h2.55v2.02h-2.55zM209.26 626.27h2.55v2.02h-2.55zM229.25 626.27h2.55v2.02h-2.55zM251.75 626.27h2.55v2.02h-2.55zM291.74 626.27h2.55v2.02h-2.55zM389.21 626.27h2.55v2.02h-2.55zM409.21 626.27h2.55v2.02h-2.55zM316.73 628.24h2.55v2.02h-2.55zM236.75 634.16h2.55v2.02h-2.55zM301.73 634.16h2.55v2.02h-2.55zM314.23 634.16h2.55v2.02h-2.55zM164.27 636.13h5.05v2.02h-5.05zM244.25 636.13h2.55v2.02h-2.55zM326.73 636.13h2.55v2.02h-2.55zM331.73 636.13h2.55v2.02h-2.55zM389.21 636.13h2.55v2.02h-2.55zM59.3 638.11h2.55v2.02h-2.55zM64.3 638.11h2.55v2.02h-2.55zM71.79 638.11h5.05v2.02h-5.05zM109.28 638.11h2.55v2.02h-2.55zM126.78 638.11h2.55v2.02h-2.55zM191.76 638.11h2.55v2.02h-2.55zM241.75 638.11h2.55v2.02h-2.55zM311.73 638.11h2.55v2.02h-2.55zM379.21 638.11h2.55v2.02h-2.55zM61.8 640.08h2.55v2.02h-2.55zM69.29 640.08h2.55v2.02h-2.55zM81.79 640.08h2.55v2.02h-2.55zM111.78 640.08h2.55v2.02h-2.55zM121.78 640.08h5.05v2.02h-5.05zM161.77 640.08h2.55v2.02h-2.55zM174.27 640.08h2.55v2.02h-2.55zM259.24 640.08h2.55v2.02h-2.55zM266.74 640.08h2.55v2.02h-2.55zM386.71 640.08h2.55v2.02h-2.55zM424.2 640.08h2.55v2.02h-2.55zM316.73 642.05h2.55v2.02h-2.55zM319.23 644.02h5.05v2.02h-5.05zM319.23 645.99h5.05v2.02h-5.05zM146.77 647.97h2.55v2.02h-2.55zM251.75 647.97h2.55v2.02h-2.55zM324.23 647.97h2.55v2.02h-2.55zM374.21 647.97h5.05v2.02h-5.05zM124.28 649.94h2.55v2.02h-2.55zM129.28 649.94h2.55v2.02h-2.55zM134.28 649.94h2.55v2.02h-2.55zM191.76 649.94h2.55v2.02h-2.55zM249.25 649.94h2.55v2.02h-2.55zM394.21 649.94h2.55v2.02h-2.55zM324.23 651.91h2.55v2.02h-2.55zM314.23 655.86h2.55v2.02h-2.55zM324.23 655.86h2.55v2.02h-2.55zM256.75 657.83h2.55v2.02h-2.55zM326.73 657.83h2.55v2.02h-2.55zM336.72 657.83h2.55v2.02h-2.55zM344.22 657.83h2.55v2.02h-2.55z"/>
<path fill="#ffffb2" d="M226.75 588.8h2.55v2.02h-2.55zM316.73 588.8h2.55v2.02h-2.55zM321.73 588.8h2.55v2.02h-2.55zM426.7 588.8h2.55v2.02h-2.55zM79.29 590.77h2.55v2.02h-2.55zM316.73 612.47h2.55v2.02h-2.55zM386.71 620.36h2.55v2.02h-2.55zM406.71 624.3h2.55v2.02h-2.55zM319.23 638.11h2.55v2.02h-2.55z"/>
<path fill="#ffff4c" d="M421.7 588.8h2.55v2.02h-2.55zM156.77 590.77h2.55v2.02h-2.55zM251.75 590.77h2.55v2.02h-2.55zM314.23 590.77h2.55v2.02h-2.55zM324.23 590.77h2.55v2.02h-2.55zM276.74 592.74h2.55v2.02h-2.55zM411.7 592.74h2.55v2.02h-2.55zM251.75 594.72h5.05v2.02h-5.05zM289.24 594.72h2.55v2.02h-2.55zM314.23 594.72h2.55v2.02h-2.55zM386.71 594.72h2.55v2.02h-2.55zM71.79 614.44h2.55v2.02h-2.55zM171.77 618.38h2.55v2.02h-2.55zM309.23 618.38h2.55v2.02h-2.55zM79.29 620.36h2.55v2.02h-2.55zM169.27 620.36h2.55v2.02h-2.55zM406.71 620.36h2.55v2.02h-2.55zM411.7 620.36h2.55v2.02h-2.55zM314.23 622.33h2.55v2.02h-2.55zM321.73 622.33h2.55v2.02h-2.55zM146.77 624.3h2.55v2.02h-2.55zM319.23 624.3h2.55v2.02h-2.55zM74.29 636.13h2.55v2.02h-2.55zM154.27 640.08h2.55v2.02h-2.55zM311.73 640.08h2.55v2.02h-2.55zM324.23 640.08h2.55v2.02h-2.55zM156.77 657.83h2.55v2.02h-2.55zM321.73 657.83h2.55v2.02h-2.55z"/>
<path fill="#cb0000" d="M54.3 590.77h2.55v2.02h-2.55zM119.28 594.72h2.55v2.02h-2.55zM271.74 594.72h2.55v2.02h-2.55zM334.22 594.72h2.55v2.02h-2.55zM349.22 594.72h2.55v2.02h-2.55zM51.8 596.69h2.55v2.02h-2.55zM86.79 596.69h5.05v2.02h-5.05zM119.28 596.69h2.55v2.02h-2.55zM279.24 596.69h2.55v2.02h-2.55zM424.2 596.69h2.55v2.02h-2.55zM51.8 598.66h2.55v2.02h-2.55zM59.3 598.66h2.55v2.02h-2.55zM111.78 598.66h2.55v2.02h-2.55zM209.26 598.66h2.55v2.02h-2.55zM231.75 598.66h2.55v2.02h-2.55zM256.75 598.66h2.55v2.02h-2.55zM354.22 598.66h2.55v2.02h-2.55zM361.72 598.66h2.55v2.02h-2.55zM366.72 598.66h2.55v2.02h-2.55zM396.71 598.66h2.55v2.02h-2.55zM51.8 600.63h2.55v2.02h-2.55zM84.29 600.63h2.55v2.02h-2.55zM91.79 600.63h2.55v2.02h-2.55zM139.28 600.63h2.55v2.02h-2.55zM166.77 600.63h2.55v2.02h-2.55zM184.26 600.63h2.55v2.02h-2.55zM204.26 600.63h2.55v2.02h-2.55zM216.76 600.63h2.55v2.02h-2.55zM279.24 600.63h2.55v2.02h-2.55zM331.73 600.63h2.55v2.02h-2.55zM364.22 600.63h5.05v2.02h-5.05zM396.71 600.63h2.55v2.02h-2.55zM64.3 602.61h2.55v2.02h-2.55zM114.28 602.61h2.55v2.02h-2.55zM216.76 602.61h5.05v2.02h-5.05zM231.75 602.61h2.55v2.02h-2.55zM354.22 602.61h2.55v2.02h-2.55zM424.2 602.61h2.55v2.02h-2.55zM191.76 604.58h2.55v2.02h-2.55zM214.26 604.58h2.55v2.02h-2.55zM244.25 604.58h2.55v2.02h-2.55zM329.23 604.58h2.55v2.02h-2.55zM359.22 604.58h5.05v2.02h-5.05zM399.21 604.58h7.55v2.02h-7.55zM424.2 604.58h5.05v2.02h-5.05zM79.29 606.55h2.55v2.02h-2.55zM84.29 606.55h2.55v2.02h-2.55zM91.79 606.55h2.55v2.02h-2.55zM96.79 606.55h2.55v2.02h-2.55zM134.28 606.55h2.55v2.02h-2.55zM171.77 606.55h2.55v2.02h-2.55zM199.26 606.55h5.05v2.02h-5.05zM284.24 606.55h2.55v2.02h-2.55zM294.24 606.55h2.55v2.02h-2.55zM299.23 606.55h2.55v2.02h-2.55zM376.71 606.55h2.55v2.02h-2.55zM384.21 606.55h2.55v2.02h-2.55zM391.71 606.55h2.55v2.02h-2.55zM404.21 606.55h2.55v2.02h-2.55zM76.79 608.52h2.55v2.02h-2.55zM109.28 608.52h2.55v2.02h-2.55zM174.27 608.52h2.55v2.02h-2.55zM194.26 608.52h2.55v2.02h-2.55zM284.24 608.52h2.55v2.02h-2.55zM291.74 608.52h2.55v2.02h-2.55zM374.21 608.52h2.55v2.02h-2.55zM49.3 610.49h2.55v2.02h-2.55zM76.79 610.49h2.55v2.02h-2.55zM86.79 610.49h2.55v2.02h-2.55zM91.79 610.49h2.55v2.02h-2.55zM99.29 610.49h2.55v2.02h-2.55zM126.78 610.49h2.55v2.02h-2.55zM144.27 610.49h2.55v2.02h-2.55zM164.27 610.49h2.55v2.02h-2.55zM169.27 610.49h5.05v2.02h-5.05zM176.77 610.49h2.55v2.02h-2.55zM189.26 610.49h2.55v2.02h-2.55zM304.23 610.49h2.55v2.02h-2.55zM371.72 610.49h5.05v2.02h-5.05zM379.21 610.49h2.55v2.02h-2.55zM396.71 610.49h2.55v2.02h-2.55zM69.29 612.47h2.55v2.02h-2.55zM104.29 612.47h7.55v2.02h-7.55zM121.78 612.47h2.55v2.02h-2.55zM334.22 612.47h5.05v2.02h-5.05zM81.79 628.24h7.55v2.02h-7.55zM169.27 628.24h2.55v2.02h-2.55zM176.77 628.24h2.55v2.02h-2.55zM181.77 628.24h2.55v2.02h-2.55zM271.74 628.24h2.55v2.02h-2.55zM421.7 628.24h5.05v2.02h-5.05zM49.3 630.22h5.05v2.02h-5.05zM94.29 630.22h2.55v2.02h-2.55zM99.29 630.22h7.55v2.02h-7.55zM121.78 630.22h2.55v2.02h-2.55zM171.77 630.22h2.55v2.02h-2.55zM256.75 630.22h2.55v2.02h-2.55zM294.24 630.22h2.55v2.02h-2.55zM336.72 630.22h2.55v2.02h-2.55zM386.71 630.22h15.05v2.02h-15.05zM64.3 632.19h5.05v2.02h-5.05zM71.79 632.19h2.55v2.02h-2.55zM99.29 632.19h2.55v2.02h-2.55zM146.77 632.19h2.55v2.02h-2.55zM156.77 632.19h2.55v2.02h-2.55zM261.74 632.19h2.55v2.02h-2.55zM266.74 632.19h2.55v2.02h-2.55zM301.73 632.19h7.55v2.02h-7.55zM406.71 632.19h2.55v2.02h-2.55zM416.7 632.19h2.55v2.02h-2.55zM424.2 632.19h5.05v2.02h-5.05zM94.29 634.16h5.05v2.02h-5.05zM176.77 634.16h2.55v2.02h-2.55zM354.22 634.16h2.55v2.02h-2.55zM404.21 634.16h2.55v2.02h-2.55zM414.2 634.16h2.55v2.02h-2.55zM56.8 636.13h2.55v2.02h-2.55zM341.72 636.13h2.55v2.02h-2.55zM346.72 636.13h2.55v2.02h-2.55zM406.71 636.13h2.55v2.02h-2.55zM411.7 636.13h2.55v2.02h-2.55zM101.79 642.05h2.55v2.02h-2.55zM141.78 642.05h2.55v2.02h-2.55zM159.27 642.05h2.55v2.02h-2.55zM181.77 642.05h7.55v2.02h-7.55zM351.72 642.05h2.55v2.02h-2.55zM51.8 644.02h2.55v2.02h-2.55zM66.8 644.02h2.55v2.02h-2.55zM109.28 644.02h2.55v2.02h-2.55zM171.77 644.02h7.55v2.02h-7.55zM244.25 644.02h2.55v2.02h-2.55zM284.24 644.02h2.55v2.02h-2.55zM296.73 644.02h2.55v2.02h-2.55zM301.73 644.02h2.55v2.02h-2.55zM339.22 644.02h5.05v2.02h-5.05zM351.72 644.02h5.05v2.02h-5.05zM366.72 644.02h10.05v2.02h-10.05zM379.21 644.02h2.55v2.02h-2.55zM421.7 644.02h2.55v2.02h-2.55zM59.3 645.99h2.55v2.02h-2.55zM146.77 645.99h2.55v2.02h-2.55zM159.27 645.99h2.55v2.02h-2.55zM194.26 645.99h2.55v2.02h-2.55zM211.76 645.99h2.55v2.02h-2.55zM221.75 645.99h2.55v2.02h-2.55zM229.25 645.99h2.55v2.02h-2.55zM234.25 645.99h7.55v2.02h-7.55zM254.25 645.99h2.55v2.02h-2.55zM329.23 645.99h2.55v2.02h-2.55zM364.22 645.99h2.55v2.02h-2.55zM386.71 645.99h2.55v2.02h-2.55zM119.28 647.97h2.55v2.02h-2.55zM234.25 647.97h2.55v2.02h-2.55zM266.74 647.97h2.55v2.02h-2.55zM404.21 647.97h2.55v2.02h-2.55zM424.2 647.97h2.55v2.02h-2.55zM216.76 649.94h5.05v2.02h-5.05zM271.74 649.94h2.55v2.02h-2.55zM404.21 649.94h2.55v2.02h-2.55zM414.2 649.94h2.55v2.02h-2.55zM76.79 651.91h2.55v2.02h-2.55zM99.29 651.91h2.55v2.02h-2.55zM106.78 651.91h2.55v2.02h-2.55zM121.78 651.91h2.55v2.02h-2.55zM126.78 651.91h5.05v2.02h-5.05zM174.27 651.91h2.55v2.02h-2.55zM201.76 651.91h2.55v2.02h-2.55zM209.26 651.91h2.55v2.02h-2.55zM224.25 651.91h5.05v2.02h-5.05zM281.74 651.91h5.05v2.02h-5.05zM289.24 651.91h2.55v2.02h-2.55zM309.23 651.91h2.55v2.02h-2.55zM331.73 651.91h2.55v2.02h-2.55zM344.22 651.91h2.55v2.02h-2.55zM356.72 651.91h2.55v2.02h-2.55zM386.71 651.91h2.55v2.02h-2.55zM391.71 651.91h2.55v2.02h-2.55zM401.71 651.91h2.55v2.02h-2.55zM51.8 653.88h2.55v2.02h-2.55zM64.3 653.88h2.55v2.02h-2.55zM69.29 653.88h5.05v2.02h-5.05zM89.29 653.88h2.55v2.02h-2.55zM99.29 653.88h2.55v2.02h-2.55zM111.78 653.88h2.55v2.02h-2.55zM121.78 653.88h2.55v2.02h-2.55zM139.28 653.88h2.55v2.02h-2.55zM151.77 653.88h2.55v2.02h-2.55zM159.27 653.88h2.55v2.02h-2.55zM169.27 653.88h2.55v2.02h-2.55zM296.73 653.88h7.55v2.02h-7.55zM329.23 653.88h7.55v2.02h-7.55zM356.72 653.88h2.55v2.02h-2.55zM84.29 655.86h2.55v2.02h-2.55zM91.79 655.86h2.55v2.02h-2.55zM99.29 655.86h2.55v2.02h-2.55zM121.78 655.86h2.55v2.02h-2.55zM179.27 655.86h5.05v2.02h-5.05zM186.76 655.86h2.55v2.02h-2.55zM231.75 655.86h2.55v2.02h-2.55zM334.22 655.86h2.55v2.02h-2.55zM339.22 655.86h2.55v2.02h-2.55zM394.21 655.86h2.55v2.02h-2.55zM424.2 655.86h2.55v2.02h-2.55zM56.8 657.83h2.55v2.02h-2.55zM231.75 657.83h2.55v2.02h-2.55zM271.74 657.83h2.55v2.02h-2.55z"/>
<path fill="#ff5500" d="M56.8 590.77h2.55v2.02h-2.55zM116.78 590.77h2.55v2.02h-2.55zM56.8 592.74h2.55v2.02h-2.55zM344.22 592.74h2.55v2.02h-2.55zM149.27 594.72h2.55v2.02h-2.55zM186.76 594.72h2.55v2.02h-2.55zM204.26 594.72h2.55v2.02h-2.55zM279.24 594.72h2.55v2.02h-2.55zM326.73 594.72h2.55v2.02h-2.55zM359.22 594.72h5.05v2.02h-5.05zM411.7 594.72h2.55v2.02h-2.55zM71.79 596.69h2.55v2.02h-2.55zM311.73 596.69h2.55v2.02h-2.55zM391.71 596.69h5.05v2.02h-5.05zM124.28 598.66h2.55v2.02h-2.55zM129.28 598.66h2.55v2.02h-2.55zM254.25 600.63h2.55v2.02h-2.55zM311.73 600.63h2.55v2.02h-2.55zM171.77 602.61h2.55v2.02h-2.55zM241.75 602.61h2.55v2.02h-2.55zM246.75 602.61h2.55v2.02h-2.55zM294.24 602.61h2.55v2.02h-2.55zM311.73 602.61h2.55v2.02h-2.55zM376.71 602.61h2.55v2.02h-2.55zM249.25 604.58h2.55v2.02h-2.55zM324.23 606.55h2.55v2.02h-2.55zM251.75 608.52h2.55v2.02h-2.55zM316.73 608.52h2.55v2.02h-2.55zM86.79 612.47h2.55v2.02h-2.55zM151.77 612.47h7.55v2.02h-7.55zM184.26 612.47h2.55v2.02h-2.55zM251.75 612.47h2.55v2.02h-2.55zM309.23 612.47h2.55v2.02h-2.55zM359.22 612.47h2.55v2.02h-2.55zM384.21 612.47h2.55v2.02h-2.55zM401.71 612.47h2.55v2.02h-2.55zM411.7 612.47h2.55v2.02h-2.55zM89.29 614.44h5.05v2.02h-5.05zM139.28 614.44h5.05v2.02h-5.05zM156.77 614.44h2.55v2.02h-2.55zM166.77 614.44h2.55v2.02h-2.55zM179.27 614.44h2.55v2.02h-2.55zM204.26 614.44h10.05v2.02h-10.05zM216.76 614.44h2.55v2.02h-2.55zM254.25 614.44h2.55v2.02h-2.55zM331.73 614.44h2.55v2.02h-2.55zM336.72 614.44h5.05v2.02h-5.05zM346.72 614.44h2.55v2.02h-2.55zM379.21 614.44h2.55v2.02h-2.55zM416.7 614.44h2.55v2.02h-2.55zM96.79 616.41h5.05v2.02h-5.05zM106.78 616.41h2.55v2.02h-2.55zM141.78 616.41h2.55v2.02h-2.55zM216.76 616.41h2.55v2.02h-2.55zM229.25 616.41h2.55v2.02h-2.55zM286.74 616.41h7.55v2.02h-7.55zM311.73 616.41h2.55v2.02h-2.55zM329.23 616.41h2.55v2.02h-2.55zM99.29 618.38h2.55v2.02h-2.55zM114.28 618.38h2.55v2.02h-2.55zM196.76 618.38h2.55v2.02h-2.55zM266.74 618.38h2.55v2.02h-2.55zM289.24 618.38h2.55v2.02h-2.55zM299.23 618.38h2.55v2.02h-2.55zM329.23 618.38h2.55v2.02h-2.55zM344.22 618.38h2.55v2.02h-2.55zM376.71 618.38h2.55v2.02h-2.55zM424.2 618.38h5.05v2.02h-5.05zM114.28 620.36h2.55v2.02h-2.55zM124.28 620.36h2.55v2.02h-2.55zM174.27 620.36h2.55v2.02h-2.55zM199.26 620.36h2.55v2.02h-2.55zM224.25 620.36h5.05v2.02h-5.05zM239.25 620.36h2.55v2.02h-2.55zM246.75 620.36h2.55v2.02h-2.55zM266.74 620.36h2.55v2.02h-2.55zM276.74 620.36h7.55v2.02h-7.55zM289.24 620.36h2.55v2.02h-2.55zM301.73 620.36h7.55v2.02h-7.55zM336.72 620.36h2.55v2.02h-2.55zM374.21 620.36h2.55v2.02h-2.55zM86.79 622.33h2.55v2.02h-2.55zM94.29 622.33h2.55v2.02h-2.55zM129.28 622.33h2.55v2.02h-2.55zM159.27 622.33h2.55v2.02h-2.55zM196.76 622.33h5.05v2.02h-5.05zM216.76 622.33h2.55v2.02h-2.55zM224.25 622.33h2.55v2.02h-2.55zM251.75 622.33h7.55v2.02h-7.55zM276.74 622.33h2.55v2.02h-2.55zM294.24 622.33h2.55v2.02h-2.55zM306.73 622.33h2.55v2.02h-2.55zM331.73 622.33h5.05v2.02h-5.05zM426.7 622.33h2.55v2.02h-2.55zM99.29 624.3h2.55v2.02h-2.55zM164.27 624.3h2.55v2.02h-2.55zM189.26 624.3h7.55v2.02h-7.55zM206.76 624.3h2.55v2.02h-2.55zM211.76 624.3h2.55v2.02h-2.55zM234.25 624.3h2.55v2.02h-2.55zM254.25 624.3h5.05v2.02h-5.05zM264.24 624.3h2.55v2.02h-2.55zM274.24 624.3h2.55v2.02h-2.55zM296.73 624.3h2.55v2.02h-2.55zM361.72 624.3h5.05v2.02h-5.05zM371.72 624.3h2.55v2.02h-2.55zM384.21 624.3h2.55v2.02h-2.55zM86.79 626.27h5.05v2.02h-5.05zM99.29 626.27h5.05v2.02h-5.05zM121.78 626.27h2.55v2.02h-2.55zM131.78 626.27h2.55v2.02h-2.55zM139.28 626.27h2.55v2.02h-2.55zM151.77 626.27h2.55v2.02h-2.55zM159.27 626.27h10.05v2.02h-10.05zM171.77 626.27h2.55v2.02h-2.55zM221.75 626.27h2.55v2.02h-2.55zM261.74 626.27h2.55v2.02h-2.55zM266.74 626.27h5.05v2.02h-5.05zM276.74 626.27h5.05v2.02h-5.05zM309.23 626.27h5.05v2.02h-5.05zM364.22 626.27h2.55v2.02h-2.55zM386.71 626.27h2.55v2.02h-2.55zM411.7 626.27h2.55v2.02h-2.55zM316.73 630.22h2.55v2.02h-2.55zM324.23 630.22h2.55v2.02h-2.55zM224.25 632.19h2.55v2.02h-2.55zM106.78 634.16h2.55v2.02h-2.55zM239.25 634.16h2.55v2.02h-2.55zM361.72 634.16h2.55v2.02h-2.55zM64.3 636.13h7.55v2.02h-7.55zM101.79 636.13h2.55v2.02h-2.55zM121.78 636.13h2.55v2.02h-2.55zM141.78 636.13h5.05v2.02h-5.05zM174.27 636.13h2.55v2.02h-2.55zM271.74 636.13h17.55v2.02h-17.55zM391.71 636.13h2.55v2.02h-2.55zM84.29 638.11h2.55v2.02h-2.55zM91.79 638.11h2.55v2.02h-2.55zM134.28 638.11h2.55v2.02h-2.55zM156.77 638.11h2.55v2.02h-2.55zM171.77 638.11h5.05v2.02h-5.05zM199.26 638.11h10.05v2.02h-10.05zM249.25 638.11h2.55v2.02h-2.55zM279.24 638.11h5.05v2.02h-5.05zM286.74 638.11h7.55v2.02h-7.55zM301.73 638.11h2.55v2.02h-2.55zM306.73 638.11h2.55v2.02h-2.55zM331.73 638.11h5.05v2.02h-5.05zM59.3 640.08h2.55v2.02h-2.55zM86.79 640.08h2.55v2.02h-2.55zM221.75 640.08h5.05v2.02h-5.05zM236.75 640.08h5.05v2.02h-5.05zM244.25 640.08h5.05v2.02h-5.05zM284.24 640.08h2.55v2.02h-2.55zM341.72 640.08h2.55v2.02h-2.55zM346.72 640.08h2.55v2.02h-2.55zM364.22 640.08h2.55v2.02h-2.55zM381.71 640.08h5.05v2.02h-5.05zM416.7 640.08h2.55v2.02h-2.55zM404.21 642.05h2.55v2.02h-2.55zM316.73 645.99h2.55v2.02h-2.55zM81.79 647.97h2.55v2.02h-2.55zM86.79 647.97h5.05v2.02h-5.05zM159.27 647.97h2.55v2.02h-2.55zM194.26 647.97h2.55v2.02h-2.55zM304.23 647.97h2.55v2.02h-2.55zM314.23 647.97h2.55v2.02h-2.55zM359.22 647.97h5.05v2.02h-5.05zM379.21 647.97h2.55v2.02h-2.55zM49.3 649.94h2.55v2.02h-2.55zM81.79 649.94h2.55v2.02h-2.55zM86.79 649.94h2.55v2.02h-2.55zM106.78 649.94h2.55v2.02h-2.55zM196.76 649.94h2.55v2.02h-2.55zM241.75 649.94h2.55v2.02h-2.55zM246.75 649.94h2.55v2.02h-2.55zM349.22 649.94h2.55v2.02h-2.55zM361.72 649.94h2.55v2.02h-2.55zM389.21 649.94h5.05v2.02h-5.05zM249.25 651.91h5.05v2.02h-5.05zM109.28 655.86h5.05v2.02h-5.05zM254.25 655.86h2.55v2.02h-2.55zM311.73 655.86h2.55v2.02h-2.55zM76.79 657.83h5.05v2.02h-5.05zM101.79 657.83h2.55v2.02h-2.55zM134.28 657.83h5.05v2.02h-5.05zM169.27 657.83h2.55v2.02h-2.55zM204.26 657.83h2.55v2.02h-2.55zM209.26 657.83h2.55v2.02h-2.55zM246.75 657.83h2.55v2.02h-2.55zM279.24 657.83h2.55v2.02h-2.55zM284.24 657.83h2.55v2.02h-2.55zM299.23 657.83h7.55v2.02h-7.55zM331.73 657.83h2.55v2.02h-2.55zM351.72 657.83h5.05v2.02h-5.05zM396.71 657.83h2.55v2.02h-2.55zM414.2 657.83h2.55v2.02h-2.55z"/>
<path fill="#ff7700" d="M211.76 590.77h2.55v2.02h-2.55zM224.25 590.77h2.55v2.02h-2.55zM51.8 592.74h2.55v2.02h-2.55zM114.28 592.74h2.55v2.02h-2.55zM134.28 592.74h5.05v2.02h-5.05zM151.77 592.74h2.55v2.02h-2.55zM161.77 592.74h2.55v2.02h-2.55zM184.26 592.74h12.55v2.02h-12.55zM211.76 592.74h2.55v2.02h-2.55zM256.75 592.74h2.55v2.02h-2.55zM264.24 592.74h5.05v2.02h-5.05zM304.23 592.74h2.55v2.02h-2.55zM346.72 592.74h2.55v2.02h-2.55zM401.71 592.74h2.55v2.02h-2.55zM59.3 594.72h2.55v2.02h-2.55zM151.77 594.72h2.55v2.02h-2.55zM161.77 594.72h2.55v2.02h-2.55zM189.26 594.72h5.05v2.02h-5.05zM199.26 594.72h5.05v2.02h-5.05zM216.76 594.72h2.55v2.02h-2.55zM229.25 594.72h2.55v2.02h-2.55zM236.75 594.72h2.55v2.02h-2.55zM246.75 594.72h2.55v2.02h-2.55zM281.74 594.72h2.55v2.02h-2.55zM301.73 594.72h5.05v2.02h-5.05zM406.71 594.72h2.55v2.02h-2.55zM249.25 600.63h2.55v2.02h-2.55zM314.23 600.63h2.55v2.02h-2.55zM249.25 602.61h2.55v2.02h-2.55zM314.23 602.61h2.55v2.02h-2.55zM321.73 610.49h2.55v2.02h-2.55zM404.21 612.47h7.55v2.02h-7.55zM131.78 614.44h2.55v2.02h-2.55zM136.78 614.44h2.55v2.02h-2.55zM159.27 614.44h5.05v2.02h-5.05zM174.27 614.44h2.55v2.02h-2.55zM201.76 614.44h2.55v2.02h-2.55zM219.26 614.44h2.55v2.02h-2.55zM231.75 614.44h2.55v2.02h-2.55zM329.23 614.44h2.55v2.02h-2.55zM386.71 614.44h2.55v2.02h-2.55zM81.79 616.41h2.55v2.02h-2.55zM111.78 616.41h2.55v2.02h-2.55zM121.78 616.41h2.55v2.02h-2.55zM174.27 616.41h2.55v2.02h-2.55zM214.26 616.41h2.55v2.02h-2.55zM219.26 616.41h2.55v2.02h-2.55zM224.25 616.41h2.55v2.02h-2.55zM274.24 616.41h2.55v2.02h-2.55zM306.73 616.41h2.55v2.02h-2.55zM111.78 618.38h2.55v2.02h-2.55zM141.78 618.38h5.05v2.02h-5.05zM199.26 618.38h7.55v2.02h-7.55zM231.75 618.38h2.55v2.02h-2.55zM249.25 618.38h2.55v2.02h-2.55zM271.74 618.38h2.55v2.02h-2.55zM286.74 618.38h2.55v2.02h-2.55zM326.73 618.38h2.55v2.02h-2.55zM334.22 618.38h2.55v2.02h-2.55zM371.72 618.38h2.55v2.02h-2.55zM94.29 620.36h5.05v2.02h-5.05zM101.79 620.36h5.05v2.02h-5.05zM131.78 620.36h5.05v2.02h-5.05zM139.28 620.36h7.55v2.02h-7.55zM314.23 620.36h2.55v2.02h-2.55zM331.73 620.36h2.55v2.02h-2.55zM371.72 620.36h2.55v2.02h-2.55zM79.29 622.33h2.55v2.02h-2.55zM106.78 622.33h2.55v2.02h-2.55zM124.28 622.33h2.55v2.02h-2.55zM156.77 622.33h2.55v2.02h-2.55zM186.76 622.33h2.55v2.02h-2.55zM204.26 622.33h2.55v2.02h-2.55zM211.76 622.33h2.55v2.02h-2.55zM229.25 622.33h2.55v2.02h-2.55zM309.23 622.33h2.55v2.02h-2.55zM336.72 622.33h2.55v2.02h-2.55zM366.72 622.33h5.05v2.02h-5.05zM421.7 622.33h5.05v2.02h-5.05zM59.3 624.3h2.55v2.02h-2.55zM84.29 624.3h5.05v2.02h-5.05zM101.79 624.3h5.05v2.02h-5.05zM111.78 624.3h5.05v2.02h-5.05zM131.78 624.3h2.55v2.02h-2.55zM184.26 624.3h5.05v2.02h-5.05zM226.75 624.3h2.55v2.02h-2.55zM266.74 624.3h2.55v2.02h-2.55zM314.23 624.3h2.55v2.02h-2.55zM389.21 624.3h2.55v2.02h-2.55zM81.79 626.27h2.55v2.02h-2.55zM96.79 626.27h2.55v2.02h-2.55zM109.28 626.27h2.55v2.02h-2.55zM124.28 626.27h5.05v2.02h-5.05zM174.27 626.27h5.05v2.02h-5.05zM186.76 626.27h2.55v2.02h-2.55zM191.76 626.27h2.55v2.02h-2.55zM284.24 626.27h2.55v2.02h-2.55zM294.24 626.27h2.55v2.02h-2.55zM201.76 630.22h2.55v2.02h-2.55zM319.23 630.22h2.55v2.02h-2.55zM324.23 632.19h2.55v2.02h-2.55zM104.29 634.16h2.55v2.02h-2.55zM291.74 634.16h2.55v2.02h-2.55zM329.23 634.16h2.55v2.02h-2.55zM364.22 634.16h5.05v2.02h-5.05zM236.75 636.13h2.55v2.02h-2.55zM269.24 636.13h2.55v2.02h-2.55zM366.72 636.13h2.55v2.02h-2.55zM66.8 638.11h2.55v2.02h-2.55zM76.79 638.11h2.55v2.02h-2.55zM99.29 638.11h5.05v2.02h-5.05zM129.28 638.11h2.55v2.02h-2.55zM139.28 638.11h2.55v2.02h-2.55zM144.27 638.11h5.05v2.02h-5.05zM179.27 638.11h2.55v2.02h-2.55zM194.26 638.11h2.55v2.02h-2.55zM211.76 638.11h2.55v2.02h-2.55zM216.76 638.11h2.55v2.02h-2.55zM259.24 638.11h2.55v2.02h-2.55zM309.23 638.11h2.55v2.02h-2.55zM361.72 638.11h2.55v2.02h-2.55zM371.72 638.11h2.55v2.02h-2.55zM411.7 638.11h2.55v2.02h-2.55zM71.79 640.08h5.05v2.02h-5.05zM84.29 640.08h2.55v2.02h-2.55zM114.28 640.08h2.55v2.02h-2.55zM181.77 640.08h2.55v2.02h-2.55zM196.76 640.08h5.05v2.02h-5.05zM204.26 640.08h2.55v2.02h-2.55zM229.25 640.08h2.55v2.02h-2.55zM234.25 640.08h2.55v2.02h-2.55zM251.75 640.08h2.55v2.02h-2.55zM264.24 640.08h2.55v2.02h-2.55zM276.74 640.08h5.05v2.02h-5.05zM301.73 640.08h2.55v2.02h-2.55zM351.72 640.08h7.55v2.02h-7.55zM414.2 640.08h2.55v2.02h-2.55zM326.73 642.05h2.55v2.02h-2.55zM316.73 644.02h2.55v2.02h-2.55zM79.29 647.97h2.55v2.02h-2.55zM164.27 647.97h2.55v2.02h-2.55zM169.27 647.97h2.55v2.02h-2.55zM249.25 647.97h2.55v2.02h-2.55zM131.78 649.94h2.55v2.02h-2.55zM199.26 649.94h2.55v2.02h-2.55zM204.26 649.94h2.55v2.02h-2.55zM229.25 649.94h2.55v2.02h-2.55zM306.73 649.94h2.55v2.02h-2.55zM314.23 649.94h2.55v2.02h-2.55zM351.72 649.94h2.55v2.02h-2.55zM366.72 649.94h5.05v2.02h-5.05zM86.79 657.83h2.55v2.02h-2.55zM104.29 657.83h2.55v2.02h-2.55zM181.77 657.83h2.55v2.02h-2.55zM186.76 657.83h2.55v2.02h-2.55zM191.76 657.83h2.55v2.02h-2.55zM334.22 657.83h2.55v2.02h-2.55zM346.72 657.83h2.55v2.02h-2.55zM404.21 657.83h2.55v2.02h-2.55z"/>
<path fill="#bb0000" d="M54.3 592.74h2.55v2.02h-2.55zM354.22 596.69h2.55v2.02h-2.55zM409.21 596.69h2.55v2.02h-2.55zM114.28 598.66h2.55v2.02h-2.55zM199.26 598.66h2.55v2.02h-2.55zM204.26 598.66h2.55v2.02h-2.55zM211.76 598.66h2.55v2.02h-2.55zM274.24 598.66h2.55v2.02h-2.55zM329.23 598.66h2.55v2.02h-2.55zM356.72 598.66h5.05v2.02h-5.05zM399.21 598.66h2.55v2.02h-2.55zM426.7 598.66h2.55v2.02h-2.55zM229.25 600.63h2.55v2.02h-2.55zM234.25 600.63h2.55v2.02h-2.55zM266.74 600.63h2.55v2.02h-2.55zM361.72 600.63h2.55v2.02h-2.55zM406.71 600.63h5.05v2.02h-5.05zM421.7 600.63h2.55v2.02h-2.55zM226.75 602.61h5.05v2.02h-5.05zM276.74 602.61h2.55v2.02h-2.55zM401.71 602.61h2.55v2.02h-2.55zM426.7 602.61h2.55v2.02h-2.55zM264.24 604.58h2.55v2.02h-2.55zM284.24 604.58h2.55v2.02h-2.55zM49.3 606.55h2.55v2.02h-2.55zM76.79 606.55h2.55v2.02h-2.55zM81.79 606.55h2.55v2.02h-2.55zM241.75 606.55h2.55v2.02h-2.55zM281.74 606.55h2.55v2.02h-2.55zM339.22 606.55h2.55v2.02h-2.55zM356.72 606.55h5.05v2.02h-5.05zM81.79 608.52h2.55v2.02h-2.55zM111.78 608.52h2.55v2.02h-2.55zM171.77 608.52h2.55v2.02h-2.55zM176.77 608.52h2.55v2.02h-2.55zM259.24 608.52h2.55v2.02h-2.55zM311.73 608.52h2.55v2.02h-2.55zM59.3 610.49h2.55v2.02h-2.55zM81.79 610.49h5.05v2.02h-5.05zM89.29 610.49h2.55v2.02h-2.55zM101.79 610.49h7.55v2.02h-7.55zM121.78 610.49h5.05v2.02h-5.05zM141.78 610.49h2.55v2.02h-2.55zM146.77 610.49h2.55v2.02h-2.55zM174.27 610.49h2.55v2.02h-2.55zM179.27 610.49h5.05v2.02h-5.05zM186.76 610.49h2.55v2.02h-2.55zM194.26 610.49h2.55v2.02h-2.55zM234.25 610.49h2.55v2.02h-2.55zM256.75 610.49h2.55v2.02h-2.55zM301.73 610.49h2.55v2.02h-2.55zM369.22 610.49h2.55v2.02h-2.55zM376.71 610.49h2.55v2.02h-2.55zM391.71 610.49h2.55v2.02h-2.55zM401.71 610.49h2.55v2.02h-2.55zM66.8 612.47h2.55v2.02h-2.55zM114.28 612.47h2.55v2.02h-2.55zM56.8 614.44h2.55v2.02h-2.55zM119.28 622.33h2.55v2.02h-2.55zM119.28 624.3h2.55v2.02h-2.55zM89.29 628.24h2.55v2.02h-2.55zM119.28 628.24h2.55v2.02h-2.55zM171.77 628.24h2.55v2.02h-2.55zM184.26 628.24h2.55v2.02h-2.55zM194.26 628.24h2.55v2.02h-2.55zM261.74 628.24h2.55v2.02h-2.55zM339.22 628.24h2.55v2.02h-2.55zM369.22 628.24h2.55v2.02h-2.55zM399.21 628.24h5.05v2.02h-5.05zM409.21 628.24h2.55v2.02h-2.55zM416.7 628.24h5.05v2.02h-5.05zM96.79 630.22h2.55v2.02h-2.55zM176.77 630.22h2.55v2.02h-2.55zM416.7 630.22h5.05v2.02h-5.05zM424.2 630.22h5.05v2.02h-5.05zM51.8 632.19h2.55v2.02h-2.55zM84.29 632.19h5.05v2.02h-5.05zM91.79 632.19h5.05v2.02h-5.05zM264.24 632.19h2.55v2.02h-2.55zM284.24 632.19h2.55v2.02h-2.55zM336.72 632.19h2.55v2.02h-2.55zM399.21 632.19h2.55v2.02h-2.55zM414.2 632.19h2.55v2.02h-2.55zM56.8 634.16h2.55v2.02h-2.55zM334.22 634.16h2.55v2.02h-2.55zM344.22 636.13h2.55v2.02h-2.55zM116.78 640.08h2.55v2.02h-2.55zM104.29 642.05h5.05v2.02h-5.05zM111.78 642.05h2.55v2.02h-2.55zM221.75 642.05h2.55v2.02h-2.55zM244.25 642.05h2.55v2.02h-2.55zM69.29 644.02h2.55v2.02h-2.55zM134.28 644.02h2.55v2.02h-2.55zM151.77 644.02h2.55v2.02h-2.55zM169.27 644.02h2.55v2.02h-2.55zM194.26 644.02h2.55v2.02h-2.55zM199.26 644.02h7.55v2.02h-7.55zM209.26 644.02h2.55v2.02h-2.55zM329.23 644.02h2.55v2.02h-2.55zM334.22 644.02h5.05v2.02h-5.05zM406.71 644.02h7.55v2.02h-7.55zM419.2 644.02h2.55v2.02h-2.55zM51.8 645.99h2.55v2.02h-2.55zM184.26 645.99h2.55v2.02h-2.55zM196.76 645.99h7.55v2.02h-7.55zM226.75 645.99h2.55v2.02h-2.55zM259.24 645.99h2.55v2.02h-2.55zM284.24 645.99h2.55v2.02h-2.55zM301.73 645.99h2.55v2.02h-2.55zM384.21 645.99h2.55v2.02h-2.55zM396.71 645.99h2.55v2.02h-2.55zM411.7 645.99h2.55v2.02h-2.55zM214.26 647.97h2.55v2.02h-2.55zM276.74 647.97h2.55v2.02h-2.55zM421.7 647.97h2.55v2.02h-2.55zM56.8 649.94h2.55v2.02h-2.55zM264.24 649.94h7.55v2.02h-7.55zM101.79 651.91h2.55v2.02h-2.55zM124.28 651.91h2.55v2.02h-2.55zM131.78 651.91h2.55v2.02h-2.55zM151.77 651.91h2.55v2.02h-2.55zM194.26 651.91h2.55v2.02h-2.55zM204.26 651.91h5.05v2.02h-5.05zM211.76 651.91h2.55v2.02h-2.55zM221.75 651.91h2.55v2.02h-2.55zM236.75 651.91h2.55v2.02h-2.55zM286.74 651.91h2.55v2.02h-2.55zM291.74 651.91h10.05v2.02h-10.05zM341.72 651.91h2.55v2.02h-2.55zM421.7 651.91h2.55v2.02h-2.55zM61.8 653.88h2.55v2.02h-2.55zM66.8 653.88h2.55v2.02h-2.55zM109.28 653.88h2.55v2.02h-2.55zM154.27 653.88h5.05v2.02h-5.05zM161.77 653.88h7.55v2.02h-7.55zM196.76 653.88h2.55v2.02h-2.55zM206.76 653.88h5.05v2.02h-5.05zM241.75 653.88h2.55v2.02h-2.55zM259.24 653.88h2.55v2.02h-2.55zM281.74 653.88h2.55v2.02h-2.55zM294.24 653.88h2.55v2.02h-2.55zM304.23 653.88h2.55v2.02h-2.55zM336.72 653.88h2.55v2.02h-2.55zM344.22 653.88h12.55v2.02h-12.55zM359.22 653.88h10.05v2.02h-10.05zM371.72 653.88h2.55v2.02h-2.55zM384.21 653.88h2.55v2.02h-2.55zM86.79 655.86h5.05v2.02h-5.05zM146.77 655.86h2.55v2.02h-2.55zM156.77 655.86h2.55v2.02h-2.55zM164.27 655.86h2.55v2.02h-2.55zM204.26 655.86h2.55v2.02h-2.55zM234.25 655.86h5.05v2.02h-5.05zM241.75 655.86h5.05v2.02h-5.05zM264.24 655.86h2.55v2.02h-2.55zM281.74 655.86h2.55v2.02h-2.55zM301.73 655.86h2.55v2.02h-2.55zM336.72 655.86h2.55v2.02h-2.55zM391.71 655.86h2.55v2.02h-2.55zM421.7 655.86h2.55v2.02h-2.55zM221.75 657.83h5.05v2.02h-5.05zM229.25 657.83h2.55v2.02h-2.55zM269.24 657.83h2.55v2.02h-2.55z"/>
<path fill="#ff6600" d="M139.28 592.74h10.05v2.02h-10.05zM156.77 592.74h5.05v2.02h-5.05zM214.26 592.74h5.05v2.02h-5.05zM259.24 592.74h5.05v2.02h-5.05zM341.72 592.74h2.55v2.02h-2.55zM181.77 594.72h5.05v2.02h-5.05zM214.26 594.72h2.55v2.02h-2.55zM244.25 594.72h2.55v2.02h-2.55zM371.72 594.72h2.55v2.02h-2.55zM399.21 594.72h7.55v2.02h-7.55zM409.21 594.72h2.55v2.02h-2.55zM326.73 596.69h2.55v2.02h-2.55zM126.78 598.66h2.55v2.02h-2.55zM249.25 598.66h2.55v2.02h-2.55zM316.73 598.66h2.55v2.02h-2.55zM324.23 598.66h2.55v2.02h-2.55zM191.76 600.63h2.55v2.02h-2.55zM291.74 600.63h2.55v2.02h-2.55zM299.23 600.63h2.55v2.02h-2.55zM254.25 602.61h2.55v2.02h-2.55zM254.25 604.58h2.55v2.02h-2.55zM334.22 606.55h2.55v2.02h-2.55zM61.8 614.44h2.55v2.02h-2.55zM84.29 614.44h5.05v2.02h-5.05zM94.29 614.44h5.05v2.02h-5.05zM126.78 614.44h5.05v2.02h-5.05zM134.28 614.44h2.55v2.02h-2.55zM164.27 614.44h2.55v2.02h-2.55zM169.27 614.44h5.05v2.02h-5.05zM244.25 614.44h2.55v2.02h-2.55zM261.74 614.44h2.55v2.02h-2.55zM279.24 614.44h2.55v2.02h-2.55zM314.23 614.44h2.55v2.02h-2.55zM334.22 614.44h2.55v2.02h-2.55zM341.72 614.44h5.05v2.02h-5.05zM381.71 614.44h5.05v2.02h-5.05zM414.2 614.44h2.55v2.02h-2.55zM94.29 616.41h2.55v2.02h-2.55zM109.28 616.41h2.55v2.02h-2.55zM114.28 616.41h2.55v2.02h-2.55zM131.78 616.41h2.55v2.02h-2.55zM144.27 616.41h2.55v2.02h-2.55zM191.76 616.41h2.55v2.02h-2.55zM204.26 616.41h2.55v2.02h-2.55zM226.75 616.41h2.55v2.02h-2.55zM239.25 616.41h7.55v2.02h-7.55zM259.24 616.41h2.55v2.02h-2.55zM301.73 616.41h2.55v2.02h-2.55zM314.23 616.41h2.55v2.02h-2.55zM331.73 616.41h2.55v2.02h-2.55zM379.21 616.41h2.55v2.02h-2.55zM426.7 616.41h2.55v2.02h-2.55zM49.3 618.38h2.55v2.02h-2.55zM109.28 618.38h2.55v2.02h-2.55zM131.78 618.38h2.55v2.02h-2.55zM194.26 618.38h2.55v2.02h-2.55zM229.25 618.38h2.55v2.02h-2.55zM234.25 618.38h2.55v2.02h-2.55zM269.24 618.38h2.55v2.02h-2.55zM274.24 618.38h2.55v2.02h-2.55zM301.73 618.38h2.55v2.02h-2.55zM331.73 618.38h2.55v2.02h-2.55zM341.72 618.38h2.55v2.02h-2.55zM364.22 618.38h2.55v2.02h-2.55zM374.21 618.38h2.55v2.02h-2.55zM421.7 618.38h2.55v2.02h-2.55zM91.79 620.36h2.55v2.02h-2.55zM99.29 620.36h2.55v2.02h-2.55zM106.78 620.36h2.55v2.02h-2.55zM121.78 620.36h2.55v2.02h-2.55zM126.78 620.36h5.05v2.02h-5.05zM179.27 620.36h2.55v2.02h-2.55zM201.76 620.36h5.05v2.02h-5.05zM221.75 620.36h2.55v2.02h-2.55zM251.75 620.36h2.55v2.02h-2.55zM259.24 620.36h2.55v2.02h-2.55zM264.24 620.36h2.55v2.02h-2.55zM284.24 620.36h5.05v2.02h-5.05zM334.22 620.36h2.55v2.02h-2.55zM59.3 622.33h2.55v2.02h-2.55zM81.79 622.33h5.05v2.02h-5.05zM91.79 622.33h2.55v2.02h-2.55zM96.79 622.33h2.55v2.02h-2.55zM131.78 622.33h2.55v2.02h-2.55zM161.77 622.33h2.55v2.02h-2.55zM194.26 622.33h2.55v2.02h-2.55zM201.76 622.33h2.55v2.02h-2.55zM214.26 622.33h2.55v2.02h-2.55zM219.26 622.33h5.05v2.02h-5.05zM226.75 622.33h2.55v2.02h-2.55zM269.24 622.33h2.55v2.02h-2.55zM274.24 622.33h2.55v2.02h-2.55zM284.24 622.33h2.55v2.02h-2.55zM291.74 622.33h2.55v2.02h-2.55zM326.73 622.33h2.55v2.02h-2.55zM106.78 624.3h5.05v2.02h-5.05zM159.27 624.3h5.05v2.02h-5.05zM166.77 624.3h5.05v2.02h-5.05zM174.27 624.3h2.55v2.02h-2.55zM209.26 624.3h2.55v2.02h-2.55zM219.26 624.3h5.05v2.02h-5.05zM251.75 624.3h2.55v2.02h-2.55zM269.24 624.3h5.05v2.02h-5.05zM311.73 624.3h2.55v2.02h-2.55zM366.72 624.3h5.05v2.02h-5.05zM386.71 624.3h2.55v2.02h-2.55zM426.7 624.3h2.55v2.02h-2.55zM84.29 626.27h2.55v2.02h-2.55zM94.29 626.27h2.55v2.02h-2.55zM106.78 626.27h2.55v2.02h-2.55zM189.26 626.27h2.55v2.02h-2.55zM211.76 626.27h2.55v2.02h-2.55zM234.25 626.27h2.55v2.02h-2.55zM264.24 626.27h2.55v2.02h-2.55zM281.74 626.27h2.55v2.02h-2.55zM326.73 626.27h2.55v2.02h-2.55zM314.23 628.24h2.55v2.02h-2.55zM324.23 628.24h2.55v2.02h-2.55zM101.79 634.16h2.55v2.02h-2.55zM114.28 634.16h2.55v2.02h-2.55zM121.78 634.16h2.55v2.02h-2.55zM84.29 636.13h7.55v2.02h-7.55zM104.29 636.13h10.05v2.02h-10.05zM134.28 636.13h7.55v2.02h-7.55zM216.76 636.13h2.55v2.02h-2.55zM291.74 636.13h2.55v2.02h-2.55zM329.23 636.13h2.55v2.02h-2.55zM354.22 636.13h2.55v2.02h-2.55zM369.22 636.13h2.55v2.02h-2.55zM386.71 636.13h2.55v2.02h-2.55zM86.79 638.11h5.05v2.02h-5.05zM94.29 638.11h5.05v2.02h-5.05zM131.78 638.11h2.55v2.02h-2.55zM166.77 638.11h5.05v2.02h-5.05zM196.76 638.11h2.55v2.02h-2.55zM209.26 638.11h2.55v2.02h-2.55zM214.26 638.11h2.55v2.02h-2.55zM219.26 638.11h2.55v2.02h-2.55zM244.25 638.11h5.05v2.02h-5.05zM251.75 638.11h2.55v2.02h-2.55zM269.24 638.11h2.55v2.02h-2.55zM274.24 638.11h5.05v2.02h-5.05zM304.23 638.11h2.55v2.02h-2.55zM359.22 638.11h2.55v2.02h-2.55zM384.21 638.11h2.55v2.02h-2.55zM106.78 640.08h2.55v2.02h-2.55zM176.77 640.08h5.05v2.02h-5.05zM201.76 640.08h2.55v2.02h-2.55zM281.74 640.08h2.55v2.02h-2.55zM294.24 640.08h7.55v2.02h-7.55zM331.73 640.08h10.05v2.02h-10.05zM349.22 640.08h2.55v2.02h-2.55zM359.22 640.08h2.55v2.02h-2.55zM419.2 640.08h2.55v2.02h-2.55zM171.77 642.05h2.55v2.02h-2.55zM406.71 642.05h5.05v2.02h-5.05zM74.29 647.97h2.55v2.02h-2.55zM84.29 647.97h2.55v2.02h-2.55zM154.27 647.97h2.55v2.02h-2.55zM196.76 647.97h2.55v2.02h-2.55zM336.72 647.97h2.55v2.02h-2.55zM79.29 649.94h2.55v2.02h-2.55zM84.29 649.94h2.55v2.02h-2.55zM109.28 649.94h5.05v2.02h-5.05zM136.78 649.94h2.55v2.02h-2.55zM254.25 649.94h2.55v2.02h-2.55zM291.74 649.94h2.55v2.02h-2.55zM296.73 649.94h2.55v2.02h-2.55zM329.23 649.94h2.55v2.02h-2.55zM354.22 649.94h2.55v2.02h-2.55zM364.22 649.94h2.55v2.02h-2.55zM324.23 653.88h2.55v2.02h-2.55zM251.75 655.86h2.55v2.02h-2.55zM81.79 657.83h5.05v2.02h-5.05zM96.79 657.83h2.55v2.02h-2.55zM174.27 657.83h7.55v2.02h-7.55zM184.26 657.83h2.55v2.02h-2.55zM194.26 657.83h2.55v2.02h-2.55zM259.24 657.83h2.55v2.02h-2.55zM281.74 657.83h2.55v2.02h-2.55zM306.73 657.83h2.55v2.02h-2.55zM329.23 657.83h2.55v2.02h-2.55zM349.22 657.83h2.55v2.02h-2.55zM416.7 657.83h2.55v2.02h-2.55z"/>
<path fill="#ff4300" d="M49.3 594.72h2.55v2.02h-2.55zM56.8 594.72h2.55v2.02h-2.55zM121.78 594.72h7.55v2.02h-7.55zM131.78 594.72h10.05v2.02h-10.05zM144.27 594.72h5.05v2.02h-5.05zM206.76 594.72h2.55v2.02h-2.55zM211.76 594.72h2.55v2.02h-2.55zM266.74 594.72h2.55v2.02h-2.55zM356.72 594.72h2.55v2.02h-2.55zM364.22 594.72h2.55v2.02h-2.55zM369.22 594.72h2.55v2.02h-2.55zM414.2 594.72h2.55v2.02h-2.55zM426.7 594.72h2.55v2.02h-2.55zM69.29 596.69h2.55v2.02h-2.55zM74.29 596.69h2.55v2.02h-2.55zM99.29 596.69h10.05v2.02h-10.05zM121.78 596.69h2.55v2.02h-2.55zM184.26 596.69h2.55v2.02h-2.55zM239.25 596.69h2.55v2.02h-2.55zM246.75 596.69h2.55v2.02h-2.55zM289.24 596.69h2.55v2.02h-2.55zM396.71 596.69h2.55v2.02h-2.55zM81.79 598.66h5.05v2.02h-5.05zM104.29 598.66h2.55v2.02h-2.55zM121.78 598.66h2.55v2.02h-2.55zM131.78 598.66h2.55v2.02h-2.55zM136.78 598.66h2.55v2.02h-2.55zM314.23 598.66h2.55v2.02h-2.55zM376.71 598.66h5.05v2.02h-5.05zM189.26 600.63h2.55v2.02h-2.55zM194.26 600.63h2.55v2.02h-2.55zM326.73 600.63h2.55v2.02h-2.55zM129.28 602.61h5.05v2.02h-5.05zM169.27 602.61h2.55v2.02h-2.55zM174.27 602.61h2.55v2.02h-2.55zM239.25 602.61h2.55v2.02h-2.55zM244.25 602.61h2.55v2.02h-2.55zM286.74 602.61h7.55v2.02h-7.55zM301.73 602.61h2.55v2.02h-2.55zM306.73 602.61h5.05v2.02h-5.05zM326.73 602.61h2.55v2.02h-2.55zM371.72 602.61h5.05v2.02h-5.05zM379.21 602.61h5.05v2.02h-5.05zM121.78 604.58h2.55v2.02h-2.55zM159.27 604.58h2.55v2.02h-2.55zM289.24 604.58h2.55v2.02h-2.55zM376.71 604.58h2.55v2.02h-2.55zM249.25 606.55h2.55v2.02h-2.55zM311.73 606.55h2.55v2.02h-2.55zM396.71 606.55h2.55v2.02h-2.55zM324.23 608.52h2.55v2.02h-2.55zM251.75 610.49h2.55v2.02h-2.55zM324.23 610.49h2.55v2.02h-2.55zM89.29 612.47h2.55v2.02h-2.55zM129.28 612.47h5.05v2.02h-5.05zM159.27 612.47h5.05v2.02h-5.05zM186.76 612.47h5.05v2.02h-5.05zM271.74 612.47h2.55v2.02h-2.55zM286.74 612.47h5.05v2.02h-5.05zM361.72 612.47h2.55v2.02h-2.55zM399.21 612.47h2.55v2.02h-2.55zM414.2 612.47h2.55v2.02h-2.55zM59.3 614.44h2.55v2.02h-2.55zM99.29 614.44h2.55v2.02h-2.55zM124.28 614.44h2.55v2.02h-2.55zM151.77 614.44h2.55v2.02h-2.55zM184.26 614.44h2.55v2.02h-2.55zM214.26 614.44h2.55v2.02h-2.55zM256.75 614.44h2.55v2.02h-2.55zM281.74 614.44h2.55v2.02h-2.55zM311.73 614.44h2.55v2.02h-2.55zM419.2 614.44h5.05v2.02h-5.05zM426.7 614.44h2.55v2.02h-2.55zM101.79 616.41h2.55v2.02h-2.55zM134.28 616.41h2.55v2.02h-2.55zM201.76 616.41h2.55v2.02h-2.55zM234.25 616.41h5.05v2.02h-5.05zM256.75 616.41h2.55v2.02h-2.55zM276.74 616.41h2.55v2.02h-2.55zM296.73 616.41h2.55v2.02h-2.55zM309.23 616.41h2.55v2.02h-2.55zM336.72 616.41h2.55v2.02h-2.55zM376.71 616.41h2.55v2.02h-2.55zM101.79 618.38h7.55v2.02h-7.55zM221.75 618.38h2.55v2.02h-2.55zM226.75 618.38h2.55v2.02h-2.55zM236.75 618.38h5.05v2.02h-5.05zM246.75 618.38h2.55v2.02h-2.55zM254.25 618.38h2.55v2.02h-2.55zM261.74 618.38h5.05v2.02h-5.05zM294.24 618.38h5.05v2.02h-5.05zM346.72 618.38h2.55v2.02h-2.55zM86.79 620.36h5.05v2.02h-5.05zM176.77 620.36h2.55v2.02h-2.55zM229.25 620.36h5.05v2.02h-5.05zM249.25 620.36h2.55v2.02h-2.55zM254.25 620.36h2.55v2.02h-2.55zM269.24 620.36h2.55v2.02h-2.55zM274.24 620.36h2.55v2.02h-2.55zM311.73 620.36h2.55v2.02h-2.55zM354.22 620.36h2.55v2.02h-2.55zM361.72 620.36h2.55v2.02h-2.55zM376.71 620.36h2.55v2.02h-2.55zM51.8 622.33h2.55v2.02h-2.55zM89.29 622.33h2.55v2.02h-2.55zM121.78 622.33h2.55v2.02h-2.55zM241.75 622.33h2.55v2.02h-2.55zM259.24 622.33h2.55v2.02h-2.55zM266.74 622.33h2.55v2.02h-2.55zM279.24 622.33h2.55v2.02h-2.55zM296.73 622.33h2.55v2.02h-2.55zM304.23 622.33h2.55v2.02h-2.55zM329.23 622.33h2.55v2.02h-2.55zM349.22 622.33h2.55v2.02h-2.55zM419.2 622.33h2.55v2.02h-2.55zM96.79 624.3h2.55v2.02h-2.55zM171.77 624.3h2.55v2.02h-2.55zM196.76 624.3h2.55v2.02h-2.55zM201.76 624.3h5.05v2.02h-5.05zM214.26 624.3h2.55v2.02h-2.55zM259.24 624.3h5.05v2.02h-5.05zM294.24 624.3h2.55v2.02h-2.55zM309.23 624.3h2.55v2.02h-2.55zM326.73 624.3h2.55v2.02h-2.55zM359.22 624.3h2.55v2.02h-2.55zM56.8 626.27h2.55v2.02h-2.55zM91.79 626.27h2.55v2.02h-2.55zM104.29 626.27h2.55v2.02h-2.55zM156.77 626.27h2.55v2.02h-2.55zM169.27 626.27h2.55v2.02h-2.55zM214.26 626.27h2.55v2.02h-2.55zM236.75 626.27h2.55v2.02h-2.55zM259.24 626.27h2.55v2.02h-2.55zM271.74 626.27h2.55v2.02h-2.55zM296.73 626.27h5.05v2.02h-5.05zM356.72 626.27h2.55v2.02h-2.55zM49.3 628.24h2.55v2.02h-2.55zM239.25 628.24h2.55v2.02h-2.55zM296.73 628.24h2.55v2.02h-2.55zM384.21 628.24h2.55v2.02h-2.55zM389.21 628.24h5.05v2.02h-5.05zM199.26 630.22h2.55v2.02h-2.55zM204.26 630.22h2.55v2.02h-2.55zM279.24 630.22h2.55v2.02h-2.55zM326.73 632.19h2.55v2.02h-2.55zM391.71 632.19h2.55v2.02h-2.55zM111.78 634.16h2.55v2.02h-2.55zM134.28 634.16h5.05v2.02h-5.05zM146.77 634.16h2.55v2.02h-2.55zM241.75 634.16h2.55v2.02h-2.55zM261.74 634.16h2.55v2.02h-2.55zM294.24 634.16h2.55v2.02h-2.55zM359.22 634.16h2.55v2.02h-2.55zM376.71 634.16h2.55v2.02h-2.55zM59.3 636.13h5.05v2.02h-5.05zM114.28 636.13h2.55v2.02h-2.55zM124.28 636.13h2.55v2.02h-2.55zM176.77 636.13h2.55v2.02h-2.55zM214.26 636.13h2.55v2.02h-2.55zM219.26 636.13h2.55v2.02h-2.55zM251.75 636.13h2.55v2.02h-2.55zM256.75 636.13h2.55v2.02h-2.55zM289.24 636.13h2.55v2.02h-2.55zM356.72 636.13h2.55v2.02h-2.55zM371.72 636.13h2.55v2.02h-2.55zM384.21 636.13h2.55v2.02h-2.55zM79.29 638.11h5.05v2.02h-5.05zM119.28 638.11h2.55v2.02h-2.55zM136.78 638.11h2.55v2.02h-2.55zM149.27 638.11h2.55v2.02h-2.55zM176.77 638.11h2.55v2.02h-2.55zM224.25 638.11h2.55v2.02h-2.55zM261.74 638.11h7.55v2.02h-7.55zM284.24 638.11h2.55v2.02h-2.55zM296.73 638.11h5.05v2.02h-5.05zM336.72 638.11h2.55v2.02h-2.55zM341.72 638.11h5.05v2.02h-5.05zM351.72 638.11h7.55v2.02h-7.55zM51.8 640.08h2.55v2.02h-2.55zM89.29 640.08h17.55v2.02h-17.55zM226.75 640.08h2.55v2.02h-2.55zM249.25 640.08h2.55v2.02h-2.55zM286.74 640.08h2.55v2.02h-2.55zM344.22 640.08h2.55v2.02h-2.55zM361.72 640.08h2.55v2.02h-2.55zM366.72 640.08h7.55v2.02h-7.55zM379.21 640.08h2.55v2.02h-2.55zM329.23 642.05h2.55v2.02h-2.55zM324.23 644.02h2.55v2.02h-2.55zM324.23 645.99h2.55v2.02h-2.55zM64.3 647.97h2.55v2.02h-2.55zM121.78 647.97h2.55v2.02h-2.55zM156.77 647.97h2.55v2.02h-2.55zM161.77 647.97h2.55v2.02h-2.55zM189.26 647.97h5.05v2.02h-5.05zM246.75 647.97h2.55v2.02h-2.55zM306.73 647.97h2.55v2.02h-2.55zM326.73 647.97h2.55v2.02h-2.55zM344.22 647.97h2.55v2.02h-2.55zM356.72 647.97h2.55v2.02h-2.55zM381.71 647.97h2.55v2.02h-2.55zM76.79 649.94h2.55v2.02h-2.55zM89.29 649.94h2.55v2.02h-2.55zM101.79 649.94h5.05v2.02h-5.05zM114.28 649.94h2.55v2.02h-2.55zM151.77 649.94h2.55v2.02h-2.55zM189.26 649.94h2.55v2.02h-2.55zM226.75 649.94h2.55v2.02h-2.55zM236.75 649.94h5.05v2.02h-5.05zM309.23 649.94h5.05v2.02h-5.05zM356.72 649.94h5.05v2.02h-5.05zM371.72 649.94h2.55v2.02h-2.55zM326.73 651.91h2.55v2.02h-2.55zM251.75 653.88h2.55v2.02h-2.55zM59.3 657.83h2.55v2.02h-2.55zM64.3 657.83h2.55v2.02h-2.55zM69.29 657.83h2.55v2.02h-2.55zM74.29 657.83h2.55v2.02h-2.55zM99.29 657.83h2.55v2.02h-2.55zM106.78 657.83h2.55v2.02h-2.55zM131.78 657.83h2.55v2.02h-2.55zM139.28 657.83h7.55v2.02h-7.55zM241.75 657.83h2.55v2.02h-2.55zM286.74 657.83h12.55v2.02h-12.55zM356.72 657.83h7.55v2.02h-7.55zM384.21 657.83h5.05v2.02h-5.05zM391.71 657.83h5.05v2.02h-5.05z"/>
<path fill="#ff3300" d="M51.8 594.72h2.55v2.02h-2.55zM129.28 594.72h2.55v2.02h-2.55zM141.78 594.72h2.55v2.02h-2.55zM209.26 594.72h2.55v2.02h-2.55zM276.74 594.72h2.55v2.02h-2.55zM366.72 594.72h2.55v2.02h-2.55zM416.7 594.72h5.05v2.02h-5.05zM94.29 596.69h5.05v2.02h-5.05zM181.77 596.69h2.55v2.02h-2.55zM186.76 596.69h2.55v2.02h-2.55zM236.75 596.69h2.55v2.02h-2.55zM244.25 596.69h2.55v2.02h-2.55zM254.25 596.69h2.55v2.02h-2.55zM286.74 596.69h2.55v2.02h-2.55zM291.74 596.69h2.55v2.02h-2.55zM309.23 596.69h2.55v2.02h-2.55zM389.21 596.69h2.55v2.02h-2.55zM79.29 598.66h2.55v2.02h-2.55zM106.78 598.66h2.55v2.02h-2.55zM134.28 598.66h2.55v2.02h-2.55zM234.25 598.66h7.55v2.02h-7.55zM311.73 598.66h2.55v2.02h-2.55zM374.21 598.66h2.55v2.02h-2.55zM381.71 598.66h5.05v2.02h-5.05zM126.78 600.63h5.05v2.02h-5.05zM241.75 600.63h2.55v2.02h-2.55zM286.74 600.63h5.05v2.02h-5.05zM309.23 600.63h2.55v2.02h-2.55zM376.71 600.63h2.55v2.02h-2.55zM176.77 602.61h2.55v2.02h-2.55zM189.26 602.61h2.55v2.02h-2.55zM281.74 602.61h5.05v2.02h-5.05zM296.73 602.61h2.55v2.02h-2.55zM304.23 602.61h2.55v2.02h-2.55zM361.72 602.61h2.55v2.02h-2.55zM384.21 602.61h5.05v2.02h-5.05zM391.71 602.61h2.55v2.02h-2.55zM64.3 604.58h2.55v2.02h-2.55zM111.78 604.58h2.55v2.02h-2.55zM156.77 604.58h2.55v2.02h-2.55zM161.77 604.58h5.05v2.02h-5.05zM174.27 604.58h2.55v2.02h-2.55zM291.74 604.58h2.55v2.02h-2.55zM314.23 604.58h2.55v2.02h-2.55zM374.21 604.58h2.55v2.02h-2.55zM144.27 606.55h5.05v2.02h-5.05zM159.27 606.55h2.55v2.02h-2.55zM326.73 606.55h2.55v2.02h-2.55zM331.73 606.55h2.55v2.02h-2.55zM336.72 606.55h2.55v2.02h-2.55zM369.22 606.55h2.55v2.02h-2.55zM399.21 606.55h2.55v2.02h-2.55zM241.75 610.49h2.55v2.02h-2.55zM314.23 610.49h2.55v2.02h-2.55zM59.3 612.47h2.55v2.02h-2.55zM126.78 612.47h2.55v2.02h-2.55zM134.28 612.47h7.55v2.02h-7.55zM191.76 612.47h5.05v2.02h-5.05zM269.24 612.47h2.55v2.02h-2.55zM274.24 612.47h2.55v2.02h-2.55zM326.73 612.47h2.55v2.02h-2.55zM386.71 612.47h2.55v2.02h-2.55zM416.7 612.47h2.55v2.02h-2.55zM144.27 614.44h7.55v2.02h-7.55zM154.27 614.44h2.55v2.02h-2.55zM181.77 614.44h2.55v2.02h-2.55zM234.25 614.44h2.55v2.02h-2.55zM284.24 614.44h2.55v2.02h-2.55zM374.21 614.44h5.05v2.02h-5.05zM424.2 614.44h2.55v2.02h-2.55zM49.3 616.41h5.05v2.02h-5.05zM56.8 616.41h2.55v2.02h-2.55zM104.29 616.41h2.55v2.02h-2.55zM136.78 616.41h5.05v2.02h-5.05zM194.26 616.41h2.55v2.02h-2.55zM199.26 616.41h2.55v2.02h-2.55zM231.75 616.41h2.55v2.02h-2.55zM284.24 616.41h2.55v2.02h-2.55zM294.24 616.41h2.55v2.02h-2.55zM299.23 616.41h2.55v2.02h-2.55zM339.22 616.41h2.55v2.02h-2.55zM364.22 616.41h2.55v2.02h-2.55zM374.21 616.41h2.55v2.02h-2.55zM51.8 618.38h2.55v2.02h-2.55zM121.78 618.38h10.05v2.02h-10.05zM241.75 618.38h5.05v2.02h-5.05zM291.74 618.38h2.55v2.02h-2.55zM49.3 620.36h5.05v2.02h-5.05zM234.25 620.36h5.05v2.02h-5.05zM291.74 620.36h2.55v2.02h-2.55zM309.23 620.36h2.55v2.02h-2.55zM339.22 620.36h2.55v2.02h-2.55zM346.72 620.36h2.55v2.02h-2.55zM356.72 620.36h5.05v2.02h-5.05zM109.28 622.33h2.55v2.02h-2.55zM239.25 622.33h2.55v2.02h-2.55zM261.74 622.33h5.05v2.02h-5.05zM281.74 622.33h2.55v2.02h-2.55zM299.23 622.33h5.05v2.02h-5.05zM339.22 622.33h2.55v2.02h-2.55zM49.3 624.3h2.55v2.02h-2.55zM129.28 624.3h2.55v2.02h-2.55zM199.26 624.3h2.55v2.02h-2.55zM216.76 624.3h2.55v2.02h-2.55zM244.25 624.3h2.55v2.02h-2.55zM276.74 624.3h2.55v2.02h-2.55zM376.71 624.3h2.55v2.02h-2.55zM381.71 624.3h2.55v2.02h-2.55zM111.78 626.27h2.55v2.02h-2.55zM134.28 626.27h5.05v2.02h-5.05zM154.27 626.27h2.55v2.02h-2.55zM216.76 626.27h5.05v2.02h-5.05zM239.25 626.27h5.05v2.02h-5.05zM254.25 626.27h5.05v2.02h-5.05zM274.24 626.27h2.55v2.02h-2.55zM329.23 626.27h2.55v2.02h-2.55zM349.22 626.27h2.55v2.02h-2.55zM369.22 626.27h2.55v2.02h-2.55zM381.71 626.27h5.05v2.02h-5.05zM414.2 626.27h2.55v2.02h-2.55zM159.27 628.24h5.05v2.02h-5.05zM214.26 628.24h2.55v2.02h-2.55zM241.75 628.24h5.05v2.02h-5.05zM256.75 628.24h2.55v2.02h-2.55zM311.73 628.24h2.55v2.02h-2.55zM381.71 628.24h2.55v2.02h-2.55zM386.71 628.24h2.55v2.02h-2.55zM71.79 630.22h2.55v2.02h-2.55zM111.78 630.22h2.55v2.02h-2.55zM159.27 630.22h5.05v2.02h-5.05zM264.24 630.22h2.55v2.02h-2.55zM314.23 630.22h2.55v2.02h-2.55zM374.21 630.22h5.05v2.02h-5.05zM229.25 632.19h2.55v2.02h-2.55zM236.75 632.19h5.05v2.02h-5.05zM276.74 632.19h2.55v2.02h-2.55zM364.22 632.19h2.55v2.02h-2.55zM394.21 632.19h2.55v2.02h-2.55zM61.8 634.16h7.55v2.02h-7.55zM86.79 634.16h5.05v2.02h-5.05zM109.28 634.16h2.55v2.02h-2.55zM119.28 634.16h2.55v2.02h-2.55zM139.28 634.16h2.55v2.02h-2.55zM149.27 634.16h2.55v2.02h-2.55zM201.76 634.16h2.55v2.02h-2.55zM266.74 634.16h2.55v2.02h-2.55zM91.79 636.13h2.55v2.02h-2.55zM99.29 636.13h2.55v2.02h-2.55zM131.78 636.13h2.55v2.02h-2.55zM146.77 636.13h2.55v2.02h-2.55zM161.77 636.13h2.55v2.02h-2.55zM179.27 636.13h2.55v2.02h-2.55zM211.76 636.13h2.55v2.02h-2.55zM224.25 636.13h2.55v2.02h-2.55zM254.25 636.13h2.55v2.02h-2.55zM374.21 636.13h5.05v2.02h-5.05zM51.8 638.11h2.55v2.02h-2.55zM221.75 638.11h2.55v2.02h-2.55zM294.24 638.11h2.55v2.02h-2.55zM339.22 638.11h2.55v2.02h-2.55zM346.72 638.11h5.05v2.02h-5.05zM414.2 638.11h15.05v2.02h-15.05zM119.28 640.08h2.55v2.02h-2.55zM241.75 640.08h2.55v2.02h-2.55zM374.21 640.08h5.05v2.02h-5.05zM164.27 642.05h2.55v2.02h-2.55zM286.74 642.05h2.55v2.02h-2.55zM314.23 642.05h2.55v2.02h-2.55zM331.73 642.05h2.55v2.02h-2.55zM366.72 642.05h5.05v2.02h-5.05zM256.75 644.02h2.55v2.02h-2.55zM314.23 644.02h2.55v2.02h-2.55zM66.8 647.97h2.55v2.02h-2.55zM91.79 647.97h2.55v2.02h-2.55zM96.79 647.97h2.55v2.02h-2.55zM114.28 647.97h2.55v2.02h-2.55zM124.28 647.97h2.55v2.02h-2.55zM171.77 647.97h5.05v2.02h-5.05zM186.76 647.97h2.55v2.02h-2.55zM199.26 647.97h2.55v2.02h-2.55zM254.25 647.97h2.55v2.02h-2.55zM299.23 647.97h5.05v2.02h-5.05zM364.22 647.97h2.55v2.02h-2.55zM384.21 647.97h5.05v2.02h-5.05zM59.3 649.94h2.55v2.02h-2.55zM91.79 649.94h2.55v2.02h-2.55zM139.28 649.94h2.55v2.02h-2.55zM156.77 649.94h2.55v2.02h-2.55zM244.25 649.94h2.55v2.02h-2.55zM294.24 649.94h2.55v2.02h-2.55zM374.21 649.94h5.05v2.02h-5.05zM386.71 649.94h2.55v2.02h-2.55zM189.26 653.88h2.55v2.02h-2.55zM254.25 653.88h2.55v2.02h-2.55zM314.23 653.88h2.55v2.02h-2.55zM249.25 655.86h2.55v2.02h-2.55zM256.75 655.86h2.55v2.02h-2.55zM381.71 655.86h5.05v2.02h-5.05zM49.3 657.83h2.55v2.02h-2.55zM61.8 657.83h2.55v2.02h-2.55zM66.8 657.83h2.55v2.02h-2.55zM171.77 657.83h2.55v2.02h-2.55zM196.76 657.83h2.55v2.02h-2.55zM211.76 657.83h5.05v2.02h-5.05zM244.25 657.83h2.55v2.02h-2.55zM261.74 657.83h2.55v2.02h-2.55zM364.22 657.83h2.55v2.02h-2.55zM371.72 657.83h12.55v2.02h-12.55zM389.21 657.83h2.55v2.02h-2.55z"/>
<path fill="#dd0000" d="M54.3 594.72h2.55v2.02h-2.55zM269.24 594.72h2.55v2.02h-2.55zM151.77 596.69h2.55v2.02h-2.55zM171.77 596.69h2.55v2.02h-2.55zM176.77 596.69h2.55v2.02h-2.55zM209.26 596.69h2.55v2.02h-2.55zM229.25 596.69h2.55v2.02h-2.55zM259.24 596.69h7.55v2.02h-7.55zM281.74 596.69h2.55v2.02h-2.55zM334.22 596.69h2.55v2.02h-2.55zM356.72 596.69h2.55v2.02h-2.55zM49.3 598.66h2.55v2.02h-2.55zM61.8 598.66h2.55v2.02h-2.55zM71.79 598.66h2.55v2.02h-2.55zM146.77 598.66h2.55v2.02h-2.55zM176.77 598.66h5.05v2.02h-5.05zM196.76 598.66h2.55v2.02h-2.55zM206.76 598.66h2.55v2.02h-2.55zM276.74 598.66h2.55v2.02h-2.55zM299.23 598.66h7.55v2.02h-7.55zM364.22 598.66h2.55v2.02h-2.55zM369.22 598.66h2.55v2.02h-2.55zM76.79 600.63h5.05v2.02h-5.05zM94.29 600.63h5.05v2.02h-5.05zM101.79 600.63h2.55v2.02h-2.55zM136.78 600.63h2.55v2.02h-2.55zM169.27 600.63h5.05v2.02h-5.05zM181.77 600.63h2.55v2.02h-2.55zM226.75 600.63h2.55v2.02h-2.55zM264.24 600.63h2.55v2.02h-2.55zM281.74 600.63h2.55v2.02h-2.55zM369.22 600.63h2.55v2.02h-2.55zM394.21 600.63h2.55v2.02h-2.55zM424.2 600.63h2.55v2.02h-2.55zM51.8 602.61h2.55v2.02h-2.55zM66.8 602.61h2.55v2.02h-2.55zM89.29 602.61h2.55v2.02h-2.55zM111.78 602.61h2.55v2.02h-2.55zM144.27 602.61h2.55v2.02h-2.55zM149.27 602.61h5.05v2.02h-5.05zM206.76 602.61h5.05v2.02h-5.05zM234.25 602.61h2.55v2.02h-2.55zM264.24 602.61h2.55v2.02h-2.55zM331.73 602.61h2.55v2.02h-2.55zM51.8 604.58h2.55v2.02h-2.55zM76.79 604.58h10.05v2.02h-10.05zM119.28 604.58h2.55v2.02h-2.55zM151.77 604.58h2.55v2.02h-2.55zM181.77 604.58h2.55v2.02h-2.55zM186.76 604.58h2.55v2.02h-2.55zM194.26 604.58h7.55v2.02h-7.55zM259.24 604.58h5.05v2.02h-5.05zM331.73 604.58h7.55v2.02h-7.55zM364.22 604.58h2.55v2.02h-2.55zM406.71 604.58h2.55v2.02h-2.55zM71.79 606.55h5.05v2.02h-5.05zM94.29 606.55h2.55v2.02h-2.55zM109.28 606.55h2.55v2.02h-2.55zM136.78 606.55h2.55v2.02h-2.55zM166.77 606.55h5.05v2.02h-5.05zM174.27 606.55h7.55v2.02h-7.55zM186.76 606.55h2.55v2.02h-2.55zM256.75 606.55h10.05v2.02h-10.05zM296.73 606.55h2.55v2.02h-2.55zM301.73 606.55h2.55v2.02h-2.55zM361.72 606.55h2.55v2.02h-2.55zM374.21 606.55h2.55v2.02h-2.55zM379.21 606.55h2.55v2.02h-2.55zM389.21 606.55h2.55v2.02h-2.55zM69.29 608.52h7.55v2.02h-7.55zM106.78 608.52h2.55v2.02h-2.55zM179.27 608.52h5.05v2.02h-5.05zM186.76 608.52h7.55v2.02h-7.55zM326.73 608.52h2.55v2.02h-2.55zM376.71 608.52h7.55v2.02h-7.55zM386.71 608.52h2.55v2.02h-2.55zM69.29 610.49h2.55v2.02h-2.55zM74.29 610.49h2.55v2.02h-2.55zM94.29 610.49h2.55v2.02h-2.55zM129.28 610.49h2.55v2.02h-2.55zM134.28 610.49h2.55v2.02h-2.55zM139.28 610.49h2.55v2.02h-2.55zM159.27 610.49h5.05v2.02h-5.05zM166.77 610.49h2.55v2.02h-2.55zM191.76 610.49h2.55v2.02h-2.55zM236.75 610.49h2.55v2.02h-2.55zM246.75 610.49h2.55v2.02h-2.55zM306.73 610.49h2.55v2.02h-2.55zM326.73 610.49h2.55v2.02h-2.55zM381.71 610.49h5.05v2.02h-5.05zM389.21 610.49h2.55v2.02h-2.55zM399.21 610.49h2.55v2.02h-2.55zM101.79 612.47h2.55v2.02h-2.55zM111.78 612.47h2.55v2.02h-2.55zM146.77 612.47h2.55v2.02h-2.55zM244.25 612.47h5.05v2.02h-5.05zM296.73 612.47h2.55v2.02h-2.55zM391.71 612.47h2.55v2.02h-2.55zM119.28 618.38h2.55v2.02h-2.55zM119.28 620.36h2.55v2.02h-2.55zM344.22 622.33h2.55v2.02h-2.55zM56.8 628.24h2.55v2.02h-2.55zM64.3 628.24h2.55v2.02h-2.55zM74.29 628.24h2.55v2.02h-2.55zM79.29 628.24h2.55v2.02h-2.55zM91.79 628.24h2.55v2.02h-2.55zM141.78 628.24h12.55v2.02h-12.55zM179.27 628.24h2.55v2.02h-2.55zM274.24 628.24h2.55v2.02h-2.55zM371.72 628.24h2.55v2.02h-2.55zM396.71 628.24h2.55v2.02h-2.55zM404.21 628.24h5.05v2.02h-5.05zM89.29 630.22h5.05v2.02h-5.05zM139.28 630.22h5.05v2.02h-5.05zM146.77 630.22h7.55v2.02h-7.55zM191.76 630.22h2.55v2.02h-2.55zM251.75 630.22h5.05v2.02h-5.05zM286.74 630.22h5.05v2.02h-5.05zM366.72 630.22h2.55v2.02h-2.55zM381.71 630.22h5.05v2.02h-5.05zM49.3 632.19h2.55v2.02h-2.55zM59.3 632.19h5.05v2.02h-5.05zM69.29 632.19h2.55v2.02h-2.55zM74.29 632.19h5.05v2.02h-5.05zM81.79 632.19h2.55v2.02h-2.55zM101.79 632.19h2.55v2.02h-2.55zM144.27 632.19h2.55v2.02h-2.55zM154.27 632.19h2.55v2.02h-2.55zM161.77 632.19h2.55v2.02h-2.55zM184.26 632.19h2.55v2.02h-2.55zM206.76 632.19h2.55v2.02h-2.55zM211.76 632.19h7.55v2.02h-7.55zM259.24 632.19h2.55v2.02h-2.55zM281.74 632.19h2.55v2.02h-2.55zM289.24 632.19h2.55v2.02h-2.55zM309.23 632.19h2.55v2.02h-2.55zM361.72 632.19h2.55v2.02h-2.55zM376.71 632.19h2.55v2.02h-2.55zM419.2 632.19h5.05v2.02h-5.05zM116.78 634.16h2.55v2.02h-2.55zM126.78 634.16h2.55v2.02h-2.55zM154.27 634.16h2.55v2.02h-2.55zM171.77 634.16h5.05v2.02h-5.05zM279.24 634.16h2.55v2.02h-2.55zM284.24 634.16h5.05v2.02h-5.05zM416.7 634.16h2.55v2.02h-2.55zM421.7 634.16h5.05v2.02h-5.05zM339.22 636.13h2.55v2.02h-2.55zM349.22 636.13h2.55v2.02h-2.55zM404.21 636.13h2.55v2.02h-2.55zM414.2 636.13h10.05v2.02h-10.05zM56.8 640.08h2.55v2.02h-2.55zM51.8 642.05h2.55v2.02h-2.55zM79.29 642.05h5.05v2.02h-5.05zM136.78 642.05h2.55v2.02h-2.55zM144.27 642.05h2.55v2.02h-2.55zM179.27 642.05h2.55v2.02h-2.55zM189.26 642.05h2.55v2.02h-2.55zM226.75 642.05h2.55v2.02h-2.55zM241.75 642.05h2.55v2.02h-2.55zM246.75 642.05h2.55v2.02h-2.55zM259.24 642.05h5.05v2.02h-5.05zM269.24 642.05h5.05v2.02h-5.05zM309.23 642.05h2.55v2.02h-2.55zM346.72 642.05h5.05v2.02h-5.05zM139.28 644.02h2.55v2.02h-2.55zM164.27 644.02h2.55v2.02h-2.55zM181.77 644.02h12.55v2.02h-12.55zM211.76 644.02h5.05v2.02h-5.05zM281.74 644.02h2.55v2.02h-2.55zM291.74 644.02h5.05v2.02h-5.05zM299.23 644.02h2.55v2.02h-2.55zM304.23 644.02h2.55v2.02h-2.55zM344.22 644.02h2.55v2.02h-2.55zM356.72 644.02h10.05v2.02h-10.05zM376.71 644.02h2.55v2.02h-2.55zM396.71 644.02h2.55v2.02h-2.55zM424.2 644.02h5.05v2.02h-5.05zM139.28 645.99h2.55v2.02h-2.55zM144.27 645.99h2.55v2.02h-2.55zM156.77 645.99h2.55v2.02h-2.55zM161.77 645.99h5.05v2.02h-5.05zM179.27 645.99h2.55v2.02h-2.55zM189.26 645.99h5.05v2.02h-5.05zM231.75 645.99h2.55v2.02h-2.55zM241.75 645.99h2.55v2.02h-2.55zM294.24 645.99h2.55v2.02h-2.55zM299.23 645.99h2.55v2.02h-2.55zM331.73 645.99h2.55v2.02h-2.55zM374.21 645.99h5.05v2.02h-5.05zM381.71 645.99h2.55v2.02h-2.55zM56.8 647.97h2.55v2.02h-2.55zM211.76 647.97h2.55v2.02h-2.55zM279.24 647.97h2.55v2.02h-2.55zM401.71 647.97h2.55v2.02h-2.55zM426.7 647.97h2.55v2.02h-2.55zM214.26 649.94h2.55v2.02h-2.55zM276.74 649.94h2.55v2.02h-2.55zM336.72 649.94h2.55v2.02h-2.55zM341.72 649.94h5.05v2.02h-5.05zM69.29 651.91h2.55v2.02h-2.55zM81.79 651.91h5.05v2.02h-5.05zM179.27 651.91h2.55v2.02h-2.55zM189.26 651.91h2.55v2.02h-2.55zM196.76 651.91h5.05v2.02h-5.05zM301.73 651.91h2.55v2.02h-2.55zM306.73 651.91h2.55v2.02h-2.55zM364.22 651.91h2.55v2.02h-2.55zM384.21 651.91h2.55v2.02h-2.55zM389.21 651.91h2.55v2.02h-2.55zM394.21 651.91h5.05v2.02h-5.05zM74.29 653.88h5.05v2.02h-5.05zM84.29 653.88h5.05v2.02h-5.05zM91.79 653.88h7.55v2.02h-7.55zM149.27 653.88h2.55v2.02h-2.55zM171.77 653.88h10.05v2.02h-10.05zM291.74 653.88h2.55v2.02h-2.55zM306.73 653.88h5.05v2.02h-5.05zM369.22 653.88h2.55v2.02h-2.55zM51.8 655.86h2.55v2.02h-2.55zM59.3 655.86h10.05v2.02h-10.05zM76.79 655.86h2.55v2.02h-2.55zM81.79 655.86h2.55v2.02h-2.55zM101.79 655.86h2.55v2.02h-2.55zM136.78 655.86h5.05v2.02h-5.05zM149.27 655.86h2.55v2.02h-2.55zM154.27 655.86h2.55v2.02h-2.55zM201.76 655.86h2.55v2.02h-2.55zM246.75 655.86h2.55v2.02h-2.55zM261.74 655.86h2.55v2.02h-2.55zM284.24 655.86h5.05v2.02h-5.05zM329.23 655.86h5.05v2.02h-5.05zM341.72 655.86h2.55v2.02h-2.55zM359.22 655.86h5.05v2.02h-5.05zM401.71 655.86h2.55v2.02h-2.55zM426.7 655.86h2.55v2.02h-2.55zM234.25 657.83h2.55v2.02h-2.55zM274.24 657.83h2.55v2.02h-2.55z"/>
<path fill="#880000" d="M116.78 594.72h2.55v2.02h-2.55zM341.72 594.72h5.05v2.02h-5.05zM219.26 596.69h2.55v2.02h-2.55zM274.24 596.69h2.55v2.02h-2.55zM339.22 596.69h2.55v2.02h-2.55zM351.72 596.69h2.55v2.02h-2.55zM216.76 598.66h5.05v2.02h-5.05zM271.74 598.66h2.55v2.02h-2.55zM339.22 598.66h2.55v2.02h-2.55zM404.21 598.66h2.55v2.02h-2.55zM119.28 600.63h2.55v2.02h-2.55zM269.24 600.63h2.55v2.02h-2.55zM336.72 600.63h2.55v2.02h-2.55zM356.72 600.63h2.55v2.02h-2.55zM399.21 600.63h2.55v2.02h-2.55zM411.7 600.63h7.55v2.02h-7.55zM349.22 602.61h5.05v2.02h-5.05zM419.2 602.61h2.55v2.02h-2.55zM226.75 604.58h2.55v2.02h-2.55zM231.75 604.58h2.55v2.02h-2.55zM241.75 604.58h2.55v2.02h-2.55zM271.74 604.58h2.55v2.02h-2.55zM279.24 604.58h5.05v2.02h-5.05zM56.8 606.55h2.55v2.02h-2.55zM89.29 606.55h2.55v2.02h-2.55zM234.25 606.55h2.55v2.02h-2.55zM266.74 606.55h2.55v2.02h-2.55zM276.74 606.55h2.55v2.02h-2.55zM346.72 606.55h5.05v2.02h-5.05zM51.8 608.52h2.55v2.02h-2.55zM124.28 608.52h2.55v2.02h-2.55zM134.28 608.52h2.55v2.02h-2.55zM139.28 608.52h2.55v2.02h-2.55zM199.26 608.52h2.55v2.02h-2.55zM279.24 608.52h2.55v2.02h-2.55zM331.73 608.52h2.55v2.02h-2.55zM364.22 608.52h5.05v2.02h-5.05zM426.7 608.52h2.55v2.02h-2.55zM114.28 610.49h2.55v2.02h-2.55zM226.75 610.49h2.55v2.02h-2.55zM274.24 610.49h2.55v2.02h-2.55zM289.24 610.49h2.55v2.02h-2.55zM294.24 610.49h5.05v2.02h-5.05zM329.23 610.49h5.05v2.02h-5.05zM404.21 610.49h2.55v2.02h-2.55zM119.28 612.47h2.55v2.02h-2.55zM116.78 616.41h2.55v2.02h-2.55zM364.22 628.24h2.55v2.02h-2.55zM134.28 630.22h2.55v2.02h-2.55zM56.8 632.19h2.55v2.02h-2.55zM339.22 632.19h2.55v2.02h-2.55zM356.72 632.19h2.55v2.02h-2.55zM409.21 634.16h2.55v2.02h-2.55zM116.78 636.13h2.55v2.02h-2.55zM146.77 644.02h2.55v2.02h-2.55zM106.78 645.99h2.55v2.02h-2.55zM114.28 645.99h2.55v2.02h-2.55zM126.78 645.99h2.55v2.02h-2.55zM134.28 645.99h2.55v2.02h-2.55zM281.74 645.99h2.55v2.02h-2.55zM359.22 645.99h2.55v2.02h-2.55zM409.21 647.97h5.05v2.02h-5.05zM409.21 649.94h5.05v2.02h-5.05zM56.8 651.91h2.55v2.02h-2.55zM146.77 651.91h2.55v2.02h-2.55zM156.77 651.91h2.55v2.02h-2.55zM164.27 651.91h5.05v2.02h-5.05zM229.25 651.91h2.55v2.02h-2.55zM261.74 651.91h2.55v2.02h-2.55zM276.74 651.91h2.55v2.02h-2.55zM334.22 651.91h2.55v2.02h-2.55zM339.22 651.91h2.55v2.02h-2.55zM406.71 651.91h2.55v2.02h-2.55zM131.78 653.88h2.55v2.02h-2.55zM136.78 653.88h2.55v2.02h-2.55zM224.25 653.88h2.55v2.02h-2.55zM234.25 653.88h2.55v2.02h-2.55zM394.21 653.88h2.55v2.02h-2.55zM399.21 653.88h2.55v2.02h-2.55zM424.2 653.88h5.05v2.02h-5.05zM159.27 655.86h2.55v2.02h-2.55zM216.76 655.86h2.55v2.02h-2.55zM224.25 655.86h2.55v2.02h-2.55zM276.74 655.86h2.55v2.02h-2.55zM414.2 655.86h2.55v2.02h-2.55z"/>
<path fill="#ff2100" d="M274.24 594.72h2.55v2.02h-2.55zM354.22 594.72h2.55v2.02h-2.55zM421.7 594.72h5.05v2.02h-5.05zM76.79 596.69h2.55v2.02h-2.55zM109.28 596.69h2.55v2.02h-2.55zM124.28 596.69h17.55v2.02h-17.55zM234.25 596.69h2.55v2.02h-2.55zM284.24 596.69h2.55v2.02h-2.55zM294.24 596.69h10.05v2.02h-10.05zM371.72 596.69h12.55v2.02h-12.55zM399.21 596.69h2.55v2.02h-2.55zM101.79 598.66h2.55v2.02h-2.55zM161.77 598.66h2.55v2.02h-2.55zM241.75 598.66h2.55v2.02h-2.55zM246.75 598.66h2.55v2.02h-2.55zM254.25 598.66h2.55v2.02h-2.55zM281.74 598.66h2.55v2.02h-2.55zM309.23 598.66h2.55v2.02h-2.55zM386.71 598.66h2.55v2.02h-2.55zM64.3 600.63h2.55v2.02h-2.55zM124.28 600.63h2.55v2.02h-2.55zM221.75 600.63h2.55v2.02h-2.55zM256.75 600.63h2.55v2.02h-2.55zM301.73 600.63h2.55v2.02h-2.55zM374.21 600.63h2.55v2.02h-2.55zM379.21 600.63h2.55v2.02h-2.55zM74.29 602.61h5.05v2.02h-5.05zM81.79 602.61h2.55v2.02h-2.55zM101.79 602.61h2.55v2.02h-2.55zM126.78 602.61h2.55v2.02h-2.55zM134.28 602.61h2.55v2.02h-2.55zM184.26 602.61h5.05v2.02h-5.05zM191.76 602.61h7.55v2.02h-7.55zM256.75 602.61h2.55v2.02h-2.55zM299.23 602.61h2.55v2.02h-2.55zM359.22 602.61h2.55v2.02h-2.55zM366.72 602.61h5.05v2.02h-5.05zM389.21 602.61h2.55v2.02h-2.55zM394.21 602.61h2.55v2.02h-2.55zM49.3 604.58h2.55v2.02h-2.55zM61.8 604.58h2.55v2.02h-2.55zM94.29 604.58h5.05v2.02h-5.05zM109.28 604.58h2.55v2.02h-2.55zM114.28 604.58h2.55v2.02h-2.55zM124.28 604.58h2.55v2.02h-2.55zM144.27 604.58h2.55v2.02h-2.55zM154.27 604.58h2.55v2.02h-2.55zM166.77 604.58h7.55v2.02h-7.55zM176.77 604.58h2.55v2.02h-2.55zM206.76 604.58h2.55v2.02h-2.55zM256.75 604.58h2.55v2.02h-2.55zM371.72 604.58h2.55v2.02h-2.55zM379.21 604.58h2.55v2.02h-2.55zM101.79 606.55h5.05v2.02h-5.05zM124.28 606.55h5.05v2.02h-5.05zM149.27 606.55h2.55v2.02h-2.55zM156.77 606.55h2.55v2.02h-2.55zM189.26 606.55h5.05v2.02h-5.05zM254.25 606.55h2.55v2.02h-2.55zM309.23 606.55h2.55v2.02h-2.55zM329.23 606.55h2.55v2.02h-2.55zM371.72 606.55h2.55v2.02h-2.55zM254.25 608.52h2.55v2.02h-2.55zM249.25 610.49h2.55v2.02h-2.55zM49.3 612.47h2.55v2.02h-2.55zM76.79 612.47h2.55v2.02h-2.55zM84.29 612.47h2.55v2.02h-2.55zM91.79 612.47h2.55v2.02h-2.55zM149.27 612.47h2.55v2.02h-2.55zM181.77 612.47h2.55v2.02h-2.55zM206.76 612.47h5.05v2.02h-5.05zM254.25 612.47h2.55v2.02h-2.55zM266.74 612.47h2.55v2.02h-2.55zM279.24 612.47h2.55v2.02h-2.55zM356.72 612.47h2.55v2.02h-2.55zM379.21 612.47h5.05v2.02h-5.05zM396.71 612.47h2.55v2.02h-2.55zM49.3 614.44h2.55v2.02h-2.55zM121.78 614.44h2.55v2.02h-2.55zM301.73 614.44h2.55v2.02h-2.55zM309.23 614.44h2.55v2.02h-2.55zM349.22 614.44h2.55v2.02h-2.55zM196.76 616.41h2.55v2.02h-2.55zM279.24 616.41h5.05v2.02h-5.05zM341.72 616.41h2.55v2.02h-2.55zM359.22 616.41h2.55v2.02h-2.55zM366.72 616.41h7.55v2.02h-7.55zM56.8 618.38h2.55v2.02h-2.55zM224.25 618.38h2.55v2.02h-2.55zM259.24 618.38h2.55v2.02h-2.55zM349.22 618.38h5.05v2.02h-5.05zM361.72 618.38h2.55v2.02h-2.55zM56.8 620.36h2.55v2.02h-2.55zM256.75 620.36h2.55v2.02h-2.55zM271.74 620.36h2.55v2.02h-2.55zM294.24 620.36h7.55v2.02h-7.55zM111.78 622.33h2.55v2.02h-2.55zM121.78 624.3h5.05v2.02h-5.05zM236.75 624.3h2.55v2.02h-2.55zM279.24 624.3h2.55v2.02h-2.55zM291.74 624.3h2.55v2.02h-2.55zM299.23 624.3h2.55v2.02h-2.55zM329.23 624.3h2.55v2.02h-2.55zM356.72 624.3h2.55v2.02h-2.55zM374.21 624.3h2.55v2.02h-2.55zM379.21 624.3h2.55v2.02h-2.55zM114.28 626.27h2.55v2.02h-2.55zM244.25 626.27h2.55v2.02h-2.55zM301.73 626.27h7.55v2.02h-7.55zM331.73 626.27h5.05v2.02h-5.05zM346.72 626.27h2.55v2.02h-2.55zM351.72 626.27h2.55v2.02h-2.55zM379.21 626.27h2.55v2.02h-2.55zM426.7 626.27h2.55v2.02h-2.55zM51.8 628.24h2.55v2.02h-2.55zM59.3 628.24h2.55v2.02h-2.55zM104.29 628.24h10.05v2.02h-10.05zM121.78 628.24h2.55v2.02h-2.55zM216.76 628.24h2.55v2.02h-2.55zM236.75 628.24h2.55v2.02h-2.55zM254.25 628.24h2.55v2.02h-2.55zM294.24 628.24h2.55v2.02h-2.55zM309.23 628.24h2.55v2.02h-2.55zM394.21 628.24h2.55v2.02h-2.55zM64.3 630.22h7.55v2.02h-7.55zM74.29 630.22h5.05v2.02h-5.05zM126.78 630.22h5.05v2.02h-5.05zM156.77 630.22h2.55v2.02h-2.55zM181.77 630.22h7.55v2.02h-7.55zM196.76 630.22h2.55v2.02h-2.55zM214.26 630.22h15.05v2.02h-15.05zM231.75 630.22h2.55v2.02h-2.55zM241.75 630.22h5.05v2.02h-5.05zM261.74 630.22h2.55v2.02h-2.55zM266.74 630.22h5.05v2.02h-5.05zM274.24 630.22h2.55v2.02h-2.55zM281.74 630.22h2.55v2.02h-2.55zM301.73 630.22h7.55v2.02h-7.55zM326.73 630.22h2.55v2.02h-2.55zM371.72 630.22h2.55v2.02h-2.55zM379.21 630.22h2.55v2.02h-2.55zM221.75 632.19h2.55v2.02h-2.55zM226.75 632.19h2.55v2.02h-2.55zM231.75 632.19h2.55v2.02h-2.55zM314.23 632.19h2.55v2.02h-2.55zM384.21 632.19h2.55v2.02h-2.55zM49.3 634.16h2.55v2.02h-2.55zM59.3 634.16h2.55v2.02h-2.55zM69.29 634.16h2.55v2.02h-2.55zM84.29 634.16h2.55v2.02h-2.55zM196.76 634.16h5.05v2.02h-5.05zM244.25 634.16h2.55v2.02h-2.55zM256.75 634.16h2.55v2.02h-2.55zM379.21 634.16h2.55v2.02h-2.55zM49.3 636.13h2.55v2.02h-2.55zM129.28 636.13h2.55v2.02h-2.55zM149.27 636.13h2.55v2.02h-2.55zM181.77 636.13h2.55v2.02h-2.55zM186.76 636.13h2.55v2.02h-2.55zM209.26 636.13h2.55v2.02h-2.55zM221.75 636.13h2.55v2.02h-2.55zM234.25 636.13h2.55v2.02h-2.55zM379.21 636.13h5.05v2.02h-5.05zM394.21 636.13h5.05v2.02h-5.05zM151.77 638.11h5.05v2.02h-5.05zM69.29 642.05h7.55v2.02h-7.55zM86.79 642.05h7.55v2.02h-7.55zM126.78 642.05h5.05v2.02h-5.05zM174.27 642.05h2.55v2.02h-2.55zM231.75 642.05h2.55v2.02h-2.55zM281.74 642.05h2.55v2.02h-2.55zM289.24 642.05h2.55v2.02h-2.55zM294.24 642.05h2.55v2.02h-2.55zM334.22 642.05h2.55v2.02h-2.55zM371.72 642.05h7.55v2.02h-7.55zM411.7 642.05h2.55v2.02h-2.55zM64.3 644.02h2.55v2.02h-2.55zM254.25 644.02h2.55v2.02h-2.55zM259.24 644.02h2.55v2.02h-2.55zM271.74 644.02h2.55v2.02h-2.55zM311.73 644.02h2.55v2.02h-2.55zM216.76 645.99h2.55v2.02h-2.55zM424.2 645.99h2.55v2.02h-2.55zM49.3 647.97h2.55v2.02h-2.55zM59.3 647.97h5.05v2.02h-5.05zM134.28 647.97h2.55v2.02h-2.55zM181.77 647.97h5.05v2.02h-5.05zM206.76 647.97h2.55v2.02h-2.55zM241.75 647.97h5.05v2.02h-5.05zM309.23 647.97h5.05v2.02h-5.05zM346.72 647.97h2.55v2.02h-2.55zM371.72 647.97h2.55v2.02h-2.55zM51.8 649.94h2.55v2.02h-2.55zM61.8 649.94h2.55v2.02h-2.55zM94.29 649.94h7.55v2.02h-7.55zM121.78 649.94h2.55v2.02h-2.55zM149.27 649.94h2.55v2.02h-2.55zM159.27 649.94h2.55v2.02h-2.55zM186.76 649.94h2.55v2.02h-2.55zM209.26 649.94h2.55v2.02h-2.55zM281.74 649.94h2.55v2.02h-2.55zM331.73 649.94h2.55v2.02h-2.55zM381.71 649.94h2.55v2.02h-2.55zM399.21 649.94h2.55v2.02h-2.55zM416.7 649.94h5.05v2.02h-5.05zM424.2 649.94h5.05v2.02h-5.05zM64.3 651.91h2.55v2.02h-2.55zM314.23 651.91h2.55v2.02h-2.55zM249.25 653.88h2.55v2.02h-2.55zM326.73 653.88h2.55v2.02h-2.55zM106.78 655.86h2.55v2.02h-2.55zM191.76 655.86h2.55v2.02h-2.55zM326.73 655.86h2.55v2.02h-2.55zM349.22 655.86h2.55v2.02h-2.55zM386.71 655.86h2.55v2.02h-2.55zM71.79 657.83h2.55v2.02h-2.55zM109.28 657.83h5.05v2.02h-5.05zM121.78 657.83h2.55v2.02h-2.55zM129.28 657.83h2.55v2.02h-2.55zM146.77 657.83h2.55v2.02h-2.55zM199.26 657.83h5.05v2.02h-5.05zM216.76 657.83h2.55v2.02h-2.55zM239.25 657.83h2.55v2.02h-2.55zM276.74 657.83h2.55v2.02h-2.55zM366.72 657.83h5.05v2.02h-5.05zM406.71 657.83h2.55v2.02h-2.55zM426.7 657.83h2.55v2.02h-2.55z"/>
<path fill="#aa0000" d="M336.72 594.72h2.55v2.02h-2.55zM211.76 596.69h2.55v2.02h-2.55zM226.75 596.69h2.55v2.02h-2.55zM276.74 596.69h2.55v2.02h-2.55zM336.72 596.69h2.55v2.02h-2.55zM411.7 596.69h2.55v2.02h-2.55zM416.7 596.69h7.55v2.02h-7.55zM201.76 598.66h2.55v2.02h-2.55zM331.73 598.66h2.55v2.02h-2.55zM351.72 598.66h2.55v2.02h-2.55zM401.71 598.66h2.55v2.02h-2.55zM424.2 598.66h2.55v2.02h-2.55zM86.79 600.63h5.05v2.02h-5.05zM206.76 600.63h2.55v2.02h-2.55zM211.76 600.63h5.05v2.02h-5.05zM231.75 600.63h2.55v2.02h-2.55zM276.74 600.63h2.55v2.02h-2.55zM334.22 600.63h2.55v2.02h-2.55zM404.21 600.63h2.55v2.02h-2.55zM419.2 600.63h2.55v2.02h-2.55zM59.3 602.61h2.55v2.02h-2.55zM224.25 602.61h2.55v2.02h-2.55zM266.74 602.61h2.55v2.02h-2.55zM334.22 602.61h2.55v2.02h-2.55zM404.21 602.61h2.55v2.02h-2.55zM86.79 604.58h5.05v2.02h-5.05zM216.76 604.58h2.55v2.02h-2.55zM221.75 604.58h5.05v2.02h-5.05zM339.22 604.58h2.55v2.02h-2.55zM409.21 604.58h2.55v2.02h-2.55zM51.8 606.55h2.55v2.02h-2.55zM86.79 606.55h2.55v2.02h-2.55zM111.78 606.55h5.05v2.02h-5.05zM119.28 606.55h2.55v2.02h-2.55zM181.77 606.55h2.55v2.02h-2.55zM204.26 606.55h2.55v2.02h-2.55zM239.25 606.55h2.55v2.02h-2.55zM354.22 606.55h2.55v2.02h-2.55zM406.71 606.55h2.55v2.02h-2.55zM426.7 606.55h2.55v2.02h-2.55zM61.8 608.52h7.55v2.02h-7.55zM79.29 608.52h2.55v2.02h-2.55zM91.79 608.52h2.55v2.02h-2.55zM126.78 608.52h2.55v2.02h-2.55zM141.78 608.52h5.05v2.02h-5.05zM166.77 608.52h5.05v2.02h-5.05zM196.76 608.52h2.55v2.02h-2.55zM281.74 608.52h2.55v2.02h-2.55zM301.73 608.52h2.55v2.02h-2.55zM51.8 610.49h2.55v2.02h-2.55zM66.8 610.49h2.55v2.02h-2.55zM79.29 610.49h2.55v2.02h-2.55zM109.28 610.49h5.05v2.02h-5.05zM149.27 610.49h2.55v2.02h-2.55zM154.27 610.49h5.05v2.02h-5.05zM279.24 610.49h7.55v2.02h-7.55zM299.23 610.49h2.55v2.02h-2.55zM366.72 610.49h2.55v2.02h-2.55zM394.21 610.49h2.55v2.02h-2.55zM64.3 612.47h2.55v2.02h-2.55zM119.28 614.44h2.55v2.02h-2.55zM166.77 628.24h2.55v2.02h-2.55zM174.27 628.24h2.55v2.02h-2.55zM186.76 628.24h5.05v2.02h-5.05zM356.72 628.24h2.55v2.02h-2.55zM366.72 628.24h2.55v2.02h-2.55zM411.7 628.24h5.05v2.02h-5.05zM136.78 630.22h2.55v2.02h-2.55zM359.22 630.22h5.05v2.02h-5.05zM401.71 630.22h5.05v2.02h-5.05zM411.7 630.22h5.05v2.02h-5.05zM421.7 630.22h2.55v2.02h-2.55zM89.29 632.19h2.55v2.02h-2.55zM96.79 632.19h2.55v2.02h-2.55zM159.27 632.19h2.55v2.02h-2.55zM359.22 632.19h2.55v2.02h-2.55zM401.71 632.19h5.05v2.02h-5.05zM409.21 632.19h5.05v2.02h-5.05zM336.72 634.16h10.05v2.02h-10.05zM406.71 634.16h2.55v2.02h-2.55zM411.7 634.16h2.55v2.02h-2.55zM409.21 636.13h2.55v2.02h-2.55zM109.28 642.05h2.55v2.02h-2.55zM224.25 642.05h2.55v2.02h-2.55zM71.79 644.02h5.05v2.02h-5.05zM111.78 644.02h2.55v2.02h-2.55zM121.78 644.02h7.55v2.02h-7.55zM141.78 644.02h2.55v2.02h-2.55zM196.76 644.02h2.55v2.02h-2.55zM206.76 644.02h2.55v2.02h-2.55zM239.25 644.02h5.05v2.02h-5.05zM331.73 644.02h2.55v2.02h-2.55zM346.72 644.02h2.55v2.02h-2.55zM381.71 644.02h7.55v2.02h-7.55zM394.21 644.02h2.55v2.02h-2.55zM414.2 644.02h5.05v2.02h-5.05zM94.29 645.99h7.55v2.02h-7.55zM111.78 645.99h2.55v2.02h-2.55zM124.28 645.99h2.55v2.02h-2.55zM136.78 645.99h2.55v2.02h-2.55zM181.77 645.99h2.55v2.02h-2.55zM204.26 645.99h2.55v2.02h-2.55zM224.25 645.99h2.55v2.02h-2.55zM304.23 645.99h10.05v2.02h-10.05zM356.72 645.99h2.55v2.02h-2.55zM404.21 645.99h2.55v2.02h-2.55zM219.26 647.97h10.05v2.02h-10.05zM406.71 647.97h2.55v2.02h-2.55zM419.2 647.97h2.55v2.02h-2.55zM406.71 649.94h2.55v2.02h-2.55zM49.3 651.91h2.55v2.02h-2.55zM71.79 651.91h5.05v2.02h-5.05zM104.29 651.91h2.55v2.02h-2.55zM134.28 651.91h5.05v2.02h-5.05zM141.78 651.91h2.55v2.02h-2.55zM154.27 651.91h2.55v2.02h-2.55zM191.76 651.91h2.55v2.02h-2.55zM214.26 651.91h2.55v2.02h-2.55zM219.26 651.91h2.55v2.02h-2.55zM256.75 651.91h2.55v2.02h-2.55zM279.24 651.91h2.55v2.02h-2.55zM359.22 651.91h5.05v2.02h-5.05zM404.21 651.91h2.55v2.02h-2.55zM101.79 653.88h2.55v2.02h-2.55zM106.78 653.88h2.55v2.02h-2.55zM114.28 653.88h2.55v2.02h-2.55zM124.28 653.88h7.55v2.02h-7.55zM204.26 653.88h2.55v2.02h-2.55zM339.22 653.88h5.05v2.02h-5.05zM374.21 653.88h10.05v2.02h-10.05zM386.71 653.88h2.55v2.02h-2.55zM396.71 653.88h2.55v2.02h-2.55zM94.29 655.86h2.55v2.02h-2.55zM141.78 655.86h2.55v2.02h-2.55zM184.26 655.86h2.55v2.02h-2.55zM206.76 655.86h2.55v2.02h-2.55zM214.26 655.86h2.55v2.02h-2.55zM229.25 655.86h2.55v2.02h-2.55zM279.24 655.86h2.55v2.02h-2.55zM404.21 655.86h2.55v2.02h-2.55zM119.28 657.83h2.55v2.02h-2.55zM226.75 657.83h2.55v2.02h-2.55z"/>
<path fill="#990000" d="M339.22 594.72h2.55v2.02h-2.55zM346.72 594.72h2.55v2.02h-2.55zM56.8 596.69h2.55v2.02h-2.55zM221.75 596.69h5.05v2.02h-5.05zM266.74 596.69h2.55v2.02h-2.55zM414.2 596.69h2.55v2.02h-2.55zM56.8 598.66h2.55v2.02h-2.55zM119.28 598.66h2.55v2.02h-2.55zM214.26 598.66h2.55v2.02h-2.55zM229.25 598.66h2.55v2.02h-2.55zM266.74 598.66h2.55v2.02h-2.55zM334.22 598.66h5.05v2.02h-5.05zM341.72 598.66h5.05v2.02h-5.05zM209.26 600.63h2.55v2.02h-2.55zM274.24 600.63h2.55v2.02h-2.55zM359.22 600.63h2.55v2.02h-2.55zM61.8 602.61h2.55v2.02h-2.55zM119.28 602.61h2.55v2.02h-2.55zM221.75 602.61h2.55v2.02h-2.55zM336.72 602.61h7.55v2.02h-7.55zM421.7 602.61h2.55v2.02h-2.55zM219.26 604.58h2.55v2.02h-2.55zM234.25 604.58h2.55v2.02h-2.55zM266.74 604.58h5.05v2.02h-5.05zM274.24 604.58h5.05v2.02h-5.05zM341.72 604.58h5.05v2.02h-5.05zM356.72 604.58h2.55v2.02h-2.55zM421.7 604.58h2.55v2.02h-2.55zM184.26 606.55h2.55v2.02h-2.55zM206.76 606.55h5.05v2.02h-5.05zM236.75 606.55h2.55v2.02h-2.55zM279.24 606.55h2.55v2.02h-2.55zM351.72 606.55h2.55v2.02h-2.55zM49.3 608.52h2.55v2.02h-2.55zM59.3 608.52h2.55v2.02h-2.55zM84.29 608.52h2.55v2.02h-2.55zM114.28 608.52h2.55v2.02h-2.55zM121.78 608.52h2.55v2.02h-2.55zM129.28 608.52h5.05v2.02h-5.05zM136.78 608.52h2.55v2.02h-2.55zM146.77 608.52h20.04v2.02h-20.04zM246.75 608.52h2.55v2.02h-2.55zM294.24 608.52h7.55v2.02h-7.55zM304.23 608.52h2.55v2.02h-2.55zM329.23 608.52h2.55v2.02h-2.55zM371.72 608.52h2.55v2.02h-2.55zM389.21 608.52h2.55v2.02h-2.55zM396.71 608.52h7.55v2.02h-7.55zM61.8 610.49h5.05v2.02h-5.05zM151.77 610.49h2.55v2.02h-2.55zM184.26 610.49h2.55v2.02h-2.55zM196.76 610.49h2.55v2.02h-2.55zM224.25 610.49h2.55v2.02h-2.55zM229.25 610.49h5.05v2.02h-5.05zM259.24 610.49h2.55v2.02h-2.55zM276.74 610.49h2.55v2.02h-2.55zM286.74 610.49h2.55v2.02h-2.55zM364.22 610.49h2.55v2.02h-2.55zM54.3 616.41h2.55v2.02h-2.55zM54.3 618.38h2.55v2.02h-2.55zM54.3 620.36h2.55v2.02h-2.55zM191.76 628.24h2.55v2.02h-2.55zM354.22 628.24h2.55v2.02h-2.55zM56.8 630.22h2.55v2.02h-2.55zM174.27 630.22h2.55v2.02h-2.55zM339.22 630.22h2.55v2.02h-2.55zM364.22 630.22h2.55v2.02h-2.55zM406.71 630.22h5.05v2.02h-5.05zM286.74 632.19h2.55v2.02h-2.55zM351.72 634.16h2.55v2.02h-2.55zM56.8 642.05h2.55v2.02h-2.55zM114.28 642.05h2.55v2.02h-2.55zM56.8 644.02h2.55v2.02h-2.55zM131.78 644.02h2.55v2.02h-2.55zM144.27 644.02h2.55v2.02h-2.55zM149.27 644.02h2.55v2.02h-2.55zM166.77 644.02h2.55v2.02h-2.55zM349.22 644.02h2.55v2.02h-2.55zM389.21 644.02h5.05v2.02h-5.05zM101.79 645.99h5.05v2.02h-5.05zM109.28 645.99h2.55v2.02h-2.55zM121.78 645.99h2.55v2.02h-2.55zM206.76 645.99h2.55v2.02h-2.55zM256.75 645.99h2.55v2.02h-2.55zM261.74 645.99h2.55v2.02h-2.55zM361.72 645.99h2.55v2.02h-2.55zM399.21 645.99h5.05v2.02h-5.05zM406.71 645.99h5.05v2.02h-5.05zM216.76 647.97h2.55v2.02h-2.55zM229.25 647.97h5.05v2.02h-5.05zM269.24 647.97h2.55v2.02h-2.55zM274.24 647.97h2.55v2.02h-2.55zM416.7 647.97h2.55v2.02h-2.55zM119.28 649.94h2.55v2.02h-2.55zM51.8 651.91h2.55v2.02h-2.55zM139.28 651.91h2.55v2.02h-2.55zM144.27 651.91h2.55v2.02h-2.55zM149.27 651.91h2.55v2.02h-2.55zM216.76 651.91h2.55v2.02h-2.55zM259.24 651.91h2.55v2.02h-2.55zM419.2 651.91h2.55v2.02h-2.55zM56.8 653.88h2.55v2.02h-2.55zM104.29 653.88h2.55v2.02h-2.55zM199.26 653.88h5.05v2.02h-5.05zM211.76 653.88h2.55v2.02h-2.55zM236.75 653.88h5.05v2.02h-5.05zM261.74 653.88h2.55v2.02h-2.55zM279.24 653.88h2.55v2.02h-2.55zM389.21 653.88h2.55v2.02h-2.55zM56.8 655.86h2.55v2.02h-2.55zM144.27 655.86h2.55v2.02h-2.55zM161.77 655.86h2.55v2.02h-2.55zM209.26 655.86h5.05v2.02h-5.05zM221.75 655.86h2.55v2.02h-2.55zM226.75 655.86h2.55v2.02h-2.55zM239.25 655.86h2.55v2.02h-2.55zM266.74 655.86h2.55v2.02h-2.55zM416.7 655.86h5.05v2.02h-5.05z"/>
<path fill="#220000" d="M54.3 596.69h2.55v2.02h-2.55zM54.3 598.66h2.55v2.02h-2.55zM116.78 598.66h2.55v2.02h-2.55zM416.7 604.58h2.55v2.02h-2.55zM266.74 608.52h2.55v2.02h-2.55zM421.7 608.52h2.55v2.02h-2.55zM416.7 610.49h5.05v2.02h-5.05zM116.78 614.44h2.55v2.02h-2.55zM344.22 628.24h2.55v2.02h-2.55zM54.3 632.19h2.55v2.02h-2.55zM344.22 632.19h2.55v2.02h-2.55zM349.22 632.19h2.55v2.02h-2.55zM54.3 642.05h2.55v2.02h-2.55zM119.28 644.02h2.55v2.02h-2.55zM54.3 651.91h2.55v2.02h-2.55zM409.21 653.88h2.55v2.02h-2.55zM419.2 653.88h2.55v2.02h-2.55z"/>
<path fill="#ed0000" d="M64.3 596.69h2.55v2.02h-2.55zM154.27 596.69h2.55v2.02h-2.55zM166.77 596.69h2.55v2.02h-2.55zM174.27 596.69h2.55v2.02h-2.55zM191.76 596.69h2.55v2.02h-2.55zM196.76 596.69h2.55v2.02h-2.55zM201.76 596.69h7.55v2.02h-7.55zM256.75 596.69h2.55v2.02h-2.55zM304.23 596.69h2.55v2.02h-2.55zM359.22 596.69h2.55v2.02h-2.55zM406.71 596.69h2.55v2.02h-2.55zM64.3 598.66h2.55v2.02h-2.55zM69.29 598.66h2.55v2.02h-2.55zM94.29 598.66h2.55v2.02h-2.55zM144.27 598.66h2.55v2.02h-2.55zM169.27 598.66h7.55v2.02h-7.55zM181.77 598.66h5.05v2.02h-5.05zM259.24 598.66h2.55v2.02h-2.55zM284.24 598.66h12.55v2.02h-12.55zM306.73 598.66h2.55v2.02h-2.55zM71.79 600.63h5.05v2.02h-5.05zM81.79 600.63h2.55v2.02h-2.55zM99.29 600.63h2.55v2.02h-2.55zM104.29 600.63h2.55v2.02h-2.55zM109.28 600.63h2.55v2.02h-2.55zM114.28 600.63h2.55v2.02h-2.55zM121.78 600.63h2.55v2.02h-2.55zM151.77 600.63h2.55v2.02h-2.55zM164.27 600.63h2.55v2.02h-2.55zM174.27 600.63h7.55v2.02h-7.55zM201.76 600.63h2.55v2.02h-2.55zM236.75 600.63h2.55v2.02h-2.55zM389.21 600.63h2.55v2.02h-2.55zM426.7 600.63h2.55v2.02h-2.55zM86.79 602.61h2.55v2.02h-2.55zM91.79 602.61h5.05v2.02h-5.05zM109.28 602.61h2.55v2.02h-2.55zM141.78 602.61h2.55v2.02h-2.55zM146.77 602.61h2.55v2.02h-2.55zM154.27 602.61h2.55v2.02h-2.55zM204.26 602.61h2.55v2.02h-2.55zM211.76 602.61h5.05v2.02h-5.05zM261.74 602.61h2.55v2.02h-2.55zM329.23 602.61h2.55v2.02h-2.55zM399.21 602.61h2.55v2.02h-2.55zM71.79 604.58h5.05v2.02h-5.05zM91.79 604.58h2.55v2.02h-2.55zM149.27 604.58h2.55v2.02h-2.55zM184.26 604.58h2.55v2.02h-2.55zM189.26 604.58h2.55v2.02h-2.55zM211.76 604.58h2.55v2.02h-2.55zM309.23 604.58h2.55v2.02h-2.55zM369.22 604.58h2.55v2.02h-2.55zM389.21 604.58h2.55v2.02h-2.55zM396.71 604.58h2.55v2.02h-2.55zM59.3 606.55h12.55v2.02h-12.55zM99.29 606.55h2.55v2.02h-2.55zM244.25 606.55h2.55v2.02h-2.55zM286.74 606.55h2.55v2.02h-2.55zM291.74 606.55h2.55v2.02h-2.55zM304.23 606.55h2.55v2.02h-2.55zM364.22 606.55h2.55v2.02h-2.55zM401.71 606.55h2.55v2.02h-2.55zM94.29 608.52h2.55v2.02h-2.55zM99.29 608.52h2.55v2.02h-2.55zM104.29 608.52h2.55v2.02h-2.55zM184.26 608.52h2.55v2.02h-2.55zM286.74 608.52h5.05v2.02h-5.05zM314.23 608.52h2.55v2.02h-2.55zM71.79 610.49h2.55v2.02h-2.55zM96.79 610.49h2.55v2.02h-2.55zM131.78 610.49h2.55v2.02h-2.55zM136.78 610.49h2.55v2.02h-2.55zM309.23 610.49h2.55v2.02h-2.55zM386.71 610.49h2.55v2.02h-2.55zM61.8 612.47h2.55v2.02h-2.55zM71.79 612.47h2.55v2.02h-2.55zM94.29 612.47h7.55v2.02h-7.55zM124.28 612.47h2.55v2.02h-2.55zM144.27 612.47h2.55v2.02h-2.55zM166.77 612.47h12.55v2.02h-12.55zM199.26 612.47h5.05v2.02h-5.05zM226.75 612.47h7.55v2.02h-7.55zM236.75 612.47h7.55v2.02h-7.55zM259.24 612.47h2.55v2.02h-2.55zM264.24 612.47h2.55v2.02h-2.55zM294.24 612.47h2.55v2.02h-2.55zM299.23 612.47h2.55v2.02h-2.55zM339.22 612.47h2.55v2.02h-2.55zM351.72 612.47h2.55v2.02h-2.55zM366.72 612.47h7.55v2.02h-7.55zM426.7 612.47h2.55v2.02h-2.55zM51.8 614.44h2.55v2.02h-2.55zM104.29 614.44h2.55v2.02h-2.55zM114.28 614.44h2.55v2.02h-2.55zM266.74 614.44h5.05v2.02h-5.05zM291.74 614.44h7.55v2.02h-7.55zM304.23 614.44h5.05v2.02h-5.05zM364.22 614.44h2.55v2.02h-2.55zM344.22 620.36h2.55v2.02h-2.55zM56.8 622.33h2.55v2.02h-2.55zM116.78 624.3h2.55v2.02h-2.55zM301.73 624.3h2.55v2.02h-2.55zM349.22 624.3h2.55v2.02h-2.55zM119.28 626.27h2.55v2.02h-2.55zM61.8 628.24h2.55v2.02h-2.55zM66.8 628.24h7.55v2.02h-7.55zM76.79 628.24h2.55v2.02h-2.55zM136.78 628.24h5.05v2.02h-5.05zM154.27 628.24h2.55v2.02h-2.55zM201.76 628.24h10.05v2.02h-10.05zM264.24 628.24h2.55v2.02h-2.55zM269.24 628.24h2.55v2.02h-2.55zM276.74 628.24h2.55v2.02h-2.55zM281.74 628.24h2.55v2.02h-2.55zM329.23 628.24h2.55v2.02h-2.55zM336.72 628.24h2.55v2.02h-2.55zM374.21 628.24h5.05v2.02h-5.05zM426.7 628.24h2.55v2.02h-2.55zM84.29 630.22h5.05v2.02h-5.05zM106.78 630.22h2.55v2.02h-2.55zM114.28 630.22h2.55v2.02h-2.55zM131.78 630.22h2.55v2.02h-2.55zM144.27 630.22h2.55v2.02h-2.55zM154.27 630.22h2.55v2.02h-2.55zM194.26 630.22h2.55v2.02h-2.55zM249.25 630.22h2.55v2.02h-2.55zM259.24 630.22h2.55v2.02h-2.55zM291.74 630.22h2.55v2.02h-2.55zM296.73 630.22h2.55v2.02h-2.55zM79.29 632.19h2.55v2.02h-2.55zM104.29 632.19h5.05v2.02h-5.05zM114.28 632.19h2.55v2.02h-2.55zM131.78 632.19h5.05v2.02h-5.05zM141.78 632.19h2.55v2.02h-2.55zM164.27 632.19h2.55v2.02h-2.55zM186.76 632.19h5.05v2.02h-5.05zM209.26 632.19h2.55v2.02h-2.55zM219.26 632.19h2.55v2.02h-2.55zM269.24 632.19h2.55v2.02h-2.55zM279.24 632.19h2.55v2.02h-2.55zM291.74 632.19h2.55v2.02h-2.55zM299.23 632.19h2.55v2.02h-2.55zM334.22 632.19h2.55v2.02h-2.55zM371.72 632.19h5.05v2.02h-5.05zM51.8 634.16h2.55v2.02h-2.55zM129.28 634.16h2.55v2.02h-2.55zM156.77 634.16h7.55v2.02h-7.55zM179.27 634.16h2.55v2.02h-2.55zM206.76 634.16h5.05v2.02h-5.05zM216.76 634.16h5.05v2.02h-5.05zM274.24 634.16h5.05v2.02h-5.05zM281.74 634.16h2.55v2.02h-2.55zM356.72 634.16h2.55v2.02h-2.55zM391.71 634.16h2.55v2.02h-2.55zM396.71 634.16h2.55v2.02h-2.55zM401.71 634.16h2.55v2.02h-2.55zM419.2 634.16h2.55v2.02h-2.55zM119.28 636.13h2.55v2.02h-2.55zM424.2 636.13h2.55v2.02h-2.55zM56.8 638.11h2.55v2.02h-2.55zM64.3 642.05h2.55v2.02h-2.55zM131.78 642.05h5.05v2.02h-5.05zM139.28 642.05h2.55v2.02h-2.55zM146.77 642.05h2.55v2.02h-2.55zM156.77 642.05h2.55v2.02h-2.55zM161.77 642.05h2.55v2.02h-2.55zM176.77 642.05h2.55v2.02h-2.55zM191.76 642.05h7.55v2.02h-7.55zM206.76 642.05h7.55v2.02h-7.55zM219.26 642.05h2.55v2.02h-2.55zM229.25 642.05h2.55v2.02h-2.55zM236.75 642.05h5.05v2.02h-5.05zM249.25 642.05h5.05v2.02h-5.05zM256.75 642.05h2.55v2.02h-2.55zM264.24 642.05h5.05v2.02h-5.05zM274.24 642.05h2.55v2.02h-2.55zM306.73 642.05h2.55v2.02h-2.55zM311.73 642.05h2.55v2.02h-2.55zM344.22 642.05h2.55v2.02h-2.55zM354.22 642.05h2.55v2.02h-2.55zM359.22 642.05h2.55v2.02h-2.55zM389.21 642.05h7.55v2.02h-7.55zM399.21 642.05h2.55v2.02h-2.55zM419.2 642.05h2.55v2.02h-2.55zM59.3 644.02h2.55v2.02h-2.55zM76.79 644.02h2.55v2.02h-2.55zM86.79 644.02h2.55v2.02h-2.55zM91.79 644.02h10.05v2.02h-10.05zM136.78 644.02h2.55v2.02h-2.55zM154.27 644.02h2.55v2.02h-2.55zM161.77 644.02h2.55v2.02h-2.55zM179.27 644.02h2.55v2.02h-2.55zM216.76 644.02h5.05v2.02h-5.05zM224.25 644.02h2.55v2.02h-2.55zM236.75 644.02h2.55v2.02h-2.55zM246.75 644.02h2.55v2.02h-2.55zM264.24 644.02h5.05v2.02h-5.05zM274.24 644.02h5.05v2.02h-5.05zM286.74 644.02h2.55v2.02h-2.55zM306.73 644.02h2.55v2.02h-2.55zM326.73 644.02h2.55v2.02h-2.55zM404.21 644.02h2.55v2.02h-2.55zM49.3 645.99h2.55v2.02h-2.55zM61.8 645.99h2.55v2.02h-2.55zM69.29 645.99h7.55v2.02h-7.55zM79.29 645.99h7.55v2.02h-7.55zM91.79 645.99h2.55v2.02h-2.55zM149.27 645.99h7.55v2.02h-7.55zM244.25 645.99h2.55v2.02h-2.55zM251.75 645.99h2.55v2.02h-2.55zM314.23 645.99h2.55v2.02h-2.55zM334.22 645.99h2.55v2.02h-2.55zM354.22 645.99h2.55v2.02h-2.55zM371.72 645.99h2.55v2.02h-2.55zM379.21 645.99h2.55v2.02h-2.55zM414.2 645.99h2.55v2.02h-2.55zM126.78 647.97h5.05v2.02h-5.05zM236.75 647.97h2.55v2.02h-2.55zM256.75 647.97h2.55v2.02h-2.55zM281.74 647.97h5.05v2.02h-5.05zM351.72 647.97h2.55v2.02h-2.55zM369.22 647.97h2.55v2.02h-2.55zM166.77 649.94h10.05v2.02h-10.05zM221.75 649.94h5.05v2.02h-5.05zM261.74 649.94h2.55v2.02h-2.55zM274.24 649.94h2.55v2.02h-2.55zM334.22 649.94h2.55v2.02h-2.55zM339.22 649.94h2.55v2.02h-2.55zM401.71 649.94h2.55v2.02h-2.55zM79.29 651.91h2.55v2.02h-2.55zM86.79 651.91h2.55v2.02h-2.55zM91.79 651.91h7.55v2.02h-7.55zM114.28 651.91h2.55v2.02h-2.55zM181.77 651.91h2.55v2.02h-2.55zM239.25 651.91h5.05v2.02h-5.05zM254.25 651.91h2.55v2.02h-2.55zM304.23 651.91h2.55v2.02h-2.55zM311.73 651.91h2.55v2.02h-2.55zM346.72 651.91h2.55v2.02h-2.55zM354.22 651.91h2.55v2.02h-2.55zM381.71 651.91h2.55v2.02h-2.55zM399.21 651.91h2.55v2.02h-2.55zM424.2 651.91h5.05v2.02h-5.05zM49.3 653.88h2.55v2.02h-2.55zM59.3 653.88h2.55v2.02h-2.55zM79.29 653.88h5.05v2.02h-5.05zM141.78 653.88h7.55v2.02h-7.55zM181.77 653.88h5.05v2.02h-5.05zM194.26 653.88h2.55v2.02h-2.55zM244.25 653.88h2.55v2.02h-2.55zM256.75 653.88h2.55v2.02h-2.55zM284.24 653.88h2.55v2.02h-2.55zM49.3 655.86h2.55v2.02h-2.55zM69.29 655.86h2.55v2.02h-2.55zM79.29 655.86h2.55v2.02h-2.55zM124.28 655.86h5.05v2.02h-5.05zM134.28 655.86h2.55v2.02h-2.55zM166.77 655.86h12.55v2.02h-12.55zM199.26 655.86h2.55v2.02h-2.55zM289.24 655.86h5.05v2.02h-5.05zM299.23 655.86h2.55v2.02h-2.55zM304.23 655.86h2.55v2.02h-2.55zM356.72 655.86h2.55v2.02h-2.55zM389.21 655.86h2.55v2.02h-2.55zM396.71 655.86h5.05v2.02h-5.05zM219.26 657.83h2.55v2.02h-2.55zM266.74 657.83h2.55v2.02h-2.55zM409.21 657.83h5.05v2.02h-5.05z"/>
<path fill="#550000" d="M116.78 596.69h2.55v2.02h-2.55zM409.21 598.66h5.05v2.02h-5.05zM416.7 598.66h2.55v2.02h-2.55zM341.72 600.63h2.55v2.02h-2.55zM56.8 602.61h2.55v2.02h-2.55zM271.74 602.61h2.55v2.02h-2.55zM346.72 602.61h2.55v2.02h-2.55zM416.7 602.61h2.55v2.02h-2.55zM349.22 604.58h2.55v2.02h-2.55zM419.2 604.58h2.55v2.02h-2.55zM274.24 606.55h2.55v2.02h-2.55zM344.22 606.55h2.55v2.02h-2.55zM411.7 606.55h2.55v2.02h-2.55zM86.79 608.52h5.05v2.02h-5.05zM209.26 608.52h10.05v2.02h-10.05zM229.25 608.52h2.55v2.02h-2.55zM244.25 608.52h2.55v2.02h-2.55zM274.24 608.52h2.55v2.02h-2.55zM339.22 608.52h5.05v2.02h-5.05zM349.22 608.52h2.55v2.02h-2.55zM404.21 608.52h2.55v2.02h-2.55zM424.2 608.52h2.55v2.02h-2.55zM56.8 610.49h2.55v2.02h-2.55zM119.28 610.49h2.55v2.02h-2.55zM206.76 610.49h2.55v2.02h-2.55zM211.76 610.49h5.05v2.02h-5.05zM264.24 610.49h2.55v2.02h-2.55zM336.72 610.49h2.55v2.02h-2.55zM351.72 610.49h7.55v2.02h-7.55zM406.71 610.49h2.55v2.02h-2.55zM424.2 610.49h2.55v2.02h-2.55zM54.3 628.24h2.55v2.02h-2.55zM349.22 628.24h2.55v2.02h-2.55zM119.28 630.22h2.55v2.02h-2.55zM341.72 630.22h2.55v2.02h-2.55zM54.3 636.13h2.55v2.02h-2.55zM56.8 645.99h2.55v2.02h-2.55zM209.26 645.99h2.55v2.02h-2.55zM266.74 645.99h2.55v2.02h-2.55zM276.74 645.99h5.05v2.02h-5.05zM54.3 649.94h2.55v2.02h-2.55zM116.78 649.94h2.55v2.02h-2.55zM119.28 651.91h2.55v2.02h-2.55zM171.77 651.91h2.55v2.02h-2.55zM264.24 651.91h7.55v2.02h-7.55zM269.24 653.88h7.55v2.02h-7.55zM269.24 655.86h2.55v2.02h-2.55zM406.71 655.86h2.55v2.02h-2.55z"/>
<path fill="#650000" d="M214.26 596.69h5.05v2.02h-5.05zM271.74 596.69h2.55v2.02h-2.55zM344.22 596.69h2.55v2.02h-2.55zM224.25 598.66h2.55v2.02h-2.55zM269.24 598.66h2.55v2.02h-2.55zM346.72 598.66h5.05v2.02h-5.05zM406.71 598.66h2.55v2.02h-2.55zM414.2 598.66h2.55v2.02h-2.55zM421.7 598.66h2.55v2.02h-2.55zM339.22 600.63h2.55v2.02h-2.55zM354.22 600.63h2.55v2.02h-2.55zM269.24 602.61h2.55v2.02h-2.55zM274.24 602.61h2.55v2.02h-2.55zM56.8 604.58h2.55v2.02h-2.55zM116.78 604.58h2.55v2.02h-2.55zM229.25 604.58h2.55v2.02h-2.55zM239.25 604.58h2.55v2.02h-2.55zM214.26 606.55h2.55v2.02h-2.55zM229.25 606.55h2.55v2.02h-2.55zM269.24 606.55h2.55v2.02h-2.55zM341.72 606.55h2.55v2.02h-2.55zM409.21 606.55h2.55v2.02h-2.55zM424.2 606.55h2.55v2.02h-2.55zM206.76 608.52h2.55v2.02h-2.55zM231.75 608.52h2.55v2.02h-2.55zM236.75 608.52h5.05v2.02h-5.05zM276.74 608.52h2.55v2.02h-2.55zM351.72 608.52h2.55v2.02h-2.55zM356.72 608.52h2.55v2.02h-2.55zM199.26 610.49h2.55v2.02h-2.55zM209.26 610.49h2.55v2.02h-2.55zM261.74 610.49h2.55v2.02h-2.55zM269.24 610.49h5.05v2.02h-5.05zM334.22 610.49h2.55v2.02h-2.55zM359.22 610.49h2.55v2.02h-2.55zM54.3 612.47h2.55v2.02h-2.55zM54.3 622.33h2.55v2.02h-2.55zM116.78 626.27h2.55v2.02h-2.55zM341.72 628.24h2.55v2.02h-2.55zM354.22 630.22h2.55v2.02h-2.55zM354.22 632.19h2.55v2.02h-2.55zM349.22 634.16h2.55v2.02h-2.55zM114.28 644.02h2.55v2.02h-2.55zM264.24 645.99h2.55v2.02h-2.55zM116.78 647.97h2.55v2.02h-2.55zM159.27 651.91h2.55v2.02h-2.55zM271.74 651.91h2.55v2.02h-2.55zM336.72 651.91h2.55v2.02h-2.55zM411.7 651.91h7.55v2.02h-7.55zM119.28 653.88h2.55v2.02h-2.55zM216.76 653.88h2.55v2.02h-2.55zM391.71 653.88h2.55v2.02h-2.55zM406.71 653.88h2.55v2.02h-2.55zM421.7 653.88h2.55v2.02h-2.55zM96.79 655.86h2.55v2.02h-2.55zM119.28 655.86h2.55v2.02h-2.55zM274.24 655.86h2.55v2.02h-2.55zM411.7 655.86h2.55v2.02h-2.55zM54.3 657.83h2.55v2.02h-2.55z"/>
<path fill="#760000" d="M269.24 596.69h2.55v2.02h-2.55zM341.72 596.69h2.55v2.02h-2.55zM346.72 596.69h5.05v2.02h-5.05zM221.75 598.66h2.55v2.02h-2.55zM226.75 598.66h2.55v2.02h-2.55zM56.8 600.63h2.55v2.02h-2.55zM271.74 600.63h2.55v2.02h-2.55zM401.71 600.63h2.55v2.02h-2.55zM344.22 602.61h2.55v2.02h-2.55zM236.75 604.58h2.55v2.02h-2.55zM346.72 604.58h2.55v2.02h-2.55zM354.22 604.58h2.55v2.02h-2.55zM411.7 604.58h2.55v2.02h-2.55zM211.76 606.55h2.55v2.02h-2.55zM216.76 606.55h12.55v2.02h-12.55zM231.75 606.55h2.55v2.02h-2.55zM201.76 608.52h5.05v2.02h-5.05zM234.25 608.52h2.55v2.02h-2.55zM261.74 608.52h2.55v2.02h-2.55zM306.73 608.52h5.05v2.02h-5.05zM334.22 608.52h5.05v2.02h-5.05zM354.22 608.52h2.55v2.02h-2.55zM361.72 608.52h2.55v2.02h-2.55zM369.22 608.52h2.55v2.02h-2.55zM391.71 608.52h5.05v2.02h-5.05zM219.26 610.49h5.05v2.02h-5.05zM291.74 610.49h2.55v2.02h-2.55zM361.72 610.49h2.55v2.02h-2.55zM426.7 610.49h2.55v2.02h-2.55zM116.78 618.38h2.55v2.02h-2.55zM116.78 620.36h2.55v2.02h-2.55zM54.3 624.3h2.55v2.02h-2.55zM351.72 628.24h2.55v2.02h-2.55zM359.22 628.24h5.05v2.02h-5.05zM356.72 630.22h2.55v2.02h-2.55zM119.28 632.19h2.55v2.02h-2.55zM346.72 634.16h2.55v2.02h-2.55zM54.3 640.08h2.55v2.02h-2.55zM119.28 642.05h2.55v2.02h-2.55zM129.28 644.02h2.55v2.02h-2.55zM271.74 647.97h2.55v2.02h-2.55zM414.2 647.97h2.55v2.02h-2.55zM161.77 651.91h2.55v2.02h-2.55zM169.27 651.91h2.55v2.02h-2.55zM231.75 651.91h5.05v2.02h-5.05zM274.24 651.91h2.55v2.02h-2.55zM409.21 651.91h2.55v2.02h-2.55zM134.28 653.88h2.55v2.02h-2.55zM214.26 653.88h2.55v2.02h-2.55zM219.26 653.88h5.05v2.02h-5.05zM226.75 653.88h7.55v2.02h-7.55zM264.24 653.88h2.55v2.02h-2.55zM276.74 653.88h2.55v2.02h-2.55zM401.71 653.88h5.05v2.02h-5.05zM219.26 655.86h2.55v2.02h-2.55z"/>
<path fill="#320000" d="M419.2 598.66h2.55v2.02h-2.55zM344.22 600.63h2.55v2.02h-2.55zM351.72 604.58h2.55v2.02h-2.55zM414.2 604.58h2.55v2.02h-2.55zM414.2 606.55h7.55v2.02h-7.55zM264.24 608.52h2.55v2.02h-2.55zM271.74 608.52h2.55v2.02h-2.55zM346.72 608.52h2.55v2.02h-2.55zM201.76 610.49h2.55v2.02h-2.55zM339.22 610.49h10.05v2.02h-10.05zM411.7 610.49h2.55v2.02h-2.55zM421.7 610.49h2.55v2.02h-2.55zM54.3 614.44h2.55v2.02h-2.55zM346.72 628.24h2.55v2.02h-2.55zM346.72 630.22h7.55v2.02h-7.55zM351.72 632.19h2.55v2.02h-2.55zM54.3 634.16h2.55v2.02h-2.55zM119.28 645.99h2.55v2.02h-2.55zM269.24 645.99h2.55v2.02h-2.55zM54.3 647.97h2.55v2.02h-2.55zM54.3 653.88h2.55v2.02h-2.55zM54.3 655.86h2.55v2.02h-2.55z"/>
<path fill="#000000" d="M54.3 600.63h2.55v2.02h-2.55zM346.72 600.63h5.05v2.02h-5.05zM54.3 602.61h2.55v2.02h-2.55zM116.78 602.61h2.55v2.02h-2.55zM54.3 604.58h2.55v2.02h-2.55zM54.3 606.55h2.55v2.02h-2.55zM116.78 606.55h2.55v2.02h-2.55zM54.3 608.52h2.55v2.02h-2.55zM116.78 608.52h2.55v2.02h-2.55zM409.21 608.52h12.55v2.02h-12.55zM54.3 610.49h2.55v2.02h-2.55zM116.78 610.49h2.55v2.02h-2.55zM116.78 612.47h2.55v2.02h-2.55zM116.78 630.22h2.55v2.02h-2.55zM116.78 642.05h2.55v2.02h-2.55zM116.78 644.02h2.55v2.02h-2.55zM54.3 645.99h2.55v2.02h-2.55zM116.78 645.99h2.55v2.02h-2.55zM116.78 651.91h2.55v2.02h-2.55zM116.78 653.88h2.55v2.02h-2.55zM414.2 653.88h5.05v2.02h-5.05z"/>
<path fill="#110000" d="M116.78 600.63h2.55v2.02h-2.55zM351.72 600.63h2.55v2.02h-2.55zM269.24 608.52h2.55v2.02h-2.55zM406.71 608.52h2.55v2.02h-2.55zM414.2 610.49h2.55v2.02h-2.55zM54.3 630.22h2.55v2.02h-2.55zM116.78 632.19h2.55v2.02h-2.55zM346.72 632.19h2.55v2.02h-2.55zM54.3 644.02h2.55v2.02h-2.55zM411.7 653.88h2.55v2.02h-2.55zM116.78 655.86h2.55v2.02h-2.55z"/>
<path fill="#440000" d="M406.71 602.61h10.05v2.02h-10.05zM271.74 606.55h2.55v2.02h-2.55zM421.7 606.55h2.55v2.02h-2.55zM56.8 608.52h2.55v2.02h-2.55zM119.28 608.52h2.55v2.02h-2.55zM219.26 608.52h10.05v2.02h-10.05zM241.75 608.52h2.55v2.02h-2.55zM344.22 608.52h2.55v2.02h-2.55zM359.22 608.52h2.55v2.02h-2.55zM204.26 610.49h2.55v2.02h-2.55zM216.76 610.49h2.55v2.02h-2.55zM266.74 610.49h2.55v2.02h-2.55zM349.22 610.49h2.55v2.02h-2.55zM409.21 610.49h2.55v2.02h-2.55zM116.78 622.33h2.55v2.02h-2.55zM116.78 628.24h2.55v2.02h-2.55zM344.22 630.22h2.55v2.02h-2.55zM341.72 632.19h2.55v2.02h-2.55zM54.3 638.11h2.55v2.02h-2.55zM129.28 645.99h5.05v2.02h-5.05zM271.74 645.99h5.05v2.02h-5.05zM266.74 653.88h2.55v2.02h-2.55zM271.74 655.86h2.55v2.02h-2.55zM409.21 655.86h2.55v2.02h-2.55zM116.78 657.83h2.55v2.02h-2.55z"/>
</g>
<rect x="49.3" y="588.5" width="379.9" height="71.3" fill="none" stroke="#aaa" stroke-width="0.6"/>
<line x1="106.5" y1="588.8" x2="106.5" y2="591" stroke="#444" stroke-width="0.7" />
<line x1="106.5" y1="659.8" x2="106.5" y2="657.6" stroke="#444" stroke-width="0.7" />
<line x1="164.3" y1="588.8" x2="164.3" y2="591" stroke="#444" stroke-width="0.7" />
<line x1="164.3" y1="659.8" x2="164.3" y2="657.6" stroke="#444" stroke-width="0.7" />
<line x1="222.1" y1="588.8" x2="222.1" y2="591" stroke="#444" stroke-width="0.7" />
<line x1="222.1" y1="659.8" x2="222.1" y2="657.6" stroke="#444" stroke-width="0.7" />
<line x1="279.9" y1="588.8" x2="279.9" y2="591" stroke="#444" stroke-width="0.7" />
<line x1="279.9" y1="659.8" x2="279.9" y2="657.6" stroke="#444" stroke-width="0.7" />
<line x1="337.7" y1="588.8" x2="337.7" y2="591" stroke="#444" stroke-width="0.7" />
<line x1="337.7" y1="659.8" x2="337.7" y2="657.6" stroke="#444" stroke-width="0.7" />
<line x1="395.5" y1="588.8" x2="395.5" y2="591" stroke="#444" stroke-width="0.7" />
<line x1="395.5" y1="659.8" x2="395.5" y2="657.6" stroke="#444" stroke-width="0.7" />
<text x="43.8" y="611.8" font-size="10.6" text-anchor="end" fill="#111" >10</text>
<text x="43.8" y="632" font-size="10.6" text-anchor="end" fill="#111" >20</text>
<text x="43.8" y="651.5" font-size="10.6" text-anchor="end" fill="#111" >30</text>
<text transform="translate(25.8,626) rotate(-90)" font-size="11.8" text-anchor="middle" fill="#111">measurement</text>
<text x="39.3" y="672.5" font-size="10.7" text-anchor="start" fill="#111" >457</text>
<text x="441" y="671" font-size="11.8" text-anchor="end" fill="#111" >1673</text>
<text x="188.2" y="677.4" font-size="11.8" text-anchor="start" fill="#111" >wavenumber (cm<tspan dy="-3.8" font-size="7.5">-1</tspan><tspan dy="3.8">)</tspan></text>
<text x="14.4" y="711" font-size="12.6" text-anchor="start" fill="#111" >(iii)</text>
<rect x="26.5" y="717.5" width="19.4" height="121.3" fill="#dce9f5" stroke="#a9c9e8" stroke-width="1" />
<rect x="211" y="717.5" width="18.9" height="121.3" fill="#e2f2d8" stroke="#a9d38e" stroke-width="1" />
<text transform="translate(40.2,778) rotate(-90)" font-size="12" text-anchor="middle" fill="#111" font-style="italic">original signal S<tspan font-size="8" dy="2.5">0</tspan></text>
<text transform="translate(214.8,778) rotate(90)" font-size="12" text-anchor="middle" fill="#111" font-style="italic">recovered signal S<tspan font-size="8" dy="2.5">R</tspan></text>
<line x1="57.3" y1="731.6" x2="90.4" y2="742" stroke="#666" stroke-width="0.6" />
<line x1="57.3" y1="731.6" x2="90.4" y2="764.2" stroke="#666" stroke-width="0.6" />
<line x1="57.3" y1="731.6" x2="90.4" y2="786.2" stroke="#666" stroke-width="0.6" />
<line x1="57.3" y1="731.6" x2="90.4" y2="808.3" stroke="#666" stroke-width="0.6" />
<line x1="57.3" y1="753.5" x2="90.4" y2="742" stroke="#666" stroke-width="0.6" />
<line x1="57.3" y1="753.5" x2="90.4" y2="764.2" stroke="#666" stroke-width="0.6" />
<line x1="57.3" y1="753.5" x2="90.4" y2="786.2" stroke="#666" stroke-width="0.6" />
<line x1="57.3" y1="753.5" x2="90.4" y2="808.3" stroke="#666" stroke-width="0.6" />
<line x1="57.3" y1="775.6" x2="90.4" y2="742" stroke="#666" stroke-width="0.6" />
<line x1="57.3" y1="775.6" x2="90.4" y2="764.2" stroke="#666" stroke-width="0.6" />
<line x1="57.3" y1="775.6" x2="90.4" y2="786.2" stroke="#666" stroke-width="0.6" />
<line x1="57.3" y1="775.6" x2="90.4" y2="808.3" stroke="#666" stroke-width="0.6" />
<line x1="57.3" y1="797.6" x2="90.4" y2="742" stroke="#666" stroke-width="0.6" />
<line x1="57.3" y1="797.6" x2="90.4" y2="764.2" stroke="#666" stroke-width="0.6" />
<line x1="57.3" y1="797.6" x2="90.4" y2="786.2" stroke="#666" stroke-width="0.6" />
<line x1="57.3" y1="797.6" x2="90.4" y2="808.3" stroke="#666" stroke-width="0.6" />
<line x1="57.3" y1="819.8" x2="90.4" y2="742" stroke="#666" stroke-width="0.6" />
<line x1="57.3" y1="819.8" x2="90.4" y2="764.2" stroke="#666" stroke-width="0.6" />
<line x1="57.3" y1="819.8" x2="90.4" y2="786.2" stroke="#666" stroke-width="0.6" />
<line x1="57.3" y1="819.8" x2="90.4" y2="808.3" stroke="#666" stroke-width="0.6" />
<line x1="90.4" y1="742" x2="113.2" y2="752.8" stroke="#aaa" stroke-width="0.6" />
<line x1="90.4" y1="742" x2="113.2" y2="775" stroke="#aaa" stroke-width="0.6" />
<line x1="90.4" y1="742" x2="113.2" y2="796.9" stroke="#aaa" stroke-width="0.6" />
<line x1="90.4" y1="764.2" x2="113.2" y2="752.8" stroke="#aaa" stroke-width="0.6" />
<line x1="90.4" y1="764.2" x2="113.2" y2="775" stroke="#aaa" stroke-width="0.6" />
<line x1="90.4" y1="764.2" x2="113.2" y2="796.9" stroke="#aaa" stroke-width="0.6" />
<line x1="90.4" y1="786.2" x2="113.2" y2="752.8" stroke="#aaa" stroke-width="0.6" />
<line x1="90.4" y1="786.2" x2="113.2" y2="775" stroke="#aaa" stroke-width="0.6" />
<line x1="90.4" y1="786.2" x2="113.2" y2="796.9" stroke="#aaa" stroke-width="0.6" />
<line x1="90.4" y1="808.3" x2="113.2" y2="752.8" stroke="#aaa" stroke-width="0.6" />
<line x1="90.4" y1="808.3" x2="113.2" y2="775" stroke="#aaa" stroke-width="0.6" />
<line x1="90.4" y1="808.3" x2="113.2" y2="796.9" stroke="#aaa" stroke-width="0.6" />
<line x1="145.4" y1="752.8" x2="167.9" y2="742" stroke="#bbb" stroke-width="0.6" />
<line x1="145.4" y1="752.8" x2="167.9" y2="764.2" stroke="#bbb" stroke-width="0.6" />
<line x1="145.4" y1="752.8" x2="167.9" y2="786.2" stroke="#bbb" stroke-width="0.6" />
<line x1="145.4" y1="752.8" x2="167.9" y2="808.3" stroke="#bbb" stroke-width="0.6" />
<line x1="145.4" y1="775" x2="167.9" y2="742" stroke="#bbb" stroke-width="0.6" />
<line x1="145.4" y1="775" x2="167.9" y2="764.2" stroke="#bbb" stroke-width="0.6" />
<line x1="145.4" y1="775" x2="167.9" y2="786.2" stroke="#bbb" stroke-width="0.6" />
<line x1="145.4" y1="775" x2="167.9" y2="808.3" stroke="#bbb" stroke-width="0.6" />
<line x1="145.4" y1="796.9" x2="167.9" y2="742" stroke="#bbb" stroke-width="0.6" />
<line x1="145.4" y1="796.9" x2="167.9" y2="764.2" stroke="#bbb" stroke-width="0.6" />
<line x1="145.4" y1="796.9" x2="167.9" y2="786.2" stroke="#bbb" stroke-width="0.6" />
<line x1="145.4" y1="796.9" x2="167.9" y2="808.3" stroke="#bbb" stroke-width="0.6" />
<line x1="167.9" y1="742" x2="200.7" y2="731.6" stroke="#666" stroke-width="0.6" />
<line x1="167.9" y1="742" x2="200.7" y2="753.5" stroke="#666" stroke-width="0.6" />
<line x1="167.9" y1="742" x2="200.7" y2="775.6" stroke="#666" stroke-width="0.6" />
<line x1="167.9" y1="742" x2="200.7" y2="797.6" stroke="#666" stroke-width="0.6" />
<line x1="167.9" y1="742" x2="200.7" y2="819.8" stroke="#666" stroke-width="0.6" />
<line x1="167.9" y1="764.2" x2="200.7" y2="731.6" stroke="#666" stroke-width="0.6" />
<line x1="167.9" y1="764.2" x2="200.7" y2="753.5" stroke="#666" stroke-width="0.6" />
<line x1="167.9" y1="764.2" x2="200.7" y2="775.6" stroke="#666" stroke-width="0.6" />
<line x1="167.9" y1="764.2" x2="200.7" y2="797.6" stroke="#666" stroke-width="0.6" />
<line x1="167.9" y1="764.2" x2="200.7" y2="819.8" stroke="#666" stroke-width="0.6" />
<line x1="167.9" y1="786.2" x2="200.7" y2="731.6" stroke="#666" stroke-width="0.6" />
<line x1="167.9" y1="786.2" x2="200.7" y2="753.5" stroke="#666" stroke-width="0.6" />
<line x1="167.9" y1="786.2" x2="200.7" y2="775.6" stroke="#666" stroke-width="0.6" />
<line x1="167.9" y1="786.2" x2="200.7" y2="797.6" stroke="#666" stroke-width="0.6" />
<line x1="167.9" y1="786.2" x2="200.7" y2="819.8" stroke="#666" stroke-width="0.6" />
<line x1="167.9" y1="808.3" x2="200.7" y2="731.6" stroke="#666" stroke-width="0.6" />
<line x1="167.9" y1="808.3" x2="200.7" y2="753.5" stroke="#666" stroke-width="0.6" />
<line x1="167.9" y1="808.3" x2="200.7" y2="775.6" stroke="#666" stroke-width="0.6" />
<line x1="167.9" y1="808.3" x2="200.7" y2="797.6" stroke="#666" stroke-width="0.6" />
<line x1="167.9" y1="808.3" x2="200.7" y2="819.8" stroke="#666" stroke-width="0.6" />
<line x1="48.2" y1="731.6" x2="57.3" y2="731.6" stroke="#000" stroke-width="1.6" />
<line x1="48.2" y1="753.5" x2="57.3" y2="753.5" stroke="#000" stroke-width="1.6" />
<line x1="48.2" y1="775.6" x2="57.3" y2="775.6" stroke="#000" stroke-width="1.6" />
<line x1="48.2" y1="797.6" x2="57.3" y2="797.6" stroke="#000" stroke-width="1.6" />
<line x1="48.2" y1="819.8" x2="57.3" y2="819.8" stroke="#000" stroke-width="1.6" />
<line x1="200.7" y1="731.6" x2="209.5" y2="731.6" stroke="#000" stroke-width="1.6" />
<line x1="200.7" y1="753.5" x2="209.5" y2="753.5" stroke="#000" stroke-width="1.6" />
<line x1="200.7" y1="775.6" x2="209.5" y2="775.6" stroke="#000" stroke-width="1.6" />
<line x1="200.7" y1="797.6" x2="209.5" y2="797.6" stroke="#000" stroke-width="1.6" />
<line x1="200.7" y1="819.8" x2="209.5" y2="819.8" stroke="#000" stroke-width="1.6" />
<circle cx="57.3" cy="731.6" r="2.9" fill="#000"/>
<circle cx="57.3" cy="753.5" r="2.9" fill="#000"/>
<circle cx="57.3" cy="775.6" r="2.9" fill="#000"/>
<circle cx="57.3" cy="797.6" r="2.9" fill="#000"/>
<circle cx="57.3" cy="819.8" r="2.9" fill="#000"/>
<circle cx="90.4" cy="742" r="2.9" fill="#000"/>
<circle cx="90.4" cy="764.2" r="2.9" fill="#000"/>
<circle cx="90.4" cy="786.2" r="2.9" fill="#000"/>
<circle cx="90.4" cy="808.3" r="2.9" fill="#000"/>
<circle cx="113.2" cy="752.8" r="2.9" fill="#000"/>
<circle cx="113.2" cy="775" r="2.9" fill="#000"/>
<circle cx="113.2" cy="796.9" r="2.9" fill="#000"/>
<circle cx="145.4" cy="752.8" r="2.9" fill="#000"/>
<circle cx="145.4" cy="775" r="2.9" fill="#000"/>
<circle cx="145.4" cy="796.9" r="2.9" fill="#000"/>
<circle cx="167.9" cy="742" r="2.9" fill="#000"/>
<circle cx="167.9" cy="764.2" r="2.9" fill="#000"/>
<circle cx="167.9" cy="786.2" r="2.9" fill="#000"/>
<circle cx="167.9" cy="808.3" r="2.9" fill="#000"/>
<circle cx="200.7" cy="731.6" r="2.9" fill="#000"/>
<circle cx="200.7" cy="753.5" r="2.9" fill="#000"/>
<circle cx="200.7" cy="775.6" r="2.9" fill="#000"/>
<circle cx="200.7" cy="797.6" r="2.9" fill="#000"/>
<circle cx="200.7" cy="819.8" r="2.9" fill="#000"/>
<line x1="115.5" y1="764" x2="123.4" y2="764" stroke="#bbb" stroke-width="1.3" />
<line x1="133.9" y1="764" x2="142" y2="764" stroke="#bbb" stroke-width="1.3" stroke-dasharray="3 1.5"/>
<line x1="115.5" y1="786.2" x2="123.4" y2="786.2" stroke="#bbb" stroke-width="1.3" />
<line x1="133.9" y1="786.2" x2="142" y2="786.2" stroke="#bbb" stroke-width="1.3" stroke-dasharray="3 1.5"/>
<rect x="123.4" y="755.7" width="10.5" height="40.7" fill="#f3e4d2" stroke="#ee3b3b" stroke-width="1.2" />
<circle cx="129" cy="764" r="2.9" fill="#000"/>
<circle cx="129" cy="786.2" r="2.9" fill="#000"/>
<path d="M50.7,724.5 V720.7 H117.6 V724.5 M138,724.5 V720.7 H205.1 V724.5" fill="none" stroke="#000" stroke-width="1"/>
<text x="85.2" y="714.9" font-size="11.8" text-anchor="middle" fill="#111" font-style="italic">encoder</text>
<text x="171.6" y="714.9" font-size="11.8" text-anchor="middle" fill="#111" font-style="italic">decoder</text>
<text x="128" y="813.9" font-size="11.5" text-anchor="middle" fill="#111" font-style="italic">(x<tspan font-size="7.5" dy="2">i</tspan><tspan dy="-2">, y</tspan><tspan font-size="7.5" dy="2">i</tspan><tspan dy="-2">)</tspan></text>
<text x="65.2" y="844.4" font-size="12" text-anchor="start" fill="#ee2b2b" font-style="italic">latent Loss (L<tspan font-size="7.8" dy="2.5">0</tspan><tspan dy="-2.5">) = S</tspan><tspan font-size="7.8" dy="2.5">0</tspan><tspan dy="-2.5"> - S</tspan><tspan font-size="7.8" dy="2.5">R</tspan></text>
<text x="331.2" y="702.8" font-size="11.7" text-anchor="middle" fill="#111" font-style="italic">autoencoder</text>
<circle cx="395.5" cy="735.4" r="28.6" fill="none" stroke="#555" stroke-width="1" stroke-dasharray="3 2.2"/>
<circle cx="279.7" cy="824.4" r="32.8" fill="none" stroke="#555" stroke-width="1" stroke-dasharray="3 2.2"/>
<rect x="388" y="706" width="15" height="12" fill="#fff" />
<rect x="271" y="790" width="15" height="12" fill="#fff" />
<text x="395.5" y="716.3" font-size="12.5" text-anchor="middle" fill="#111" font-style="italic">S</text>
<text x="278.8" y="800.2" font-size="12.5" text-anchor="middle" fill="#111" font-style="italic">S</text>
<text x="395.2" y="725.8" font-size="6.5" text-anchor="middle" fill="#111" font-style="italic">2</text>
<text x="278.7" y="810.7" font-size="6.5" text-anchor="middle" fill="#111" font-style="italic">1</text>
<circle cx="385.1" cy="726.3" r="2.4" fill="#6b6b6b"/>
<circle cx="414.7" cy="723" r="2.4" fill="#6b6b6b"/>
<circle cx="381.1" cy="743.8" r="2.4" fill="#6b6b6b"/>
<circle cx="411.3" cy="746.2" r="2.4" fill="#6b6b6b"/>
<circle cx="262.9" cy="811" r="2.4" fill="#6b6b6b"/>
<circle cx="292.1" cy="817" r="2.4" fill="#6b6b6b"/>
<circle cx="262.9" cy="839.5" r="2.4" fill="#6b6b6b"/>
<circle cx="291.1" cy="837.8" r="2.4" fill="#6b6b6b"/>
<circle cx="395.5" cy="735.4" r="2.4" fill="#555" stroke="#555" stroke-width="0.8" stroke-dasharray="0.8 0.6"/>
<circle cx="279.4" cy="825.4" r="2.4" fill="#555" stroke="#555" stroke-width="0.8" stroke-dasharray="0.8 0.6"/>
<line x1="401.3" y1="731.45" x2="409.7" y2="726.55" stroke="#8fbfea" stroke-width="1" />
<polygon points="411.5,725.5 410.05,727.66 408.91,725.7" fill="#8fbfea"/>
<polygon points="399.5,732.5 400.95,730.34 402.09,732.3" fill="#8fbfea"/>
<line x1="272.26" y1="837.82" x2="291.84" y2="824.08" stroke="#6dbb3e" stroke-width="1.1" />
<polygon points="293.8,822.7 292.34,825.32 290.84,823.18" fill="#6dbb3e"/>
<polygon points="270.3,839.2 271.76,836.58 273.26,838.72" fill="#6dbb3e"/>
<line x1="309.4" y1="795.9" x2="362.8" y2="757.2" stroke="#d0703a" stroke-width="1.1" />
<polygon points="365,755.6 363.39,758.59 361.65,756.2" fill="#d0703a"/>
<polygon points="307.2,797.5 308.81,794.51 310.55,796.9" fill="#d0703a"/>
<text x="326" y="724.3" font-size="11.6" text-anchor="middle" fill="#9cc4e8" font-style="italic">distance from</text>
<text x="326" y="737.8" font-size="11.6" text-anchor="middle" fill="#9cc4e8" font-style="italic">centroid (L<tspan font-size="7.6" dy="2.3">3</tspan><tspan dy="-2.3">)</tspan></text>
<text x="278.7" y="768" font-size="11.6" text-anchor="middle" fill="#78b94a" font-style="italic">intra-class</text>
<text x="278.7" y="782.4" font-size="11.6" text-anchor="middle" fill="#78b94a" font-style="italic">loss (L<tspan font-size="7.6" dy="2.3">1</tspan><tspan dy="-2.3">)</tspan></text>
<text x="363.6" y="790.8" font-size="11.6" text-anchor="middle" fill="#d0703a" font-style="italic">inter-class</text>
<text x="363.6" y="804.9" font-size="11.6" text-anchor="middle" fill="#d0703a" font-style="italic">loss (L<tspan font-size="7.6" dy="2.3">2</tspan><tspan dy="-2.3">)</tspan></text>
<text x="316.6" y="840.5" font-size="11.6" text-anchor="start" fill="#111" font-style="italic">loss</text>
<text x="325.7" y="856.3" font-size="11.6" text-anchor="start" fill="#111" font-style="italic">= L<tspan font-size="7.6" dy="2.3">0</tspan><tspan dy="-2.3"> + L</tspan><tspan font-size="7.6" dy="2.3">1</tspan><tspan dy="-2.3"> + 1/L</tspan><tspan font-size="7.6" dy="2.3">2</tspan><tspan dy="-2.3"> + L</tspan><tspan font-size="7.6" dy="2.3">3</tspan></text>
<text x="453.6" y="313.2" font-size="17" text-anchor="start" fill="#000" >d</text>
<line x1="493.5" y1="308" x2="493.5" y2="444.1" stroke="#111" stroke-width="1.25" />
<line x1="492.9" y1="443.5" x2="669.5" y2="443.5" stroke="#111" stroke-width="1.25" />
<line x1="493.5" y1="418.3" x2="497.8" y2="418.3" stroke="#111" stroke-width="1" />
<text transform="translate(489.3,422.1) scale(0.89,1)" font-size="10.8" text-anchor="end" fill="#222">0</text>
<line x1="493.5" y1="392" x2="497.8" y2="392" stroke="#111" stroke-width="1" />
<text transform="translate(489.3,395.8) scale(0.89,1)" font-size="10.8" text-anchor="end" fill="#222">10</text>
<line x1="493.5" y1="365.7" x2="497.8" y2="365.7" stroke="#111" stroke-width="1" />
<text transform="translate(489.3,369.5) scale(0.89,1)" font-size="10.8" text-anchor="end" fill="#222">20</text>
<line x1="493.5" y1="339.4" x2="497.8" y2="339.4" stroke="#111" stroke-width="1" />
<text transform="translate(489.3,343.2) scale(0.89,1)" font-size="10.8" text-anchor="end" fill="#222">30</text>
<line x1="493.5" y1="313.1" x2="497.8" y2="313.1" stroke="#111" stroke-width="1" />
<text transform="translate(489.3,316.9) scale(0.89,1)" font-size="10.8" text-anchor="end" fill="#222">40</text>
<line x1="507.3" y1="443.5" x2="507.3" y2="439" stroke="#111" stroke-width="1" />
<text transform="translate(507.3,454.6) scale(0.89,1)" font-size="10.8" text-anchor="middle" fill="#222">0.0</text>
<line x1="538.5" y1="443.5" x2="538.5" y2="439" stroke="#111" stroke-width="1" />
<text transform="translate(538.5,454.6) scale(0.89,1)" font-size="10.8" text-anchor="middle" fill="#222">2.5</text>
<line x1="569.4" y1="443.5" x2="569.4" y2="439" stroke="#111" stroke-width="1" />
<text transform="translate(569.4,454.6) scale(0.89,1)" font-size="10.8" text-anchor="middle" fill="#222">5.0</text>
<line x1="600.2" y1="443.5" x2="600.2" y2="439" stroke="#111" stroke-width="1" />
<text transform="translate(600.2,454.6) scale(0.89,1)" font-size="10.8" text-anchor="middle" fill="#222">10.0</text>
<line x1="630.8" y1="443.5" x2="630.8" y2="439" stroke="#111" stroke-width="1" />
<text transform="translate(630.8,454.6) scale(0.89,1)" font-size="10.8" text-anchor="middle" fill="#222">20.0</text>
<line x1="661.5" y1="443.5" x2="661.5" y2="439" stroke="#111" stroke-width="1" />
<text transform="translate(661.5,454.6) scale(0.89,1)" font-size="10.8" text-anchor="middle" fill="#222">40.0</text>
<text x="578.5" y="469.1" font-size="13" text-anchor="middle" fill="#222" >true concentration (μM)</text>
<text transform="translate(471.2,374.5) rotate(-90)" font-size="13" text-anchor="middle" fill="#222">prediction (μM)</text>
<text x="505.3" y="316.7" font-size="11.7" text-anchor="start" fill="#ff2a2a" >uric acid</text>
<text x="505.3" y="337.7" font-size="11.7" text-anchor="start" fill="#ff2a2a" >R<tspan font-size="7.7" dy="-4">2</tspan><tspan dy="4">=0.76</tspan></text>
<line x1="507.3" y1="407.78" x2="507.3" y2="393.31" stroke="#111" stroke-width="1.1" stroke-dasharray="3 2"/>
<line x1="507.3" y1="431.45" x2="507.3" y2="418.3" stroke="#111" stroke-width="1.1" stroke-dasharray="3 2"/>
<line x1="504.3" y1="393.31" x2="510.3" y2="393.31" stroke="#111" stroke-width="1.2" />
<line x1="504.3" y1="431.45" x2="510.3" y2="431.45" stroke="#111" stroke-width="1.2" />
<rect x="499.7" y="407.78" width="15.2" height="10.52" fill="none" stroke="#111" stroke-width="1.2" />
<line x1="500.3" y1="412.25" x2="514.3" y2="412.25" stroke="#ff2020" stroke-width="1.3" />
<line x1="538.5" y1="399.89" x2="538.5" y2="388.06" stroke="#111" stroke-width="1.1" stroke-dasharray="3 2"/>
<line x1="538.5" y1="434.08" x2="538.5" y2="416.46" stroke="#111" stroke-width="1.1" stroke-dasharray="3 2"/>
<line x1="535.5" y1="388.06" x2="541.5" y2="388.06" stroke="#111" stroke-width="1.2" />
<line x1="535.5" y1="434.08" x2="541.5" y2="434.08" stroke="#111" stroke-width="1.2" />
<rect x="530.9" y="399.89" width="15.2" height="16.57" fill="none" stroke="#111" stroke-width="1.2" />
<line x1="531.5" y1="404.36" x2="545.5" y2="404.36" stroke="#ff2020" stroke-width="1.3" />
<line x1="569.4" y1="388.58" x2="569.4" y2="367.01" stroke="#111" stroke-width="1.1" stroke-dasharray="3 2"/>
<line x1="569.4" y1="423.56" x2="569.4" y2="410.41" stroke="#111" stroke-width="1.1" stroke-dasharray="3 2"/>
<line x1="566.4" y1="367.01" x2="572.4" y2="367.01" stroke="#111" stroke-width="1.2" />
<line x1="566.4" y1="423.56" x2="572.4" y2="423.56" stroke="#111" stroke-width="1.2" />
<rect x="561.8" y="388.58" width="15.2" height="21.83" fill="none" stroke="#111" stroke-width="1.2" />
<line x1="562.4" y1="401.99" x2="576.4" y2="401.99" stroke="#ff2020" stroke-width="1.3" />
<line x1="600.2" y1="361.23" x2="600.2" y2="355.18" stroke="#111" stroke-width="1.1" stroke-dasharray="3 2"/>
<line x1="600.2" y1="414.36" x2="600.2" y2="388.58" stroke="#111" stroke-width="1.1" stroke-dasharray="3 2"/>
<line x1="597.2" y1="355.18" x2="603.2" y2="355.18" stroke="#111" stroke-width="1.2" />
<line x1="597.2" y1="414.36" x2="603.2" y2="414.36" stroke="#111" stroke-width="1.2" />
<rect x="592.6" y="361.23" width="15.2" height="27.35" fill="none" stroke="#111" stroke-width="1.2" />
<line x1="593.2" y1="378.06" x2="607.2" y2="378.06" stroke="#ff2020" stroke-width="1.3" />
<line x1="630.8" y1="357.28" x2="630.8" y2="340.72" stroke="#111" stroke-width="1.1" stroke-dasharray="3 2"/>
<line x1="630.8" y1="388.58" x2="630.8" y2="370.96" stroke="#111" stroke-width="1.1" stroke-dasharray="3 2"/>
<line x1="627.8" y1="340.72" x2="633.8" y2="340.72" stroke="#111" stroke-width="1.2" />
<line x1="627.8" y1="388.58" x2="633.8" y2="388.58" stroke="#111" stroke-width="1.2" />
<rect x="623.2" y="357.28" width="15.2" height="13.68" fill="none" stroke="#111" stroke-width="1.2" />
<line x1="623.8" y1="363.86" x2="637.8" y2="363.86" stroke="#ff2020" stroke-width="1.3" />
<line x1="661.5" y1="330.2" x2="661.5" y2="318.36" stroke="#111" stroke-width="1.1" stroke-dasharray="3 2"/>
<line x1="661.5" y1="352.55" x2="661.5" y2="342.03" stroke="#111" stroke-width="1.1" stroke-dasharray="3 2"/>
<line x1="658.5" y1="318.36" x2="664.5" y2="318.36" stroke="#111" stroke-width="1.2" />
<line x1="658.5" y1="352.55" x2="664.5" y2="352.55" stroke="#111" stroke-width="1.2" />
<rect x="653.9" y="330.2" width="15.2" height="11.83" fill="none" stroke="#111" stroke-width="1.2" />
<line x1="654.5" y1="334.93" x2="668.5" y2="334.93" stroke="#ff2020" stroke-width="1.3" />
<text x="453.6" y="497.8" font-size="17" text-anchor="start" fill="#000" >e</text>
<line x1="493.5" y1="500.2" x2="493.5" y2="636.1" stroke="#111" stroke-width="1.25" />
<line x1="492.9" y1="635.5" x2="679" y2="635.5" stroke="#111" stroke-width="1.25" />
<line x1="493.5" y1="603.6" x2="497.8" y2="603.6" stroke="#111" stroke-width="1" />
<text transform="translate(489.3,607.4) scale(0.89,1)" font-size="10.8" text-anchor="end" fill="#222">0</text>
<line x1="493.5" y1="581.8" x2="497.8" y2="581.8" stroke="#111" stroke-width="1" />
<text transform="translate(489.3,585.6) scale(0.89,1)" font-size="10.8" text-anchor="end" fill="#222">5</text>
<line x1="493.5" y1="560" x2="497.8" y2="560" stroke="#111" stroke-width="1" />
<text transform="translate(489.3,563.8) scale(0.89,1)" font-size="10.8" text-anchor="end" fill="#222">10</text>
<line x1="493.5" y1="538.2" x2="497.8" y2="538.2" stroke="#111" stroke-width="1" />
<text transform="translate(489.3,542) scale(0.89,1)" font-size="10.8" text-anchor="end" fill="#222">15</text>
<line x1="493.5" y1="516.4" x2="497.8" y2="516.4" stroke="#111" stroke-width="1" />
<text transform="translate(489.3,520.2) scale(0.89,1)" font-size="10.8" text-anchor="end" fill="#222">20</text>
<line x1="507.6" y1="635.5" x2="507.6" y2="631" stroke="#111" stroke-width="1" />
<text transform="translate(507.6,646.8) scale(0.89,1)" font-size="10.8" text-anchor="middle" fill="#222">0</text>
<line x1="538.3" y1="635.5" x2="538.3" y2="631" stroke="#111" stroke-width="1" />
<text transform="translate(538.3,646.8) scale(0.89,1)" font-size="10.8" text-anchor="middle" fill="#222">1</text>
<line x1="568.8" y1="635.5" x2="568.8" y2="631" stroke="#111" stroke-width="1" />
<text transform="translate(568.8,646.8) scale(0.89,1)" font-size="10.8" text-anchor="middle" fill="#222">2</text>
<line x1="599.9" y1="635.5" x2="599.9" y2="631" stroke="#111" stroke-width="1" />
<text transform="translate(599.9,646.8) scale(0.89,1)" font-size="10.8" text-anchor="middle" fill="#222">5</text>
<line x1="630.7" y1="635.5" x2="630.7" y2="631" stroke="#111" stroke-width="1" />
<text transform="translate(630.7,646.8) scale(0.89,1)" font-size="10.8" text-anchor="middle" fill="#222">10</text>
<line x1="661.5" y1="635.5" x2="661.5" y2="631" stroke="#111" stroke-width="1" />
<text transform="translate(661.5,646.8) scale(0.89,1)" font-size="10.8" text-anchor="middle" fill="#222">20</text>
<text x="586.9" y="660.7" font-size="13" text-anchor="middle" fill="#222" >true concentration (mM)</text>
<text transform="translate(470.2,568.2) rotate(-90)" font-size="13" text-anchor="middle" fill="#222">prediction (mM)</text>
<text x="505.3" y="516.3" font-size="11.7" text-anchor="start" fill="#3a3aff" >lactate</text>
<text x="505.3" y="537" font-size="11.7" text-anchor="start" fill="#3a3aff" >R<tspan font-size="7.7" dy="-4">2</tspan><tspan dy="4">=0.73</tspan></text>
<line x1="507.6" y1="577.44" x2="507.6" y2="554.77" stroke="#111" stroke-width="1.1" stroke-dasharray="3 2"/>
<line x1="507.6" y1="626.71" x2="507.6" y2="604.91" stroke="#111" stroke-width="1.1" stroke-dasharray="3 2"/>
<line x1="504.6" y1="554.77" x2="510.6" y2="554.77" stroke="#111" stroke-width="1.2" />
<line x1="504.6" y1="626.71" x2="510.6" y2="626.71" stroke="#111" stroke-width="1.2" />
<rect x="500" y="577.44" width="15.2" height="27.47" fill="none" stroke="#111" stroke-width="1.2" />
<line x1="500.6" y1="593.57" x2="514.6" y2="593.57" stroke="#ff2020" stroke-width="1.3" />
<line x1="538.3" y1="580.49" x2="538.3" y2="573.95" stroke="#111" stroke-width="1.1" stroke-dasharray="3 2"/>
<line x1="538.3" y1="603.6" x2="538.3" y2="593.57" stroke="#111" stroke-width="1.1" stroke-dasharray="3 2"/>
<line x1="535.3" y1="573.95" x2="541.3" y2="573.95" stroke="#111" stroke-width="1.2" />
<line x1="535.3" y1="603.6" x2="541.3" y2="603.6" stroke="#111" stroke-width="1.2" />
<rect x="530.7" y="580.49" width="15.2" height="13.08" fill="none" stroke="#111" stroke-width="1.2" />
<line x1="531.3" y1="587.9" x2="545.3" y2="587.9" stroke="#ff2020" stroke-width="1.3" />
<line x1="568.8" y1="581.8" x2="568.8" y2="575.26" stroke="#111" stroke-width="1.1" stroke-dasharray="3 2"/>
<line x1="568.8" y1="611.01" x2="568.8" y2="594.88" stroke="#111" stroke-width="1.1" stroke-dasharray="3 2"/>
<line x1="565.8" y1="575.26" x2="571.8" y2="575.26" stroke="#111" stroke-width="1.2" />
<line x1="565.8" y1="611.01" x2="571.8" y2="611.01" stroke="#111" stroke-width="1.2" />
<rect x="561.2" y="581.8" width="15.2" height="13.08" fill="none" stroke="#111" stroke-width="1.2" />
<line x1="561.8" y1="589.65" x2="575.8" y2="589.65" stroke="#ff2020" stroke-width="1.3" />
<line x1="599.9" y1="571.77" x2="599.9" y2="546.92" stroke="#111" stroke-width="1.1" stroke-dasharray="3 2"/>
<line x1="599.9" y1="604.91" x2="599.9" y2="590.96" stroke="#111" stroke-width="1.1" stroke-dasharray="3 2"/>
<line x1="596.9" y1="546.92" x2="602.9" y2="546.92" stroke="#111" stroke-width="1.2" />
<line x1="596.9" y1="604.91" x2="602.9" y2="604.91" stroke="#111" stroke-width="1.2" />
<rect x="592.3" y="571.77" width="15.2" height="19.18" fill="none" stroke="#111" stroke-width="1.2" />
<line x1="592.9" y1="582.24" x2="606.9" y2="582.24" stroke="#ff2020" stroke-width="1.3" />
<line x1="630.7" y1="549.1" x2="630.7" y2="533.84" stroke="#111" stroke-width="1.1" stroke-dasharray="3 2"/>
<line x1="630.7" y1="591.39" x2="630.7" y2="566.54" stroke="#111" stroke-width="1.1" stroke-dasharray="3 2"/>
<line x1="627.7" y1="533.84" x2="633.7" y2="533.84" stroke="#111" stroke-width="1.2" />
<line x1="627.7" y1="591.39" x2="633.7" y2="591.39" stroke="#111" stroke-width="1.2" />
<rect x="623.1" y="549.1" width="15.2" height="17.44" fill="none" stroke="#111" stroke-width="1.2" />
<line x1="623.7" y1="557.82" x2="637.7" y2="557.82" stroke="#ff2020" stroke-width="1.3" />
<line x1="661.5" y1="517.27" x2="661.5" y2="502.01" stroke="#111" stroke-width="1.1" stroke-dasharray="3 2"/>
<line x1="661.5" y1="551.28" x2="661.5" y2="530.35" stroke="#111" stroke-width="1.1" stroke-dasharray="3 2"/>
<line x1="658.5" y1="502.01" x2="664.5" y2="502.01" stroke="#111" stroke-width="1.2" />
<line x1="658.5" y1="551.28" x2="664.5" y2="551.28" stroke="#111" stroke-width="1.2" />
<rect x="653.9" y="517.27" width="15.2" height="13.08" fill="none" stroke="#111" stroke-width="1.2" />
<line x1="654.5" y1="524.25" x2="668.5" y2="524.25" stroke="#ff2020" stroke-width="1.3" />
<text x="453.6" y="697.3" font-size="17" text-anchor="start" fill="#000" >f</text>
<line x1="493.5" y1="693.8" x2="493.5" y2="827.1" stroke="#111" stroke-width="1.25" />
<line x1="492.9" y1="826.5" x2="669.5" y2="826.5" stroke="#111" stroke-width="1.25" />
<line x1="493.5" y1="806.7" x2="497.8" y2="806.7" stroke="#111" stroke-width="1" />
<text transform="translate(489.3,810.5) scale(0.89,1)" font-size="10.8" text-anchor="end" fill="#222">0</text>
<line x1="493.5" y1="779.1" x2="497.8" y2="779.1" stroke="#111" stroke-width="1" />
<text transform="translate(489.3,782.9) scale(0.89,1)" font-size="10.8" text-anchor="end" fill="#222">50</text>
<line x1="493.5" y1="751.5" x2="497.8" y2="751.5" stroke="#111" stroke-width="1" />
<text transform="translate(489.3,755.3) scale(0.89,1)" font-size="10.8" text-anchor="end" fill="#222">100</text>
<line x1="493.5" y1="723.9" x2="497.8" y2="723.9" stroke="#111" stroke-width="1" />
<text transform="translate(489.3,727.7) scale(0.89,1)" font-size="10.8" text-anchor="end" fill="#222">150</text>
<line x1="493.5" y1="696.3" x2="497.8" y2="696.3" stroke="#111" stroke-width="1" />
<text transform="translate(489.3,700.1) scale(0.89,1)" font-size="10.8" text-anchor="end" fill="#222">200</text>
<line x1="508.1" y1="826.5" x2="508.1" y2="822" stroke="#111" stroke-width="1" />
<text transform="translate(508.1,838.2) scale(0.89,1)" font-size="10.8" text-anchor="middle" fill="#222">0</text>
<line x1="539.6" y1="826.5" x2="539.6" y2="822" stroke="#111" stroke-width="1" />
<text transform="translate(539.6,838.2) scale(0.89,1)" font-size="10.8" text-anchor="middle" fill="#222">50</text>
<line x1="570.4" y1="826.5" x2="570.4" y2="822" stroke="#111" stroke-width="1" />
<text transform="translate(570.4,838.2) scale(0.89,1)" font-size="10.8" text-anchor="middle" fill="#222">67</text>
<line x1="600.9" y1="826.5" x2="600.9" y2="822" stroke="#111" stroke-width="1" />
<text transform="translate(600.9,838.2) scale(0.89,1)" font-size="10.8" text-anchor="middle" fill="#222">100</text>
<line x1="631.8" y1="826.5" x2="631.8" y2="822" stroke="#111" stroke-width="1" />
<text transform="translate(631.8,838.2) scale(0.89,1)" font-size="10.8" text-anchor="middle" fill="#222">150</text>
<line x1="663" y1="826.5" x2="663" y2="822" stroke="#111" stroke-width="1" />
<text transform="translate(663,838.2) scale(0.89,1)" font-size="10.8" text-anchor="middle" fill="#222">200</text>
<text x="578.5" y="852.2" font-size="13" text-anchor="middle" fill="#222" >true concentration (μM)</text>
<text transform="translate(466.8,760) rotate(-90)" font-size="13" text-anchor="middle" fill="#222">prediction (μM)</text>
<text x="505.3" y="708.5" font-size="11.7" text-anchor="start" fill="#7ab648" >tyrosine</text>
<text x="505.3" y="727.8" font-size="11.7" text-anchor="start" fill="#7ab648" >R<tspan font-size="7.7" dy="-4">2</tspan><tspan dy="4">=0.89</tspan></text>
<line x1="508.1" y1="803.94" x2="508.1" y2="799.52" stroke="#111" stroke-width="1.1" stroke-dasharray="3 2"/>
<line x1="508.1" y1="818.84" x2="508.1" y2="810.56" stroke="#111" stroke-width="1.1" stroke-dasharray="3 2"/>
<line x1="505.1" y1="799.52" x2="511.1" y2="799.52" stroke="#111" stroke-width="1.2" />
<line x1="505.1" y1="818.84" x2="511.1" y2="818.84" stroke="#111" stroke-width="1.2" />
<rect x="500.5" y="803.94" width="15.2" height="6.62" fill="none" stroke="#111" stroke-width="1.2" />
<line x1="501.1" y1="807.8" x2="515.1" y2="807.8" stroke="#ff2020" stroke-width="1.3" />
<line x1="539.6" y1="773.58" x2="539.6" y2="768.06" stroke="#111" stroke-width="1.1" stroke-dasharray="3 2"/>
<line x1="539.6" y1="795.66" x2="539.6" y2="785.72" stroke="#111" stroke-width="1.1" stroke-dasharray="3 2"/>
<line x1="536.6" y1="768.06" x2="542.6" y2="768.06" stroke="#111" stroke-width="1.2" />
<line x1="536.6" y1="795.66" x2="542.6" y2="795.66" stroke="#111" stroke-width="1.2" />
<rect x="532" y="773.58" width="15.2" height="12.14" fill="none" stroke="#111" stroke-width="1.2" />
<line x1="532.6" y1="780.76" x2="546.6" y2="780.76" stroke="#ff2020" stroke-width="1.3" />
<line x1="570.4" y1="757.57" x2="570.4" y2="739.36" stroke="#111" stroke-width="1.1" stroke-dasharray="3 2"/>
<line x1="570.4" y1="776.34" x2="570.4" y2="772.48" stroke="#111" stroke-width="1.1" stroke-dasharray="3 2"/>
<line x1="567.4" y1="739.36" x2="573.4" y2="739.36" stroke="#111" stroke-width="1.2" />
<line x1="567.4" y1="776.34" x2="573.4" y2="776.34" stroke="#111" stroke-width="1.2" />
<rect x="562.8" y="757.57" width="15.2" height="14.9" fill="none" stroke="#111" stroke-width="1.2" />
<line x1="563.4" y1="767.51" x2="577.4" y2="767.51" stroke="#ff2020" stroke-width="1.3" />
<line x1="600.9" y1="747.08" x2="600.9" y2="734.39" stroke="#111" stroke-width="1.1" stroke-dasharray="3 2"/>
<line x1="600.9" y1="777.44" x2="600.9" y2="768.06" stroke="#111" stroke-width="1.1" stroke-dasharray="3 2"/>
<line x1="597.9" y1="734.39" x2="603.9" y2="734.39" stroke="#111" stroke-width="1.2" />
<line x1="597.9" y1="777.44" x2="603.9" y2="777.44" stroke="#111" stroke-width="1.2" />
<rect x="593.3" y="747.08" width="15.2" height="20.98" fill="none" stroke="#111" stroke-width="1.2" />
<line x1="593.9" y1="759.78" x2="607.9" y2="759.78" stroke="#ff2020" stroke-width="1.3" />
<line x1="631.8" y1="723.9" x2="631.8" y2="707.34" stroke="#111" stroke-width="1.1" stroke-dasharray="3 2"/>
<line x1="631.8" y1="748.19" x2="631.8" y2="742.12" stroke="#111" stroke-width="1.1" stroke-dasharray="3 2"/>
<line x1="628.8" y1="707.34" x2="634.8" y2="707.34" stroke="#111" stroke-width="1.2" />
<line x1="628.8" y1="748.19" x2="634.8" y2="748.19" stroke="#111" stroke-width="1.2" />
<rect x="624.2" y="723.9" width="15.2" height="18.22" fill="none" stroke="#111" stroke-width="1.2" />
<line x1="624.8" y1="734.94" x2="638.8" y2="734.94" stroke="#ff2020" stroke-width="1.3" />
<line x1="663" y1="712.86" x2="663" y2="702.37" stroke="#111" stroke-width="1.1" stroke-dasharray="3 2"/>
<line x1="663" y1="734.39" x2="663" y2="726.66" stroke="#111" stroke-width="1.1" stroke-dasharray="3 2"/>
<line x1="660" y1="702.37" x2="666" y2="702.37" stroke="#111" stroke-width="1.2" />
<line x1="660" y1="734.39" x2="666" y2="734.39" stroke="#111" stroke-width="1.2" />
<rect x="655.4" y="712.86" width="15.2" height="13.8" fill="none" stroke="#111" stroke-width="1.2" />
<line x1="656" y1="717.83" x2="670" y2="717.83" stroke="#ff2020" stroke-width="1.3" />
</svg></body></html>
